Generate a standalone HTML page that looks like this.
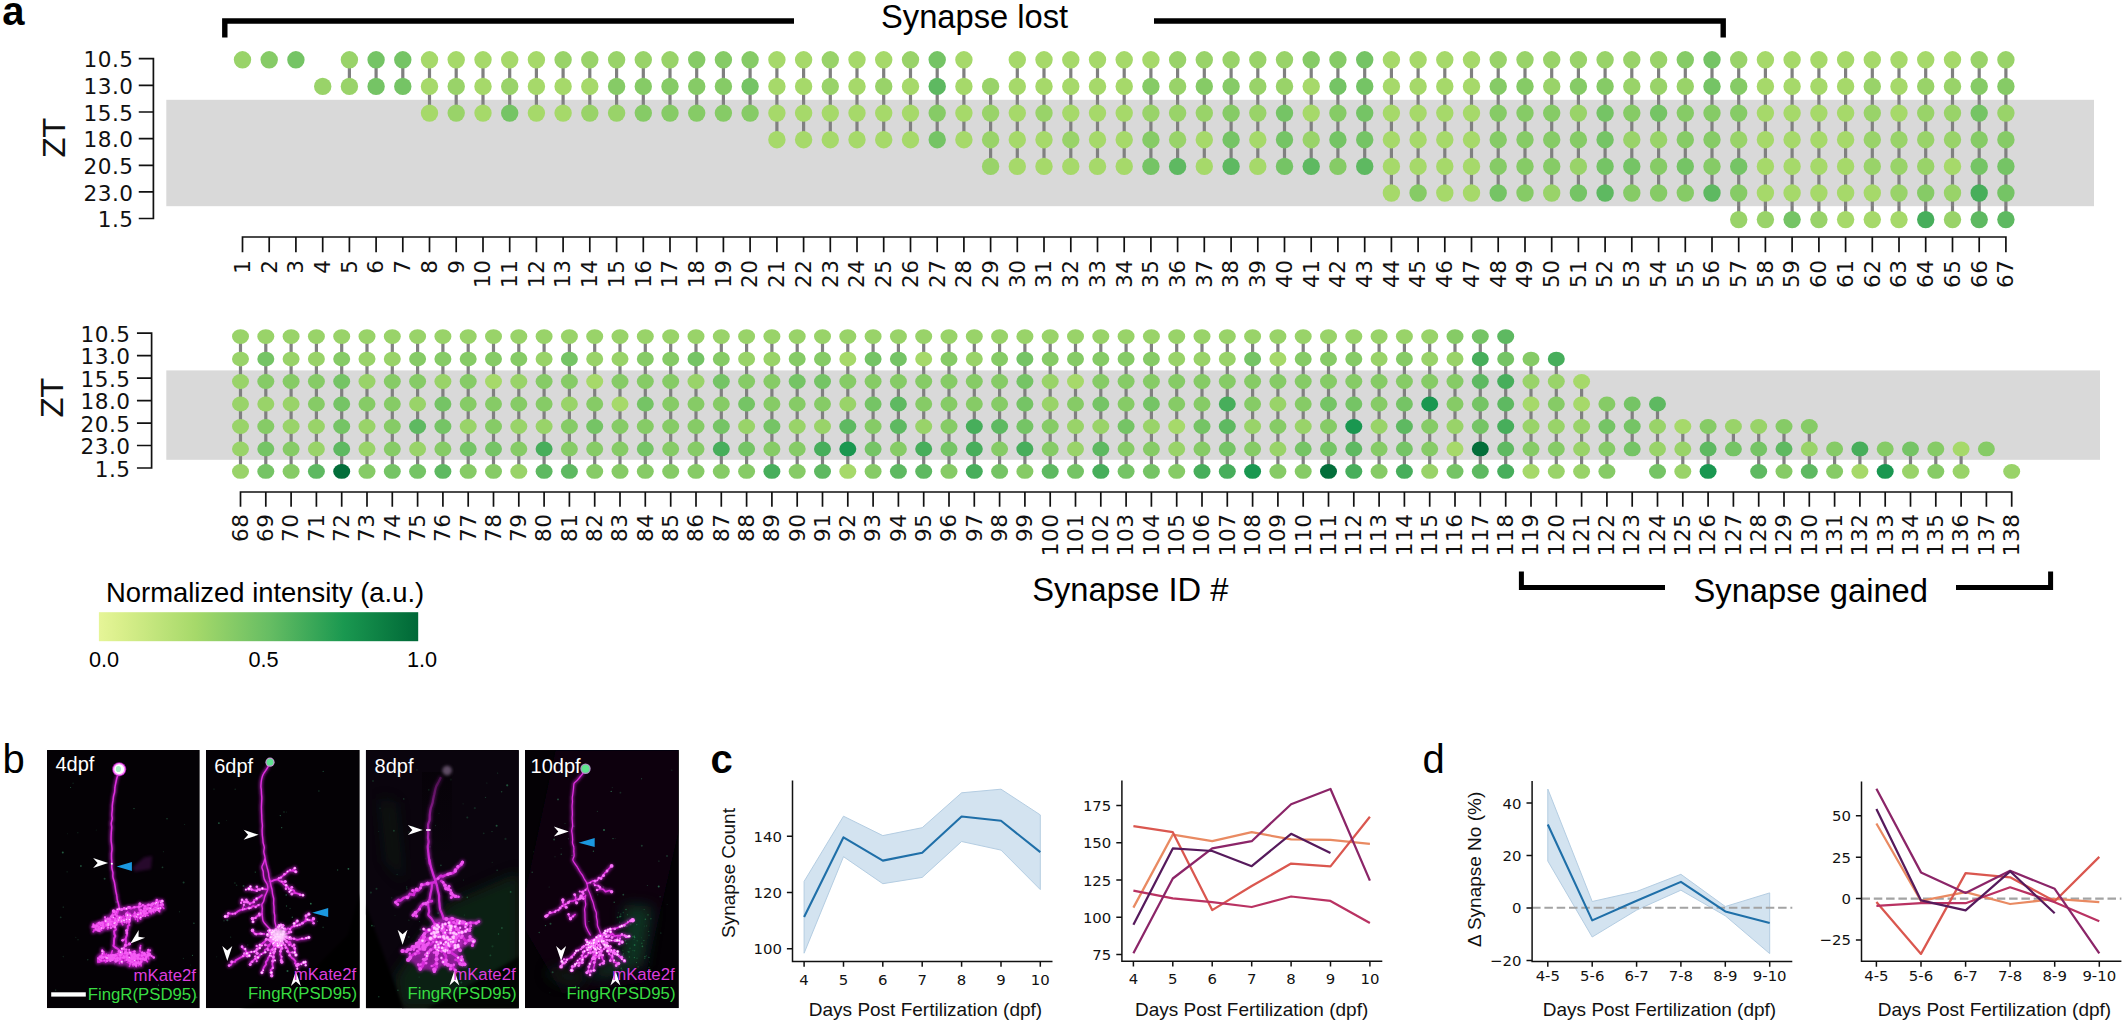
<!DOCTYPE html>
<html lang="en"><head><meta charset="utf-8"><title>Synapse dynamics figure</title>
<style>
html,body{margin:0;padding:0;background:#fff;}
body{width:2125px;height:1023px;overflow:hidden;font-family:"Liberation Sans",sans-serif;}
svg{display:block;}
text{white-space:pre;}
</style></head><body>
<svg width="2125" height="1023" viewBox="0 0 2125 1023">
<rect width="2125" height="1023" fill="#fff"/>
<rect x="166.3" y="99.8" width="1927.7" height="106.4" fill="#d9d9d9"/>
<path d="M349.4 59.8V86.4M376.1 59.8V86.4M402.8 59.8V86.4M429.5 59.8V113.1M456.2 59.8V113.1M483.0 59.8V113.1M509.7 59.8V113.1M536.4 59.8V113.1M563.1 59.8V113.1M589.8 59.8V113.1M616.6 59.8V113.1M643.3 59.8V113.1M670.0 59.8V113.1M696.7 59.8V113.1M723.4 59.8V113.1M750.1 59.8V113.1M776.9 59.8V139.7M803.6 59.8V139.7M830.3 59.8V139.7M857.0 59.8V139.7M883.7 59.8V139.7M910.5 59.8V139.7M937.2 59.8V139.7M963.9 59.8V139.7M990.6 86.4V166.4M1017.3 59.8V166.4M1044.0 59.8V166.4M1070.8 59.8V166.4M1097.5 59.8V166.4M1124.2 59.8V166.4M1150.9 59.8V166.4M1177.6 59.8V166.4M1204.3 59.8V166.4M1231.1 59.8V166.4M1257.8 59.8V166.4M1284.5 59.8V166.4M1311.2 59.8V166.4M1337.9 59.8V166.4M1364.7 59.8V166.4M1391.4 59.8V193.0M1418.1 59.8V193.0M1444.8 59.8V193.0M1471.5 59.8V193.0M1498.2 59.8V193.0M1525.0 59.8V193.0M1551.7 59.8V193.0M1578.4 59.8V193.0M1605.1 59.8V193.0M1631.8 59.8V193.0M1658.6 59.8V193.0M1685.3 59.8V193.0M1712.0 59.8V193.0M1738.7 59.8V219.6M1765.4 59.8V219.6M1792.1 59.8V219.6M1818.9 59.8V219.6M1845.6 59.8V219.6M1872.3 59.8V219.6M1899.0 59.8V219.6M1925.7 59.8V219.6M1952.5 59.8V219.6M1979.2 59.8V219.6M2005.9 59.8V219.6" stroke="#808080" stroke-width="3.2" fill="none"/>
<circle cx="242.5" cy="59.8" r="8.7" fill="#99d369"/>
<circle cx="269.2" cy="59.8" r="8.7" fill="#86cb66"/>
<circle cx="295.9" cy="59.8" r="8.7" fill="#75c465"/>
<circle cx="322.7" cy="86.4" r="8.7" fill="#99d369"/>
<circle cx="349.4" cy="59.8" r="8.7" fill="#99d369"/>
<circle cx="349.4" cy="86.4" r="8.7" fill="#99d369"/>
<circle cx="376.1" cy="59.8" r="8.7" fill="#75c465"/>
<circle cx="376.1" cy="86.4" r="8.7" fill="#75c465"/>
<circle cx="402.8" cy="59.8" r="8.7" fill="#75c465"/>
<circle cx="402.8" cy="86.4" r="8.7" fill="#75c465"/>
<circle cx="429.5" cy="59.8" r="8.7" fill="#a6d96a"/>
<circle cx="429.5" cy="86.4" r="8.7" fill="#a6d96a"/>
<circle cx="429.5" cy="113.1" r="8.7" fill="#a6d96a"/>
<circle cx="456.2" cy="59.8" r="8.7" fill="#a6d96a"/>
<circle cx="456.2" cy="86.4" r="8.7" fill="#99d369"/>
<circle cx="456.2" cy="113.1" r="8.7" fill="#99d369"/>
<circle cx="483.0" cy="59.8" r="8.7" fill="#a6d96a"/>
<circle cx="483.0" cy="86.4" r="8.7" fill="#a6d96a"/>
<circle cx="483.0" cy="113.1" r="8.7" fill="#a6d96a"/>
<circle cx="509.7" cy="59.8" r="8.7" fill="#a6d96a"/>
<circle cx="509.7" cy="86.4" r="8.7" fill="#99d369"/>
<circle cx="509.7" cy="113.1" r="8.7" fill="#75c465"/>
<circle cx="536.4" cy="59.8" r="8.7" fill="#a6d96a"/>
<circle cx="536.4" cy="86.4" r="8.7" fill="#a6d96a"/>
<circle cx="536.4" cy="113.1" r="8.7" fill="#a6d96a"/>
<circle cx="563.1" cy="59.8" r="8.7" fill="#99d369"/>
<circle cx="563.1" cy="86.4" r="8.7" fill="#a6d96a"/>
<circle cx="563.1" cy="113.1" r="8.7" fill="#a6d96a"/>
<circle cx="589.8" cy="59.8" r="8.7" fill="#99d369"/>
<circle cx="589.8" cy="86.4" r="8.7" fill="#a6d96a"/>
<circle cx="589.8" cy="113.1" r="8.7" fill="#99d369"/>
<circle cx="616.6" cy="59.8" r="8.7" fill="#99d369"/>
<circle cx="616.6" cy="86.4" r="8.7" fill="#86cb66"/>
<circle cx="616.6" cy="113.1" r="8.7" fill="#99d369"/>
<circle cx="643.3" cy="59.8" r="8.7" fill="#99d369"/>
<circle cx="643.3" cy="86.4" r="8.7" fill="#86cb66"/>
<circle cx="643.3" cy="113.1" r="8.7" fill="#86cb66"/>
<circle cx="670.0" cy="59.8" r="8.7" fill="#99d369"/>
<circle cx="670.0" cy="86.4" r="8.7" fill="#86cb66"/>
<circle cx="670.0" cy="113.1" r="8.7" fill="#86cb66"/>
<circle cx="696.7" cy="59.8" r="8.7" fill="#86cb66"/>
<circle cx="696.7" cy="86.4" r="8.7" fill="#86cb66"/>
<circle cx="696.7" cy="113.1" r="8.7" fill="#86cb66"/>
<circle cx="723.4" cy="59.8" r="8.7" fill="#86cb66"/>
<circle cx="723.4" cy="86.4" r="8.7" fill="#86cb66"/>
<circle cx="723.4" cy="113.1" r="8.7" fill="#86cb66"/>
<circle cx="750.1" cy="59.8" r="8.7" fill="#86cb66"/>
<circle cx="750.1" cy="86.4" r="8.7" fill="#75c465"/>
<circle cx="750.1" cy="113.1" r="8.7" fill="#86cb66"/>
<circle cx="776.9" cy="59.8" r="8.7" fill="#a6d96a"/>
<circle cx="776.9" cy="86.4" r="8.7" fill="#a6d96a"/>
<circle cx="776.9" cy="113.1" r="8.7" fill="#a6d96a"/>
<circle cx="776.9" cy="139.7" r="8.7" fill="#a6d96a"/>
<circle cx="803.6" cy="59.8" r="8.7" fill="#a6d96a"/>
<circle cx="803.6" cy="86.4" r="8.7" fill="#a6d96a"/>
<circle cx="803.6" cy="113.1" r="8.7" fill="#a6d96a"/>
<circle cx="803.6" cy="139.7" r="8.7" fill="#a6d96a"/>
<circle cx="830.3" cy="59.8" r="8.7" fill="#99d369"/>
<circle cx="830.3" cy="86.4" r="8.7" fill="#99d369"/>
<circle cx="830.3" cy="113.1" r="8.7" fill="#a6d96a"/>
<circle cx="830.3" cy="139.7" r="8.7" fill="#a6d96a"/>
<circle cx="857.0" cy="59.8" r="8.7" fill="#a6d96a"/>
<circle cx="857.0" cy="86.4" r="8.7" fill="#a6d96a"/>
<circle cx="857.0" cy="113.1" r="8.7" fill="#a6d96a"/>
<circle cx="857.0" cy="139.7" r="8.7" fill="#a6d96a"/>
<circle cx="883.7" cy="59.8" r="8.7" fill="#a6d96a"/>
<circle cx="883.7" cy="86.4" r="8.7" fill="#99d369"/>
<circle cx="883.7" cy="113.1" r="8.7" fill="#a6d96a"/>
<circle cx="883.7" cy="139.7" r="8.7" fill="#a6d96a"/>
<circle cx="910.5" cy="59.8" r="8.7" fill="#99d369"/>
<circle cx="910.5" cy="86.4" r="8.7" fill="#a6d96a"/>
<circle cx="910.5" cy="113.1" r="8.7" fill="#a6d96a"/>
<circle cx="910.5" cy="139.7" r="8.7" fill="#a6d96a"/>
<circle cx="937.2" cy="59.8" r="8.7" fill="#75c465"/>
<circle cx="937.2" cy="86.4" r="8.7" fill="#5eb961"/>
<circle cx="937.2" cy="113.1" r="8.7" fill="#86cb66"/>
<circle cx="937.2" cy="139.7" r="8.7" fill="#75c465"/>
<circle cx="963.9" cy="59.8" r="8.7" fill="#a6d96a"/>
<circle cx="963.9" cy="86.4" r="8.7" fill="#a6d96a"/>
<circle cx="963.9" cy="113.1" r="8.7" fill="#a6d96a"/>
<circle cx="963.9" cy="139.7" r="8.7" fill="#a6d96a"/>
<circle cx="990.6" cy="86.4" r="8.7" fill="#99d369"/>
<circle cx="990.6" cy="113.1" r="8.7" fill="#99d369"/>
<circle cx="990.6" cy="139.7" r="8.7" fill="#99d369"/>
<circle cx="990.6" cy="166.4" r="8.7" fill="#99d369"/>
<circle cx="1017.3" cy="59.8" r="8.7" fill="#a6d96a"/>
<circle cx="1017.3" cy="86.4" r="8.7" fill="#a6d96a"/>
<circle cx="1017.3" cy="113.1" r="8.7" fill="#a6d96a"/>
<circle cx="1017.3" cy="139.7" r="8.7" fill="#a6d96a"/>
<circle cx="1017.3" cy="166.4" r="8.7" fill="#a6d96a"/>
<circle cx="1044.0" cy="59.8" r="8.7" fill="#a6d96a"/>
<circle cx="1044.0" cy="86.4" r="8.7" fill="#a6d96a"/>
<circle cx="1044.0" cy="113.1" r="8.7" fill="#99d369"/>
<circle cx="1044.0" cy="139.7" r="8.7" fill="#a6d96a"/>
<circle cx="1044.0" cy="166.4" r="8.7" fill="#a6d96a"/>
<circle cx="1070.8" cy="59.8" r="8.7" fill="#a6d96a"/>
<circle cx="1070.8" cy="86.4" r="8.7" fill="#a6d96a"/>
<circle cx="1070.8" cy="113.1" r="8.7" fill="#a6d96a"/>
<circle cx="1070.8" cy="139.7" r="8.7" fill="#99d369"/>
<circle cx="1070.8" cy="166.4" r="8.7" fill="#a6d96a"/>
<circle cx="1097.5" cy="59.8" r="8.7" fill="#a6d96a"/>
<circle cx="1097.5" cy="86.4" r="8.7" fill="#a6d96a"/>
<circle cx="1097.5" cy="113.1" r="8.7" fill="#a6d96a"/>
<circle cx="1097.5" cy="139.7" r="8.7" fill="#a6d96a"/>
<circle cx="1097.5" cy="166.4" r="8.7" fill="#a6d96a"/>
<circle cx="1124.2" cy="59.8" r="8.7" fill="#a6d96a"/>
<circle cx="1124.2" cy="86.4" r="8.7" fill="#a6d96a"/>
<circle cx="1124.2" cy="113.1" r="8.7" fill="#a6d96a"/>
<circle cx="1124.2" cy="139.7" r="8.7" fill="#a6d96a"/>
<circle cx="1124.2" cy="166.4" r="8.7" fill="#a6d96a"/>
<circle cx="1150.9" cy="59.8" r="8.7" fill="#a6d96a"/>
<circle cx="1150.9" cy="86.4" r="8.7" fill="#86cb66"/>
<circle cx="1150.9" cy="113.1" r="8.7" fill="#99d369"/>
<circle cx="1150.9" cy="139.7" r="8.7" fill="#86cb66"/>
<circle cx="1150.9" cy="166.4" r="8.7" fill="#75c465"/>
<circle cx="1177.6" cy="59.8" r="8.7" fill="#99d369"/>
<circle cx="1177.6" cy="86.4" r="8.7" fill="#99d369"/>
<circle cx="1177.6" cy="113.1" r="8.7" fill="#99d369"/>
<circle cx="1177.6" cy="139.7" r="8.7" fill="#99d369"/>
<circle cx="1177.6" cy="166.4" r="8.7" fill="#5eb961"/>
<circle cx="1204.3" cy="59.8" r="8.7" fill="#99d369"/>
<circle cx="1204.3" cy="86.4" r="8.7" fill="#86cb66"/>
<circle cx="1204.3" cy="113.1" r="8.7" fill="#99d369"/>
<circle cx="1204.3" cy="139.7" r="8.7" fill="#a6d96a"/>
<circle cx="1204.3" cy="166.4" r="8.7" fill="#a6d96a"/>
<circle cx="1231.1" cy="59.8" r="8.7" fill="#99d369"/>
<circle cx="1231.1" cy="86.4" r="8.7" fill="#86cb66"/>
<circle cx="1231.1" cy="113.1" r="8.7" fill="#86cb66"/>
<circle cx="1231.1" cy="139.7" r="8.7" fill="#75c465"/>
<circle cx="1231.1" cy="166.4" r="8.7" fill="#5eb961"/>
<circle cx="1257.8" cy="59.8" r="8.7" fill="#99d369"/>
<circle cx="1257.8" cy="86.4" r="8.7" fill="#99d369"/>
<circle cx="1257.8" cy="113.1" r="8.7" fill="#99d369"/>
<circle cx="1257.8" cy="139.7" r="8.7" fill="#a6d96a"/>
<circle cx="1257.8" cy="166.4" r="8.7" fill="#a6d96a"/>
<circle cx="1284.5" cy="59.8" r="8.7" fill="#99d369"/>
<circle cx="1284.5" cy="86.4" r="8.7" fill="#99d369"/>
<circle cx="1284.5" cy="113.1" r="8.7" fill="#75c465"/>
<circle cx="1284.5" cy="139.7" r="8.7" fill="#75c465"/>
<circle cx="1284.5" cy="166.4" r="8.7" fill="#75c465"/>
<circle cx="1311.2" cy="59.8" r="8.7" fill="#86cb66"/>
<circle cx="1311.2" cy="86.4" r="8.7" fill="#a6d96a"/>
<circle cx="1311.2" cy="113.1" r="8.7" fill="#a6d96a"/>
<circle cx="1311.2" cy="139.7" r="8.7" fill="#99d369"/>
<circle cx="1311.2" cy="166.4" r="8.7" fill="#5eb961"/>
<circle cx="1337.9" cy="59.8" r="8.7" fill="#86cb66"/>
<circle cx="1337.9" cy="86.4" r="8.7" fill="#75c465"/>
<circle cx="1337.9" cy="113.1" r="8.7" fill="#86cb66"/>
<circle cx="1337.9" cy="139.7" r="8.7" fill="#75c465"/>
<circle cx="1337.9" cy="166.4" r="8.7" fill="#86cb66"/>
<circle cx="1364.7" cy="59.8" r="8.7" fill="#75c465"/>
<circle cx="1364.7" cy="86.4" r="8.7" fill="#75c465"/>
<circle cx="1364.7" cy="113.1" r="8.7" fill="#75c465"/>
<circle cx="1364.7" cy="139.7" r="8.7" fill="#75c465"/>
<circle cx="1364.7" cy="166.4" r="8.7" fill="#5eb961"/>
<circle cx="1391.4" cy="59.8" r="8.7" fill="#a6d96a"/>
<circle cx="1391.4" cy="86.4" r="8.7" fill="#a6d96a"/>
<circle cx="1391.4" cy="113.1" r="8.7" fill="#a6d96a"/>
<circle cx="1391.4" cy="139.7" r="8.7" fill="#a6d96a"/>
<circle cx="1391.4" cy="166.4" r="8.7" fill="#a6d96a"/>
<circle cx="1391.4" cy="193.0" r="8.7" fill="#a6d96a"/>
<circle cx="1418.1" cy="59.8" r="8.7" fill="#a6d96a"/>
<circle cx="1418.1" cy="86.4" r="8.7" fill="#a6d96a"/>
<circle cx="1418.1" cy="113.1" r="8.7" fill="#a6d96a"/>
<circle cx="1418.1" cy="139.7" r="8.7" fill="#a6d96a"/>
<circle cx="1418.1" cy="166.4" r="8.7" fill="#a6d96a"/>
<circle cx="1418.1" cy="193.0" r="8.7" fill="#86cb66"/>
<circle cx="1444.8" cy="59.8" r="8.7" fill="#a6d96a"/>
<circle cx="1444.8" cy="86.4" r="8.7" fill="#a6d96a"/>
<circle cx="1444.8" cy="113.1" r="8.7" fill="#a6d96a"/>
<circle cx="1444.8" cy="139.7" r="8.7" fill="#a6d96a"/>
<circle cx="1444.8" cy="166.4" r="8.7" fill="#a6d96a"/>
<circle cx="1444.8" cy="193.0" r="8.7" fill="#a6d96a"/>
<circle cx="1471.5" cy="59.8" r="8.7" fill="#a6d96a"/>
<circle cx="1471.5" cy="86.4" r="8.7" fill="#a6d96a"/>
<circle cx="1471.5" cy="113.1" r="8.7" fill="#a6d96a"/>
<circle cx="1471.5" cy="139.7" r="8.7" fill="#a6d96a"/>
<circle cx="1471.5" cy="166.4" r="8.7" fill="#a6d96a"/>
<circle cx="1471.5" cy="193.0" r="8.7" fill="#a6d96a"/>
<circle cx="1498.2" cy="59.8" r="8.7" fill="#99d369"/>
<circle cx="1498.2" cy="86.4" r="8.7" fill="#86cb66"/>
<circle cx="1498.2" cy="113.1" r="8.7" fill="#86cb66"/>
<circle cx="1498.2" cy="139.7" r="8.7" fill="#86cb66"/>
<circle cx="1498.2" cy="166.4" r="8.7" fill="#86cb66"/>
<circle cx="1498.2" cy="193.0" r="8.7" fill="#75c465"/>
<circle cx="1525.0" cy="59.8" r="8.7" fill="#99d369"/>
<circle cx="1525.0" cy="86.4" r="8.7" fill="#86cb66"/>
<circle cx="1525.0" cy="113.1" r="8.7" fill="#86cb66"/>
<circle cx="1525.0" cy="139.7" r="8.7" fill="#86cb66"/>
<circle cx="1525.0" cy="166.4" r="8.7" fill="#86cb66"/>
<circle cx="1525.0" cy="193.0" r="8.7" fill="#86cb66"/>
<circle cx="1551.7" cy="59.8" r="8.7" fill="#99d369"/>
<circle cx="1551.7" cy="86.4" r="8.7" fill="#99d369"/>
<circle cx="1551.7" cy="113.1" r="8.7" fill="#86cb66"/>
<circle cx="1551.7" cy="139.7" r="8.7" fill="#86cb66"/>
<circle cx="1551.7" cy="166.4" r="8.7" fill="#86cb66"/>
<circle cx="1551.7" cy="193.0" r="8.7" fill="#99d369"/>
<circle cx="1578.4" cy="59.8" r="8.7" fill="#99d369"/>
<circle cx="1578.4" cy="86.4" r="8.7" fill="#86cb66"/>
<circle cx="1578.4" cy="113.1" r="8.7" fill="#99d369"/>
<circle cx="1578.4" cy="139.7" r="8.7" fill="#86cb66"/>
<circle cx="1578.4" cy="166.4" r="8.7" fill="#99d369"/>
<circle cx="1578.4" cy="193.0" r="8.7" fill="#75c465"/>
<circle cx="1605.1" cy="59.8" r="8.7" fill="#99d369"/>
<circle cx="1605.1" cy="86.4" r="8.7" fill="#86cb66"/>
<circle cx="1605.1" cy="113.1" r="8.7" fill="#75c465"/>
<circle cx="1605.1" cy="139.7" r="8.7" fill="#75c465"/>
<circle cx="1605.1" cy="166.4" r="8.7" fill="#75c465"/>
<circle cx="1605.1" cy="193.0" r="8.7" fill="#5eb961"/>
<circle cx="1631.8" cy="59.8" r="8.7" fill="#99d369"/>
<circle cx="1631.8" cy="86.4" r="8.7" fill="#99d369"/>
<circle cx="1631.8" cy="113.1" r="8.7" fill="#86cb66"/>
<circle cx="1631.8" cy="139.7" r="8.7" fill="#99d369"/>
<circle cx="1631.8" cy="166.4" r="8.7" fill="#75c465"/>
<circle cx="1631.8" cy="193.0" r="8.7" fill="#86cb66"/>
<circle cx="1658.6" cy="59.8" r="8.7" fill="#99d369"/>
<circle cx="1658.6" cy="86.4" r="8.7" fill="#99d369"/>
<circle cx="1658.6" cy="113.1" r="8.7" fill="#75c465"/>
<circle cx="1658.6" cy="139.7" r="8.7" fill="#99d369"/>
<circle cx="1658.6" cy="166.4" r="8.7" fill="#86cb66"/>
<circle cx="1658.6" cy="193.0" r="8.7" fill="#86cb66"/>
<circle cx="1685.3" cy="59.8" r="8.7" fill="#86cb66"/>
<circle cx="1685.3" cy="86.4" r="8.7" fill="#99d369"/>
<circle cx="1685.3" cy="113.1" r="8.7" fill="#86cb66"/>
<circle cx="1685.3" cy="139.7" r="8.7" fill="#86cb66"/>
<circle cx="1685.3" cy="166.4" r="8.7" fill="#75c465"/>
<circle cx="1685.3" cy="193.0" r="8.7" fill="#86cb66"/>
<circle cx="1712.0" cy="59.8" r="8.7" fill="#75c465"/>
<circle cx="1712.0" cy="86.4" r="8.7" fill="#75c465"/>
<circle cx="1712.0" cy="113.1" r="8.7" fill="#86cb66"/>
<circle cx="1712.0" cy="139.7" r="8.7" fill="#86cb66"/>
<circle cx="1712.0" cy="166.4" r="8.7" fill="#86cb66"/>
<circle cx="1712.0" cy="193.0" r="8.7" fill="#5eb961"/>
<circle cx="1738.7" cy="59.8" r="8.7" fill="#99d369"/>
<circle cx="1738.7" cy="86.4" r="8.7" fill="#86cb66"/>
<circle cx="1738.7" cy="113.1" r="8.7" fill="#86cb66"/>
<circle cx="1738.7" cy="139.7" r="8.7" fill="#99d369"/>
<circle cx="1738.7" cy="166.4" r="8.7" fill="#75c465"/>
<circle cx="1738.7" cy="193.0" r="8.7" fill="#86cb66"/>
<circle cx="1738.7" cy="219.6" r="8.7" fill="#99d369"/>
<circle cx="1765.4" cy="59.8" r="8.7" fill="#a6d96a"/>
<circle cx="1765.4" cy="86.4" r="8.7" fill="#a6d96a"/>
<circle cx="1765.4" cy="113.1" r="8.7" fill="#a6d96a"/>
<circle cx="1765.4" cy="139.7" r="8.7" fill="#a6d96a"/>
<circle cx="1765.4" cy="166.4" r="8.7" fill="#a6d96a"/>
<circle cx="1765.4" cy="193.0" r="8.7" fill="#a6d96a"/>
<circle cx="1765.4" cy="219.6" r="8.7" fill="#99d369"/>
<circle cx="1792.1" cy="59.8" r="8.7" fill="#a6d96a"/>
<circle cx="1792.1" cy="86.4" r="8.7" fill="#a6d96a"/>
<circle cx="1792.1" cy="113.1" r="8.7" fill="#a6d96a"/>
<circle cx="1792.1" cy="139.7" r="8.7" fill="#a6d96a"/>
<circle cx="1792.1" cy="166.4" r="8.7" fill="#a6d96a"/>
<circle cx="1792.1" cy="193.0" r="8.7" fill="#a6d96a"/>
<circle cx="1792.1" cy="219.6" r="8.7" fill="#75c465"/>
<circle cx="1818.9" cy="59.8" r="8.7" fill="#a6d96a"/>
<circle cx="1818.9" cy="86.4" r="8.7" fill="#a6d96a"/>
<circle cx="1818.9" cy="113.1" r="8.7" fill="#a6d96a"/>
<circle cx="1818.9" cy="139.7" r="8.7" fill="#a6d96a"/>
<circle cx="1818.9" cy="166.4" r="8.7" fill="#a6d96a"/>
<circle cx="1818.9" cy="193.0" r="8.7" fill="#a6d96a"/>
<circle cx="1818.9" cy="219.6" r="8.7" fill="#99d369"/>
<circle cx="1845.6" cy="59.8" r="8.7" fill="#a6d96a"/>
<circle cx="1845.6" cy="86.4" r="8.7" fill="#a6d96a"/>
<circle cx="1845.6" cy="113.1" r="8.7" fill="#a6d96a"/>
<circle cx="1845.6" cy="139.7" r="8.7" fill="#a6d96a"/>
<circle cx="1845.6" cy="166.4" r="8.7" fill="#a6d96a"/>
<circle cx="1845.6" cy="193.0" r="8.7" fill="#a6d96a"/>
<circle cx="1845.6" cy="219.6" r="8.7" fill="#a6d96a"/>
<circle cx="1872.3" cy="59.8" r="8.7" fill="#a6d96a"/>
<circle cx="1872.3" cy="86.4" r="8.7" fill="#99d369"/>
<circle cx="1872.3" cy="113.1" r="8.7" fill="#99d369"/>
<circle cx="1872.3" cy="139.7" r="8.7" fill="#99d369"/>
<circle cx="1872.3" cy="166.4" r="8.7" fill="#99d369"/>
<circle cx="1872.3" cy="193.0" r="8.7" fill="#a6d96a"/>
<circle cx="1872.3" cy="219.6" r="8.7" fill="#a6d96a"/>
<circle cx="1899.0" cy="59.8" r="8.7" fill="#a6d96a"/>
<circle cx="1899.0" cy="86.4" r="8.7" fill="#a6d96a"/>
<circle cx="1899.0" cy="113.1" r="8.7" fill="#a6d96a"/>
<circle cx="1899.0" cy="139.7" r="8.7" fill="#99d369"/>
<circle cx="1899.0" cy="166.4" r="8.7" fill="#99d369"/>
<circle cx="1899.0" cy="193.0" r="8.7" fill="#99d369"/>
<circle cx="1899.0" cy="219.6" r="8.7" fill="#a6d96a"/>
<circle cx="1925.7" cy="59.8" r="8.7" fill="#a6d96a"/>
<circle cx="1925.7" cy="86.4" r="8.7" fill="#99d369"/>
<circle cx="1925.7" cy="113.1" r="8.7" fill="#99d369"/>
<circle cx="1925.7" cy="139.7" r="8.7" fill="#99d369"/>
<circle cx="1925.7" cy="166.4" r="8.7" fill="#99d369"/>
<circle cx="1925.7" cy="193.0" r="8.7" fill="#86cb66"/>
<circle cx="1925.7" cy="219.6" r="8.7" fill="#47ae5b"/>
<circle cx="1952.5" cy="59.8" r="8.7" fill="#a6d96a"/>
<circle cx="1952.5" cy="86.4" r="8.7" fill="#99d369"/>
<circle cx="1952.5" cy="113.1" r="8.7" fill="#99d369"/>
<circle cx="1952.5" cy="139.7" r="8.7" fill="#99d369"/>
<circle cx="1952.5" cy="166.4" r="8.7" fill="#a6d96a"/>
<circle cx="1952.5" cy="193.0" r="8.7" fill="#99d369"/>
<circle cx="1952.5" cy="219.6" r="8.7" fill="#99d369"/>
<circle cx="1979.2" cy="59.8" r="8.7" fill="#99d369"/>
<circle cx="1979.2" cy="86.4" r="8.7" fill="#86cb66"/>
<circle cx="1979.2" cy="113.1" r="8.7" fill="#75c465"/>
<circle cx="1979.2" cy="139.7" r="8.7" fill="#86cb66"/>
<circle cx="1979.2" cy="166.4" r="8.7" fill="#75c465"/>
<circle cx="1979.2" cy="193.0" r="8.7" fill="#47ae5b"/>
<circle cx="1979.2" cy="219.6" r="8.7" fill="#5eb961"/>
<circle cx="2005.9" cy="59.8" r="8.7" fill="#99d369"/>
<circle cx="2005.9" cy="86.4" r="8.7" fill="#86cb66"/>
<circle cx="2005.9" cy="113.1" r="8.7" fill="#99d369"/>
<circle cx="2005.9" cy="139.7" r="8.7" fill="#86cb66"/>
<circle cx="2005.9" cy="166.4" r="8.7" fill="#75c465"/>
<circle cx="2005.9" cy="193.0" r="8.7" fill="#75c465"/>
<circle cx="2005.9" cy="219.6" r="8.7" fill="#5eb961"/>
<path d="M153.4 58.7V218.5M139.6 58.7H153.4M139.6 85.3H153.4M139.6 112.0H153.4M139.6 138.6H153.4M139.6 165.3H153.4M139.6 191.9H153.4M139.6 218.5H153.4" stroke="#111" stroke-width="1.7" fill="none" stroke-linecap="square"/>
<text x="133.5" y="67.3" font-size="21.6" letter-spacing="0.5" text-anchor="end" font-family="DejaVu Sans, Liberation Sans, sans-serif" fill="#111">10.5</text>
<text x="133.5" y="93.9" font-size="21.6" letter-spacing="0.5" text-anchor="end" font-family="DejaVu Sans, Liberation Sans, sans-serif" fill="#111">13.0</text>
<text x="133.5" y="120.6" font-size="21.6" letter-spacing="0.5" text-anchor="end" font-family="DejaVu Sans, Liberation Sans, sans-serif" fill="#111">15.5</text>
<text x="133.5" y="147.2" font-size="21.6" letter-spacing="0.5" text-anchor="end" font-family="DejaVu Sans, Liberation Sans, sans-serif" fill="#111">18.0</text>
<text x="133.5" y="173.8" font-size="21.6" letter-spacing="0.5" text-anchor="end" font-family="DejaVu Sans, Liberation Sans, sans-serif" fill="#111">20.5</text>
<text x="133.5" y="200.5" font-size="21.6" letter-spacing="0.5" text-anchor="end" font-family="DejaVu Sans, Liberation Sans, sans-serif" fill="#111">23.0</text>
<text x="133.5" y="227.1" font-size="21.6" letter-spacing="0.5" text-anchor="end" font-family="DejaVu Sans, Liberation Sans, sans-serif" fill="#111">1.5</text>
<path d="M242.5 237.0H2005.9M242.5 237.0V251.3M269.2 237.0V251.3M295.9 237.0V251.3M322.7 237.0V251.3M349.4 237.0V251.3M376.1 237.0V251.3M402.8 237.0V251.3M429.5 237.0V251.3M456.2 237.0V251.3M483.0 237.0V251.3M509.7 237.0V251.3M536.4 237.0V251.3M563.1 237.0V251.3M589.8 237.0V251.3M616.6 237.0V251.3M643.3 237.0V251.3M670.0 237.0V251.3M696.7 237.0V251.3M723.4 237.0V251.3M750.1 237.0V251.3M776.9 237.0V251.3M803.6 237.0V251.3M830.3 237.0V251.3M857.0 237.0V251.3M883.7 237.0V251.3M910.5 237.0V251.3M937.2 237.0V251.3M963.9 237.0V251.3M990.6 237.0V251.3M1017.3 237.0V251.3M1044.0 237.0V251.3M1070.8 237.0V251.3M1097.5 237.0V251.3M1124.2 237.0V251.3M1150.9 237.0V251.3M1177.6 237.0V251.3M1204.3 237.0V251.3M1231.1 237.0V251.3M1257.8 237.0V251.3M1284.5 237.0V251.3M1311.2 237.0V251.3M1337.9 237.0V251.3M1364.7 237.0V251.3M1391.4 237.0V251.3M1418.1 237.0V251.3M1444.8 237.0V251.3M1471.5 237.0V251.3M1498.2 237.0V251.3M1525.0 237.0V251.3M1551.7 237.0V251.3M1578.4 237.0V251.3M1605.1 237.0V251.3M1631.8 237.0V251.3M1658.6 237.0V251.3M1685.3 237.0V251.3M1712.0 237.0V251.3M1738.7 237.0V251.3M1765.4 237.0V251.3M1792.1 237.0V251.3M1818.9 237.0V251.3M1845.6 237.0V251.3M1872.3 237.0V251.3M1899.0 237.0V251.3M1925.7 237.0V251.3M1952.5 237.0V251.3M1979.2 237.0V251.3M2005.9 237.0V251.3" stroke="#111" stroke-width="1.7" fill="none" stroke-linecap="square"/>
<text transform="translate(249.8 259.4) rotate(-90)" font-size="21.6" letter-spacing="0.5" text-anchor="end" font-family="DejaVu Sans, Liberation Sans, sans-serif" fill="#111">1</text>
<text transform="translate(276.5 259.4) rotate(-90)" font-size="21.6" letter-spacing="0.5" text-anchor="end" font-family="DejaVu Sans, Liberation Sans, sans-serif" fill="#111">2</text>
<text transform="translate(303.2 259.4) rotate(-90)" font-size="21.6" letter-spacing="0.5" text-anchor="end" font-family="DejaVu Sans, Liberation Sans, sans-serif" fill="#111">3</text>
<text transform="translate(329.9 259.4) rotate(-90)" font-size="21.6" letter-spacing="0.5" text-anchor="end" font-family="DejaVu Sans, Liberation Sans, sans-serif" fill="#111">4</text>
<text transform="translate(356.7 259.4) rotate(-90)" font-size="21.6" letter-spacing="0.5" text-anchor="end" font-family="DejaVu Sans, Liberation Sans, sans-serif" fill="#111">5</text>
<text transform="translate(383.4 259.4) rotate(-90)" font-size="21.6" letter-spacing="0.5" text-anchor="end" font-family="DejaVu Sans, Liberation Sans, sans-serif" fill="#111">6</text>
<text transform="translate(410.1 259.4) rotate(-90)" font-size="21.6" letter-spacing="0.5" text-anchor="end" font-family="DejaVu Sans, Liberation Sans, sans-serif" fill="#111">7</text>
<text transform="translate(436.8 259.4) rotate(-90)" font-size="21.6" letter-spacing="0.5" text-anchor="end" font-family="DejaVu Sans, Liberation Sans, sans-serif" fill="#111">8</text>
<text transform="translate(463.5 259.4) rotate(-90)" font-size="21.6" letter-spacing="0.5" text-anchor="end" font-family="DejaVu Sans, Liberation Sans, sans-serif" fill="#111">9</text>
<text transform="translate(490.2 259.4) rotate(-90)" font-size="21.6" letter-spacing="0.5" text-anchor="end" font-family="DejaVu Sans, Liberation Sans, sans-serif" fill="#111">10</text>
<text transform="translate(517.0 259.4) rotate(-90)" font-size="21.6" letter-spacing="0.5" text-anchor="end" font-family="DejaVu Sans, Liberation Sans, sans-serif" fill="#111">11</text>
<text transform="translate(543.7 259.4) rotate(-90)" font-size="21.6" letter-spacing="0.5" text-anchor="end" font-family="DejaVu Sans, Liberation Sans, sans-serif" fill="#111">12</text>
<text transform="translate(570.4 259.4) rotate(-90)" font-size="21.6" letter-spacing="0.5" text-anchor="end" font-family="DejaVu Sans, Liberation Sans, sans-serif" fill="#111">13</text>
<text transform="translate(597.1 259.4) rotate(-90)" font-size="21.6" letter-spacing="0.5" text-anchor="end" font-family="DejaVu Sans, Liberation Sans, sans-serif" fill="#111">14</text>
<text transform="translate(623.8 259.4) rotate(-90)" font-size="21.6" letter-spacing="0.5" text-anchor="end" font-family="DejaVu Sans, Liberation Sans, sans-serif" fill="#111">15</text>
<text transform="translate(650.6 259.4) rotate(-90)" font-size="21.6" letter-spacing="0.5" text-anchor="end" font-family="DejaVu Sans, Liberation Sans, sans-serif" fill="#111">16</text>
<text transform="translate(677.3 259.4) rotate(-90)" font-size="21.6" letter-spacing="0.5" text-anchor="end" font-family="DejaVu Sans, Liberation Sans, sans-serif" fill="#111">17</text>
<text transform="translate(704.0 259.4) rotate(-90)" font-size="21.6" letter-spacing="0.5" text-anchor="end" font-family="DejaVu Sans, Liberation Sans, sans-serif" fill="#111">18</text>
<text transform="translate(730.7 259.4) rotate(-90)" font-size="21.6" letter-spacing="0.5" text-anchor="end" font-family="DejaVu Sans, Liberation Sans, sans-serif" fill="#111">19</text>
<text transform="translate(757.4 259.4) rotate(-90)" font-size="21.6" letter-spacing="0.5" text-anchor="end" font-family="DejaVu Sans, Liberation Sans, sans-serif" fill="#111">20</text>
<text transform="translate(784.1 259.4) rotate(-90)" font-size="21.6" letter-spacing="0.5" text-anchor="end" font-family="DejaVu Sans, Liberation Sans, sans-serif" fill="#111">21</text>
<text transform="translate(810.9 259.4) rotate(-90)" font-size="21.6" letter-spacing="0.5" text-anchor="end" font-family="DejaVu Sans, Liberation Sans, sans-serif" fill="#111">22</text>
<text transform="translate(837.6 259.4) rotate(-90)" font-size="21.6" letter-spacing="0.5" text-anchor="end" font-family="DejaVu Sans, Liberation Sans, sans-serif" fill="#111">23</text>
<text transform="translate(864.3 259.4) rotate(-90)" font-size="21.6" letter-spacing="0.5" text-anchor="end" font-family="DejaVu Sans, Liberation Sans, sans-serif" fill="#111">24</text>
<text transform="translate(891.0 259.4) rotate(-90)" font-size="21.6" letter-spacing="0.5" text-anchor="end" font-family="DejaVu Sans, Liberation Sans, sans-serif" fill="#111">25</text>
<text transform="translate(917.7 259.4) rotate(-90)" font-size="21.6" letter-spacing="0.5" text-anchor="end" font-family="DejaVu Sans, Liberation Sans, sans-serif" fill="#111">26</text>
<text transform="translate(944.5 259.4) rotate(-90)" font-size="21.6" letter-spacing="0.5" text-anchor="end" font-family="DejaVu Sans, Liberation Sans, sans-serif" fill="#111">27</text>
<text transform="translate(971.2 259.4) rotate(-90)" font-size="21.6" letter-spacing="0.5" text-anchor="end" font-family="DejaVu Sans, Liberation Sans, sans-serif" fill="#111">28</text>
<text transform="translate(997.9 259.4) rotate(-90)" font-size="21.6" letter-spacing="0.5" text-anchor="end" font-family="DejaVu Sans, Liberation Sans, sans-serif" fill="#111">29</text>
<text transform="translate(1024.6 259.4) rotate(-90)" font-size="21.6" letter-spacing="0.5" text-anchor="end" font-family="DejaVu Sans, Liberation Sans, sans-serif" fill="#111">30</text>
<text transform="translate(1051.3 259.4) rotate(-90)" font-size="21.6" letter-spacing="0.5" text-anchor="end" font-family="DejaVu Sans, Liberation Sans, sans-serif" fill="#111">31</text>
<text transform="translate(1078.0 259.4) rotate(-90)" font-size="21.6" letter-spacing="0.5" text-anchor="end" font-family="DejaVu Sans, Liberation Sans, sans-serif" fill="#111">32</text>
<text transform="translate(1104.8 259.4) rotate(-90)" font-size="21.6" letter-spacing="0.5" text-anchor="end" font-family="DejaVu Sans, Liberation Sans, sans-serif" fill="#111">33</text>
<text transform="translate(1131.5 259.4) rotate(-90)" font-size="21.6" letter-spacing="0.5" text-anchor="end" font-family="DejaVu Sans, Liberation Sans, sans-serif" fill="#111">34</text>
<text transform="translate(1158.2 259.4) rotate(-90)" font-size="21.6" letter-spacing="0.5" text-anchor="end" font-family="DejaVu Sans, Liberation Sans, sans-serif" fill="#111">35</text>
<text transform="translate(1184.9 259.4) rotate(-90)" font-size="21.6" letter-spacing="0.5" text-anchor="end" font-family="DejaVu Sans, Liberation Sans, sans-serif" fill="#111">36</text>
<text transform="translate(1211.6 259.4) rotate(-90)" font-size="21.6" letter-spacing="0.5" text-anchor="end" font-family="DejaVu Sans, Liberation Sans, sans-serif" fill="#111">37</text>
<text transform="translate(1238.4 259.4) rotate(-90)" font-size="21.6" letter-spacing="0.5" text-anchor="end" font-family="DejaVu Sans, Liberation Sans, sans-serif" fill="#111">38</text>
<text transform="translate(1265.1 259.4) rotate(-90)" font-size="21.6" letter-spacing="0.5" text-anchor="end" font-family="DejaVu Sans, Liberation Sans, sans-serif" fill="#111">39</text>
<text transform="translate(1291.8 259.4) rotate(-90)" font-size="21.6" letter-spacing="0.5" text-anchor="end" font-family="DejaVu Sans, Liberation Sans, sans-serif" fill="#111">40</text>
<text transform="translate(1318.5 259.4) rotate(-90)" font-size="21.6" letter-spacing="0.5" text-anchor="end" font-family="DejaVu Sans, Liberation Sans, sans-serif" fill="#111">41</text>
<text transform="translate(1345.2 259.4) rotate(-90)" font-size="21.6" letter-spacing="0.5" text-anchor="end" font-family="DejaVu Sans, Liberation Sans, sans-serif" fill="#111">42</text>
<text transform="translate(1371.9 259.4) rotate(-90)" font-size="21.6" letter-spacing="0.5" text-anchor="end" font-family="DejaVu Sans, Liberation Sans, sans-serif" fill="#111">43</text>
<text transform="translate(1398.7 259.4) rotate(-90)" font-size="21.6" letter-spacing="0.5" text-anchor="end" font-family="DejaVu Sans, Liberation Sans, sans-serif" fill="#111">44</text>
<text transform="translate(1425.4 259.4) rotate(-90)" font-size="21.6" letter-spacing="0.5" text-anchor="end" font-family="DejaVu Sans, Liberation Sans, sans-serif" fill="#111">45</text>
<text transform="translate(1452.1 259.4) rotate(-90)" font-size="21.6" letter-spacing="0.5" text-anchor="end" font-family="DejaVu Sans, Liberation Sans, sans-serif" fill="#111">46</text>
<text transform="translate(1478.8 259.4) rotate(-90)" font-size="21.6" letter-spacing="0.5" text-anchor="end" font-family="DejaVu Sans, Liberation Sans, sans-serif" fill="#111">47</text>
<text transform="translate(1505.5 259.4) rotate(-90)" font-size="21.6" letter-spacing="0.5" text-anchor="end" font-family="DejaVu Sans, Liberation Sans, sans-serif" fill="#111">48</text>
<text transform="translate(1532.2 259.4) rotate(-90)" font-size="21.6" letter-spacing="0.5" text-anchor="end" font-family="DejaVu Sans, Liberation Sans, sans-serif" fill="#111">49</text>
<text transform="translate(1559.0 259.4) rotate(-90)" font-size="21.6" letter-spacing="0.5" text-anchor="end" font-family="DejaVu Sans, Liberation Sans, sans-serif" fill="#111">50</text>
<text transform="translate(1585.7 259.4) rotate(-90)" font-size="21.6" letter-spacing="0.5" text-anchor="end" font-family="DejaVu Sans, Liberation Sans, sans-serif" fill="#111">51</text>
<text transform="translate(1612.4 259.4) rotate(-90)" font-size="21.6" letter-spacing="0.5" text-anchor="end" font-family="DejaVu Sans, Liberation Sans, sans-serif" fill="#111">52</text>
<text transform="translate(1639.1 259.4) rotate(-90)" font-size="21.6" letter-spacing="0.5" text-anchor="end" font-family="DejaVu Sans, Liberation Sans, sans-serif" fill="#111">53</text>
<text transform="translate(1665.8 259.4) rotate(-90)" font-size="21.6" letter-spacing="0.5" text-anchor="end" font-family="DejaVu Sans, Liberation Sans, sans-serif" fill="#111">54</text>
<text transform="translate(1692.6 259.4) rotate(-90)" font-size="21.6" letter-spacing="0.5" text-anchor="end" font-family="DejaVu Sans, Liberation Sans, sans-serif" fill="#111">55</text>
<text transform="translate(1719.3 259.4) rotate(-90)" font-size="21.6" letter-spacing="0.5" text-anchor="end" font-family="DejaVu Sans, Liberation Sans, sans-serif" fill="#111">56</text>
<text transform="translate(1746.0 259.4) rotate(-90)" font-size="21.6" letter-spacing="0.5" text-anchor="end" font-family="DejaVu Sans, Liberation Sans, sans-serif" fill="#111">57</text>
<text transform="translate(1772.7 259.4) rotate(-90)" font-size="21.6" letter-spacing="0.5" text-anchor="end" font-family="DejaVu Sans, Liberation Sans, sans-serif" fill="#111">58</text>
<text transform="translate(1799.4 259.4) rotate(-90)" font-size="21.6" letter-spacing="0.5" text-anchor="end" font-family="DejaVu Sans, Liberation Sans, sans-serif" fill="#111">59</text>
<text transform="translate(1826.1 259.4) rotate(-90)" font-size="21.6" letter-spacing="0.5" text-anchor="end" font-family="DejaVu Sans, Liberation Sans, sans-serif" fill="#111">60</text>
<text transform="translate(1852.9 259.4) rotate(-90)" font-size="21.6" letter-spacing="0.5" text-anchor="end" font-family="DejaVu Sans, Liberation Sans, sans-serif" fill="#111">61</text>
<text transform="translate(1879.6 259.4) rotate(-90)" font-size="21.6" letter-spacing="0.5" text-anchor="end" font-family="DejaVu Sans, Liberation Sans, sans-serif" fill="#111">62</text>
<text transform="translate(1906.3 259.4) rotate(-90)" font-size="21.6" letter-spacing="0.5" text-anchor="end" font-family="DejaVu Sans, Liberation Sans, sans-serif" fill="#111">63</text>
<text transform="translate(1933.0 259.4) rotate(-90)" font-size="21.6" letter-spacing="0.5" text-anchor="end" font-family="DejaVu Sans, Liberation Sans, sans-serif" fill="#111">64</text>
<text transform="translate(1959.7 259.4) rotate(-90)" font-size="21.6" letter-spacing="0.5" text-anchor="end" font-family="DejaVu Sans, Liberation Sans, sans-serif" fill="#111">65</text>
<text transform="translate(1986.5 259.4) rotate(-90)" font-size="21.6" letter-spacing="0.5" text-anchor="end" font-family="DejaVu Sans, Liberation Sans, sans-serif" fill="#111">66</text>
<text transform="translate(2013.2 259.4) rotate(-90)" font-size="21.6" letter-spacing="0.5" text-anchor="end" font-family="DejaVu Sans, Liberation Sans, sans-serif" fill="#111">67</text>
<rect x="166.3" y="370.4" width="1933.7" height="89.4" fill="#d9d9d9"/>
<path d="M240.5 336.6V471.4M265.8 336.6V471.4M291.1 336.6V471.4M316.4 336.6V471.4M341.7 336.6V471.4M367.0 336.6V471.4M392.3 336.6V471.4M417.6 336.6V471.4M442.9 336.6V471.4M468.2 336.6V471.4M493.5 336.6V471.4M518.8 336.6V471.4M544.1 336.6V471.4M569.4 336.6V471.4M594.7 336.6V471.4M620.0 336.6V471.4M645.3 336.6V471.4M670.7 336.6V471.4M696.0 336.6V471.4M721.3 336.6V471.4M746.6 336.6V471.4M771.9 336.6V471.4M797.2 336.6V471.4M822.5 336.6V471.4M847.8 336.6V471.4M873.1 336.6V471.4M898.4 336.6V471.4M923.7 336.6V471.4M949.0 336.6V471.4M974.3 336.6V471.4M999.6 336.6V471.4M1024.9 336.6V471.4M1050.2 336.6V471.4M1075.5 336.6V471.4M1100.8 336.6V471.4M1126.1 336.6V471.4M1151.4 336.6V471.4M1176.7 336.6V471.4M1202.0 336.6V471.4M1227.3 336.6V471.4M1252.6 336.6V471.4M1277.9 336.6V471.4M1303.2 336.6V471.4M1328.5 336.6V471.4M1353.8 336.6V471.4M1379.1 336.6V471.4M1404.4 336.6V471.4M1429.7 336.6V471.4M1455.0 336.6V471.4M1480.3 336.6V471.4M1505.7 336.6V471.4M1531.0 359.1V471.4M1556.3 359.1V471.4M1581.6 381.5V471.4M1606.9 404.0V471.4M1632.2 404.0V448.9M1657.5 404.0V471.4M1682.8 426.5V471.4M1708.1 426.5V471.4M1733.4 426.5V448.9M1758.7 426.5V471.4M1784.0 426.5V471.4M1809.3 426.5V471.4M1834.6 448.9V471.4M1859.9 448.9V471.4M1885.2 448.9V471.4M1910.5 448.9V471.4M1935.8 448.9V471.4M1961.1 448.9V471.4" stroke="#808080" stroke-width="3.2" fill="none"/>
<ellipse cx="240.5" cy="336.6" rx="8.5" ry="7.4" fill="#99d369"/>
<ellipse cx="240.5" cy="359.1" rx="8.5" ry="7.4" fill="#99d369"/>
<ellipse cx="240.5" cy="381.5" rx="8.5" ry="7.4" fill="#99d369"/>
<ellipse cx="240.5" cy="404.0" rx="8.5" ry="7.4" fill="#99d369"/>
<ellipse cx="240.5" cy="426.5" rx="8.5" ry="7.4" fill="#99d369"/>
<ellipse cx="240.5" cy="448.9" rx="8.5" ry="7.4" fill="#99d369"/>
<ellipse cx="240.5" cy="471.4" rx="8.5" ry="7.4" fill="#99d369"/>
<ellipse cx="265.8" cy="336.6" rx="8.5" ry="7.4" fill="#99d369"/>
<ellipse cx="265.8" cy="359.1" rx="8.5" ry="7.4" fill="#75c465"/>
<ellipse cx="265.8" cy="381.5" rx="8.5" ry="7.4" fill="#86cb66"/>
<ellipse cx="265.8" cy="404.0" rx="8.5" ry="7.4" fill="#99d369"/>
<ellipse cx="265.8" cy="426.5" rx="8.5" ry="7.4" fill="#86cb66"/>
<ellipse cx="265.8" cy="448.9" rx="8.5" ry="7.4" fill="#75c465"/>
<ellipse cx="265.8" cy="471.4" rx="8.5" ry="7.4" fill="#75c465"/>
<ellipse cx="291.1" cy="336.6" rx="8.5" ry="7.4" fill="#99d369"/>
<ellipse cx="291.1" cy="359.1" rx="8.5" ry="7.4" fill="#99d369"/>
<ellipse cx="291.1" cy="381.5" rx="8.5" ry="7.4" fill="#86cb66"/>
<ellipse cx="291.1" cy="404.0" rx="8.5" ry="7.4" fill="#99d369"/>
<ellipse cx="291.1" cy="426.5" rx="8.5" ry="7.4" fill="#99d369"/>
<ellipse cx="291.1" cy="448.9" rx="8.5" ry="7.4" fill="#86cb66"/>
<ellipse cx="291.1" cy="471.4" rx="8.5" ry="7.4" fill="#86cb66"/>
<ellipse cx="316.4" cy="336.6" rx="8.5" ry="7.4" fill="#99d369"/>
<ellipse cx="316.4" cy="359.1" rx="8.5" ry="7.4" fill="#99d369"/>
<ellipse cx="316.4" cy="381.5" rx="8.5" ry="7.4" fill="#86cb66"/>
<ellipse cx="316.4" cy="404.0" rx="8.5" ry="7.4" fill="#86cb66"/>
<ellipse cx="316.4" cy="426.5" rx="8.5" ry="7.4" fill="#99d369"/>
<ellipse cx="316.4" cy="448.9" rx="8.5" ry="7.4" fill="#99d369"/>
<ellipse cx="316.4" cy="471.4" rx="8.5" ry="7.4" fill="#5eb961"/>
<ellipse cx="341.7" cy="336.6" rx="8.5" ry="7.4" fill="#99d369"/>
<ellipse cx="341.7" cy="359.1" rx="8.5" ry="7.4" fill="#86cb66"/>
<ellipse cx="341.7" cy="381.5" rx="8.5" ry="7.4" fill="#75c465"/>
<ellipse cx="341.7" cy="404.0" rx="8.5" ry="7.4" fill="#75c465"/>
<ellipse cx="341.7" cy="426.5" rx="8.5" ry="7.4" fill="#75c465"/>
<ellipse cx="341.7" cy="448.9" rx="8.5" ry="7.4" fill="#5eb961"/>
<ellipse cx="341.7" cy="471.4" rx="8.5" ry="7.4" fill="#036e3a"/>
<ellipse cx="367.0" cy="336.6" rx="8.5" ry="7.4" fill="#99d369"/>
<ellipse cx="367.0" cy="359.1" rx="8.5" ry="7.4" fill="#99d369"/>
<ellipse cx="367.0" cy="381.5" rx="8.5" ry="7.4" fill="#99d369"/>
<ellipse cx="367.0" cy="404.0" rx="8.5" ry="7.4" fill="#86cb66"/>
<ellipse cx="367.0" cy="426.5" rx="8.5" ry="7.4" fill="#99d369"/>
<ellipse cx="367.0" cy="448.9" rx="8.5" ry="7.4" fill="#99d369"/>
<ellipse cx="367.0" cy="471.4" rx="8.5" ry="7.4" fill="#86cb66"/>
<ellipse cx="392.3" cy="336.6" rx="8.5" ry="7.4" fill="#99d369"/>
<ellipse cx="392.3" cy="359.1" rx="8.5" ry="7.4" fill="#99d369"/>
<ellipse cx="392.3" cy="381.5" rx="8.5" ry="7.4" fill="#86cb66"/>
<ellipse cx="392.3" cy="404.0" rx="8.5" ry="7.4" fill="#86cb66"/>
<ellipse cx="392.3" cy="426.5" rx="8.5" ry="7.4" fill="#86cb66"/>
<ellipse cx="392.3" cy="448.9" rx="8.5" ry="7.4" fill="#86cb66"/>
<ellipse cx="392.3" cy="471.4" rx="8.5" ry="7.4" fill="#75c465"/>
<ellipse cx="417.6" cy="336.6" rx="8.5" ry="7.4" fill="#99d369"/>
<ellipse cx="417.6" cy="359.1" rx="8.5" ry="7.4" fill="#86cb66"/>
<ellipse cx="417.6" cy="381.5" rx="8.5" ry="7.4" fill="#86cb66"/>
<ellipse cx="417.6" cy="404.0" rx="8.5" ry="7.4" fill="#99d369"/>
<ellipse cx="417.6" cy="426.5" rx="8.5" ry="7.4" fill="#5eb961"/>
<ellipse cx="417.6" cy="448.9" rx="8.5" ry="7.4" fill="#99d369"/>
<ellipse cx="417.6" cy="471.4" rx="8.5" ry="7.4" fill="#75c465"/>
<ellipse cx="442.9" cy="336.6" rx="8.5" ry="7.4" fill="#99d369"/>
<ellipse cx="442.9" cy="359.1" rx="8.5" ry="7.4" fill="#86cb66"/>
<ellipse cx="442.9" cy="381.5" rx="8.5" ry="7.4" fill="#99d369"/>
<ellipse cx="442.9" cy="404.0" rx="8.5" ry="7.4" fill="#75c465"/>
<ellipse cx="442.9" cy="426.5" rx="8.5" ry="7.4" fill="#75c465"/>
<ellipse cx="442.9" cy="448.9" rx="8.5" ry="7.4" fill="#86cb66"/>
<ellipse cx="442.9" cy="471.4" rx="8.5" ry="7.4" fill="#5eb961"/>
<ellipse cx="468.2" cy="336.6" rx="8.5" ry="7.4" fill="#99d369"/>
<ellipse cx="468.2" cy="359.1" rx="8.5" ry="7.4" fill="#86cb66"/>
<ellipse cx="468.2" cy="381.5" rx="8.5" ry="7.4" fill="#86cb66"/>
<ellipse cx="468.2" cy="404.0" rx="8.5" ry="7.4" fill="#86cb66"/>
<ellipse cx="468.2" cy="426.5" rx="8.5" ry="7.4" fill="#99d369"/>
<ellipse cx="468.2" cy="448.9" rx="8.5" ry="7.4" fill="#75c465"/>
<ellipse cx="468.2" cy="471.4" rx="8.5" ry="7.4" fill="#86cb66"/>
<ellipse cx="493.5" cy="336.6" rx="8.5" ry="7.4" fill="#99d369"/>
<ellipse cx="493.5" cy="359.1" rx="8.5" ry="7.4" fill="#86cb66"/>
<ellipse cx="493.5" cy="381.5" rx="8.5" ry="7.4" fill="#a6d96a"/>
<ellipse cx="493.5" cy="404.0" rx="8.5" ry="7.4" fill="#86cb66"/>
<ellipse cx="493.5" cy="426.5" rx="8.5" ry="7.4" fill="#86cb66"/>
<ellipse cx="493.5" cy="448.9" rx="8.5" ry="7.4" fill="#75c465"/>
<ellipse cx="493.5" cy="471.4" rx="8.5" ry="7.4" fill="#86cb66"/>
<ellipse cx="518.8" cy="336.6" rx="8.5" ry="7.4" fill="#99d369"/>
<ellipse cx="518.8" cy="359.1" rx="8.5" ry="7.4" fill="#86cb66"/>
<ellipse cx="518.8" cy="381.5" rx="8.5" ry="7.4" fill="#99d369"/>
<ellipse cx="518.8" cy="404.0" rx="8.5" ry="7.4" fill="#86cb66"/>
<ellipse cx="518.8" cy="426.5" rx="8.5" ry="7.4" fill="#99d369"/>
<ellipse cx="518.8" cy="448.9" rx="8.5" ry="7.4" fill="#86cb66"/>
<ellipse cx="518.8" cy="471.4" rx="8.5" ry="7.4" fill="#99d369"/>
<ellipse cx="544.1" cy="336.6" rx="8.5" ry="7.4" fill="#99d369"/>
<ellipse cx="544.1" cy="359.1" rx="8.5" ry="7.4" fill="#99d369"/>
<ellipse cx="544.1" cy="381.5" rx="8.5" ry="7.4" fill="#86cb66"/>
<ellipse cx="544.1" cy="404.0" rx="8.5" ry="7.4" fill="#86cb66"/>
<ellipse cx="544.1" cy="426.5" rx="8.5" ry="7.4" fill="#99d369"/>
<ellipse cx="544.1" cy="448.9" rx="8.5" ry="7.4" fill="#47ae5b"/>
<ellipse cx="544.1" cy="471.4" rx="8.5" ry="7.4" fill="#5eb961"/>
<ellipse cx="569.4" cy="336.6" rx="8.5" ry="7.4" fill="#99d369"/>
<ellipse cx="569.4" cy="359.1" rx="8.5" ry="7.4" fill="#75c465"/>
<ellipse cx="569.4" cy="381.5" rx="8.5" ry="7.4" fill="#86cb66"/>
<ellipse cx="569.4" cy="404.0" rx="8.5" ry="7.4" fill="#99d369"/>
<ellipse cx="569.4" cy="426.5" rx="8.5" ry="7.4" fill="#86cb66"/>
<ellipse cx="569.4" cy="448.9" rx="8.5" ry="7.4" fill="#86cb66"/>
<ellipse cx="569.4" cy="471.4" rx="8.5" ry="7.4" fill="#5eb961"/>
<ellipse cx="594.7" cy="336.6" rx="8.5" ry="7.4" fill="#99d369"/>
<ellipse cx="594.7" cy="359.1" rx="8.5" ry="7.4" fill="#99d369"/>
<ellipse cx="594.7" cy="381.5" rx="8.5" ry="7.4" fill="#a6d96a"/>
<ellipse cx="594.7" cy="404.0" rx="8.5" ry="7.4" fill="#86cb66"/>
<ellipse cx="594.7" cy="426.5" rx="8.5" ry="7.4" fill="#75c465"/>
<ellipse cx="594.7" cy="448.9" rx="8.5" ry="7.4" fill="#86cb66"/>
<ellipse cx="594.7" cy="471.4" rx="8.5" ry="7.4" fill="#86cb66"/>
<ellipse cx="620.0" cy="336.6" rx="8.5" ry="7.4" fill="#99d369"/>
<ellipse cx="620.0" cy="359.1" rx="8.5" ry="7.4" fill="#99d369"/>
<ellipse cx="620.0" cy="381.5" rx="8.5" ry="7.4" fill="#86cb66"/>
<ellipse cx="620.0" cy="404.0" rx="8.5" ry="7.4" fill="#a6d96a"/>
<ellipse cx="620.0" cy="426.5" rx="8.5" ry="7.4" fill="#86cb66"/>
<ellipse cx="620.0" cy="448.9" rx="8.5" ry="7.4" fill="#86cb66"/>
<ellipse cx="620.0" cy="471.4" rx="8.5" ry="7.4" fill="#86cb66"/>
<ellipse cx="645.3" cy="336.6" rx="8.5" ry="7.4" fill="#99d369"/>
<ellipse cx="645.3" cy="359.1" rx="8.5" ry="7.4" fill="#86cb66"/>
<ellipse cx="645.3" cy="381.5" rx="8.5" ry="7.4" fill="#86cb66"/>
<ellipse cx="645.3" cy="404.0" rx="8.5" ry="7.4" fill="#75c465"/>
<ellipse cx="645.3" cy="426.5" rx="8.5" ry="7.4" fill="#86cb66"/>
<ellipse cx="645.3" cy="448.9" rx="8.5" ry="7.4" fill="#75c465"/>
<ellipse cx="645.3" cy="471.4" rx="8.5" ry="7.4" fill="#86cb66"/>
<ellipse cx="670.7" cy="336.6" rx="8.5" ry="7.4" fill="#99d369"/>
<ellipse cx="670.7" cy="359.1" rx="8.5" ry="7.4" fill="#86cb66"/>
<ellipse cx="670.7" cy="381.5" rx="8.5" ry="7.4" fill="#86cb66"/>
<ellipse cx="670.7" cy="404.0" rx="8.5" ry="7.4" fill="#86cb66"/>
<ellipse cx="670.7" cy="426.5" rx="8.5" ry="7.4" fill="#86cb66"/>
<ellipse cx="670.7" cy="448.9" rx="8.5" ry="7.4" fill="#86cb66"/>
<ellipse cx="670.7" cy="471.4" rx="8.5" ry="7.4" fill="#86cb66"/>
<ellipse cx="696.0" cy="336.6" rx="8.5" ry="7.4" fill="#99d369"/>
<ellipse cx="696.0" cy="359.1" rx="8.5" ry="7.4" fill="#75c465"/>
<ellipse cx="696.0" cy="381.5" rx="8.5" ry="7.4" fill="#99d369"/>
<ellipse cx="696.0" cy="404.0" rx="8.5" ry="7.4" fill="#86cb66"/>
<ellipse cx="696.0" cy="426.5" rx="8.5" ry="7.4" fill="#86cb66"/>
<ellipse cx="696.0" cy="448.9" rx="8.5" ry="7.4" fill="#86cb66"/>
<ellipse cx="696.0" cy="471.4" rx="8.5" ry="7.4" fill="#86cb66"/>
<ellipse cx="721.3" cy="336.6" rx="8.5" ry="7.4" fill="#99d369"/>
<ellipse cx="721.3" cy="359.1" rx="8.5" ry="7.4" fill="#86cb66"/>
<ellipse cx="721.3" cy="381.5" rx="8.5" ry="7.4" fill="#75c465"/>
<ellipse cx="721.3" cy="404.0" rx="8.5" ry="7.4" fill="#86cb66"/>
<ellipse cx="721.3" cy="426.5" rx="8.5" ry="7.4" fill="#75c465"/>
<ellipse cx="721.3" cy="448.9" rx="8.5" ry="7.4" fill="#47ae5b"/>
<ellipse cx="721.3" cy="471.4" rx="8.5" ry="7.4" fill="#86cb66"/>
<ellipse cx="746.6" cy="336.6" rx="8.5" ry="7.4" fill="#99d369"/>
<ellipse cx="746.6" cy="359.1" rx="8.5" ry="7.4" fill="#99d369"/>
<ellipse cx="746.6" cy="381.5" rx="8.5" ry="7.4" fill="#86cb66"/>
<ellipse cx="746.6" cy="404.0" rx="8.5" ry="7.4" fill="#75c465"/>
<ellipse cx="746.6" cy="426.5" rx="8.5" ry="7.4" fill="#99d369"/>
<ellipse cx="746.6" cy="448.9" rx="8.5" ry="7.4" fill="#75c465"/>
<ellipse cx="746.6" cy="471.4" rx="8.5" ry="7.4" fill="#86cb66"/>
<ellipse cx="771.9" cy="336.6" rx="8.5" ry="7.4" fill="#99d369"/>
<ellipse cx="771.9" cy="359.1" rx="8.5" ry="7.4" fill="#99d369"/>
<ellipse cx="771.9" cy="381.5" rx="8.5" ry="7.4" fill="#86cb66"/>
<ellipse cx="771.9" cy="404.0" rx="8.5" ry="7.4" fill="#86cb66"/>
<ellipse cx="771.9" cy="426.5" rx="8.5" ry="7.4" fill="#75c465"/>
<ellipse cx="771.9" cy="448.9" rx="8.5" ry="7.4" fill="#86cb66"/>
<ellipse cx="771.9" cy="471.4" rx="8.5" ry="7.4" fill="#47ae5b"/>
<ellipse cx="797.2" cy="336.6" rx="8.5" ry="7.4" fill="#99d369"/>
<ellipse cx="797.2" cy="359.1" rx="8.5" ry="7.4" fill="#86cb66"/>
<ellipse cx="797.2" cy="381.5" rx="8.5" ry="7.4" fill="#75c465"/>
<ellipse cx="797.2" cy="404.0" rx="8.5" ry="7.4" fill="#86cb66"/>
<ellipse cx="797.2" cy="426.5" rx="8.5" ry="7.4" fill="#99d369"/>
<ellipse cx="797.2" cy="448.9" rx="8.5" ry="7.4" fill="#86cb66"/>
<ellipse cx="797.2" cy="471.4" rx="8.5" ry="7.4" fill="#86cb66"/>
<ellipse cx="822.5" cy="336.6" rx="8.5" ry="7.4" fill="#99d369"/>
<ellipse cx="822.5" cy="359.1" rx="8.5" ry="7.4" fill="#86cb66"/>
<ellipse cx="822.5" cy="381.5" rx="8.5" ry="7.4" fill="#75c465"/>
<ellipse cx="822.5" cy="404.0" rx="8.5" ry="7.4" fill="#86cb66"/>
<ellipse cx="822.5" cy="426.5" rx="8.5" ry="7.4" fill="#99d369"/>
<ellipse cx="822.5" cy="448.9" rx="8.5" ry="7.4" fill="#47ae5b"/>
<ellipse cx="822.5" cy="471.4" rx="8.5" ry="7.4" fill="#5eb961"/>
<ellipse cx="847.8" cy="336.6" rx="8.5" ry="7.4" fill="#99d369"/>
<ellipse cx="847.8" cy="359.1" rx="8.5" ry="7.4" fill="#a6d96a"/>
<ellipse cx="847.8" cy="381.5" rx="8.5" ry="7.4" fill="#86cb66"/>
<ellipse cx="847.8" cy="404.0" rx="8.5" ry="7.4" fill="#99d369"/>
<ellipse cx="847.8" cy="426.5" rx="8.5" ry="7.4" fill="#5eb961"/>
<ellipse cx="847.8" cy="448.9" rx="8.5" ry="7.4" fill="#1a9750"/>
<ellipse cx="847.8" cy="471.4" rx="8.5" ry="7.4" fill="#a6d96a"/>
<ellipse cx="873.1" cy="336.6" rx="8.5" ry="7.4" fill="#99d369"/>
<ellipse cx="873.1" cy="359.1" rx="8.5" ry="7.4" fill="#75c465"/>
<ellipse cx="873.1" cy="381.5" rx="8.5" ry="7.4" fill="#86cb66"/>
<ellipse cx="873.1" cy="404.0" rx="8.5" ry="7.4" fill="#75c465"/>
<ellipse cx="873.1" cy="426.5" rx="8.5" ry="7.4" fill="#86cb66"/>
<ellipse cx="873.1" cy="448.9" rx="8.5" ry="7.4" fill="#75c465"/>
<ellipse cx="873.1" cy="471.4" rx="8.5" ry="7.4" fill="#86cb66"/>
<ellipse cx="898.4" cy="336.6" rx="8.5" ry="7.4" fill="#99d369"/>
<ellipse cx="898.4" cy="359.1" rx="8.5" ry="7.4" fill="#75c465"/>
<ellipse cx="898.4" cy="381.5" rx="8.5" ry="7.4" fill="#86cb66"/>
<ellipse cx="898.4" cy="404.0" rx="8.5" ry="7.4" fill="#5eb961"/>
<ellipse cx="898.4" cy="426.5" rx="8.5" ry="7.4" fill="#5eb961"/>
<ellipse cx="898.4" cy="448.9" rx="8.5" ry="7.4" fill="#86cb66"/>
<ellipse cx="898.4" cy="471.4" rx="8.5" ry="7.4" fill="#5eb961"/>
<ellipse cx="923.7" cy="336.6" rx="8.5" ry="7.4" fill="#99d369"/>
<ellipse cx="923.7" cy="359.1" rx="8.5" ry="7.4" fill="#a6d96a"/>
<ellipse cx="923.7" cy="381.5" rx="8.5" ry="7.4" fill="#86cb66"/>
<ellipse cx="923.7" cy="404.0" rx="8.5" ry="7.4" fill="#86cb66"/>
<ellipse cx="923.7" cy="426.5" rx="8.5" ry="7.4" fill="#99d369"/>
<ellipse cx="923.7" cy="448.9" rx="8.5" ry="7.4" fill="#47ae5b"/>
<ellipse cx="923.7" cy="471.4" rx="8.5" ry="7.4" fill="#5eb961"/>
<ellipse cx="949.0" cy="336.6" rx="8.5" ry="7.4" fill="#99d369"/>
<ellipse cx="949.0" cy="359.1" rx="8.5" ry="7.4" fill="#86cb66"/>
<ellipse cx="949.0" cy="381.5" rx="8.5" ry="7.4" fill="#86cb66"/>
<ellipse cx="949.0" cy="404.0" rx="8.5" ry="7.4" fill="#86cb66"/>
<ellipse cx="949.0" cy="426.5" rx="8.5" ry="7.4" fill="#86cb66"/>
<ellipse cx="949.0" cy="448.9" rx="8.5" ry="7.4" fill="#75c465"/>
<ellipse cx="949.0" cy="471.4" rx="8.5" ry="7.4" fill="#86cb66"/>
<ellipse cx="974.3" cy="336.6" rx="8.5" ry="7.4" fill="#99d369"/>
<ellipse cx="974.3" cy="359.1" rx="8.5" ry="7.4" fill="#99d369"/>
<ellipse cx="974.3" cy="381.5" rx="8.5" ry="7.4" fill="#86cb66"/>
<ellipse cx="974.3" cy="404.0" rx="8.5" ry="7.4" fill="#86cb66"/>
<ellipse cx="974.3" cy="426.5" rx="8.5" ry="7.4" fill="#47ae5b"/>
<ellipse cx="974.3" cy="448.9" rx="8.5" ry="7.4" fill="#47ae5b"/>
<ellipse cx="974.3" cy="471.4" rx="8.5" ry="7.4" fill="#47ae5b"/>
<ellipse cx="999.6" cy="336.6" rx="8.5" ry="7.4" fill="#99d369"/>
<ellipse cx="999.6" cy="359.1" rx="8.5" ry="7.4" fill="#86cb66"/>
<ellipse cx="999.6" cy="381.5" rx="8.5" ry="7.4" fill="#86cb66"/>
<ellipse cx="999.6" cy="404.0" rx="8.5" ry="7.4" fill="#86cb66"/>
<ellipse cx="999.6" cy="426.5" rx="8.5" ry="7.4" fill="#5eb961"/>
<ellipse cx="999.6" cy="448.9" rx="8.5" ry="7.4" fill="#86cb66"/>
<ellipse cx="999.6" cy="471.4" rx="8.5" ry="7.4" fill="#75c465"/>
<ellipse cx="1024.9" cy="336.6" rx="8.5" ry="7.4" fill="#99d369"/>
<ellipse cx="1024.9" cy="359.1" rx="8.5" ry="7.4" fill="#75c465"/>
<ellipse cx="1024.9" cy="381.5" rx="8.5" ry="7.4" fill="#75c465"/>
<ellipse cx="1024.9" cy="404.0" rx="8.5" ry="7.4" fill="#75c465"/>
<ellipse cx="1024.9" cy="426.5" rx="8.5" ry="7.4" fill="#75c465"/>
<ellipse cx="1024.9" cy="448.9" rx="8.5" ry="7.4" fill="#47ae5b"/>
<ellipse cx="1024.9" cy="471.4" rx="8.5" ry="7.4" fill="#86cb66"/>
<ellipse cx="1050.2" cy="336.6" rx="8.5" ry="7.4" fill="#99d369"/>
<ellipse cx="1050.2" cy="359.1" rx="8.5" ry="7.4" fill="#86cb66"/>
<ellipse cx="1050.2" cy="381.5" rx="8.5" ry="7.4" fill="#99d369"/>
<ellipse cx="1050.2" cy="404.0" rx="8.5" ry="7.4" fill="#99d369"/>
<ellipse cx="1050.2" cy="426.5" rx="8.5" ry="7.4" fill="#86cb66"/>
<ellipse cx="1050.2" cy="448.9" rx="8.5" ry="7.4" fill="#86cb66"/>
<ellipse cx="1050.2" cy="471.4" rx="8.5" ry="7.4" fill="#5eb961"/>
<ellipse cx="1075.5" cy="336.6" rx="8.5" ry="7.4" fill="#99d369"/>
<ellipse cx="1075.5" cy="359.1" rx="8.5" ry="7.4" fill="#86cb66"/>
<ellipse cx="1075.5" cy="381.5" rx="8.5" ry="7.4" fill="#a6d96a"/>
<ellipse cx="1075.5" cy="404.0" rx="8.5" ry="7.4" fill="#86cb66"/>
<ellipse cx="1075.5" cy="426.5" rx="8.5" ry="7.4" fill="#99d369"/>
<ellipse cx="1075.5" cy="448.9" rx="8.5" ry="7.4" fill="#99d369"/>
<ellipse cx="1075.5" cy="471.4" rx="8.5" ry="7.4" fill="#75c465"/>
<ellipse cx="1100.8" cy="336.6" rx="8.5" ry="7.4" fill="#99d369"/>
<ellipse cx="1100.8" cy="359.1" rx="8.5" ry="7.4" fill="#86cb66"/>
<ellipse cx="1100.8" cy="381.5" rx="8.5" ry="7.4" fill="#86cb66"/>
<ellipse cx="1100.8" cy="404.0" rx="8.5" ry="7.4" fill="#75c465"/>
<ellipse cx="1100.8" cy="426.5" rx="8.5" ry="7.4" fill="#99d369"/>
<ellipse cx="1100.8" cy="448.9" rx="8.5" ry="7.4" fill="#5eb961"/>
<ellipse cx="1100.8" cy="471.4" rx="8.5" ry="7.4" fill="#47ae5b"/>
<ellipse cx="1126.1" cy="336.6" rx="8.5" ry="7.4" fill="#99d369"/>
<ellipse cx="1126.1" cy="359.1" rx="8.5" ry="7.4" fill="#86cb66"/>
<ellipse cx="1126.1" cy="381.5" rx="8.5" ry="7.4" fill="#86cb66"/>
<ellipse cx="1126.1" cy="404.0" rx="8.5" ry="7.4" fill="#86cb66"/>
<ellipse cx="1126.1" cy="426.5" rx="8.5" ry="7.4" fill="#75c465"/>
<ellipse cx="1126.1" cy="448.9" rx="8.5" ry="7.4" fill="#86cb66"/>
<ellipse cx="1126.1" cy="471.4" rx="8.5" ry="7.4" fill="#75c465"/>
<ellipse cx="1151.4" cy="336.6" rx="8.5" ry="7.4" fill="#99d369"/>
<ellipse cx="1151.4" cy="359.1" rx="8.5" ry="7.4" fill="#86cb66"/>
<ellipse cx="1151.4" cy="381.5" rx="8.5" ry="7.4" fill="#86cb66"/>
<ellipse cx="1151.4" cy="404.0" rx="8.5" ry="7.4" fill="#75c465"/>
<ellipse cx="1151.4" cy="426.5" rx="8.5" ry="7.4" fill="#99d369"/>
<ellipse cx="1151.4" cy="448.9" rx="8.5" ry="7.4" fill="#86cb66"/>
<ellipse cx="1151.4" cy="471.4" rx="8.5" ry="7.4" fill="#75c465"/>
<ellipse cx="1176.7" cy="336.6" rx="8.5" ry="7.4" fill="#99d369"/>
<ellipse cx="1176.7" cy="359.1" rx="8.5" ry="7.4" fill="#99d369"/>
<ellipse cx="1176.7" cy="381.5" rx="8.5" ry="7.4" fill="#86cb66"/>
<ellipse cx="1176.7" cy="404.0" rx="8.5" ry="7.4" fill="#86cb66"/>
<ellipse cx="1176.7" cy="426.5" rx="8.5" ry="7.4" fill="#a6d96a"/>
<ellipse cx="1176.7" cy="448.9" rx="8.5" ry="7.4" fill="#99d369"/>
<ellipse cx="1176.7" cy="471.4" rx="8.5" ry="7.4" fill="#86cb66"/>
<ellipse cx="1202.0" cy="336.6" rx="8.5" ry="7.4" fill="#99d369"/>
<ellipse cx="1202.0" cy="359.1" rx="8.5" ry="7.4" fill="#99d369"/>
<ellipse cx="1202.0" cy="381.5" rx="8.5" ry="7.4" fill="#86cb66"/>
<ellipse cx="1202.0" cy="404.0" rx="8.5" ry="7.4" fill="#86cb66"/>
<ellipse cx="1202.0" cy="426.5" rx="8.5" ry="7.4" fill="#75c465"/>
<ellipse cx="1202.0" cy="448.9" rx="8.5" ry="7.4" fill="#86cb66"/>
<ellipse cx="1202.0" cy="471.4" rx="8.5" ry="7.4" fill="#47ae5b"/>
<ellipse cx="1227.3" cy="336.6" rx="8.5" ry="7.4" fill="#99d369"/>
<ellipse cx="1227.3" cy="359.1" rx="8.5" ry="7.4" fill="#99d369"/>
<ellipse cx="1227.3" cy="381.5" rx="8.5" ry="7.4" fill="#86cb66"/>
<ellipse cx="1227.3" cy="404.0" rx="8.5" ry="7.4" fill="#47ae5b"/>
<ellipse cx="1227.3" cy="426.5" rx="8.5" ry="7.4" fill="#5eb961"/>
<ellipse cx="1227.3" cy="448.9" rx="8.5" ry="7.4" fill="#75c465"/>
<ellipse cx="1227.3" cy="471.4" rx="8.5" ry="7.4" fill="#47ae5b"/>
<ellipse cx="1252.6" cy="336.6" rx="8.5" ry="7.4" fill="#99d369"/>
<ellipse cx="1252.6" cy="359.1" rx="8.5" ry="7.4" fill="#75c465"/>
<ellipse cx="1252.6" cy="381.5" rx="8.5" ry="7.4" fill="#86cb66"/>
<ellipse cx="1252.6" cy="404.0" rx="8.5" ry="7.4" fill="#86cb66"/>
<ellipse cx="1252.6" cy="426.5" rx="8.5" ry="7.4" fill="#99d369"/>
<ellipse cx="1252.6" cy="448.9" rx="8.5" ry="7.4" fill="#86cb66"/>
<ellipse cx="1252.6" cy="471.4" rx="8.5" ry="7.4" fill="#1a9750"/>
<ellipse cx="1277.9" cy="336.6" rx="8.5" ry="7.4" fill="#99d369"/>
<ellipse cx="1277.9" cy="359.1" rx="8.5" ry="7.4" fill="#a6d96a"/>
<ellipse cx="1277.9" cy="381.5" rx="8.5" ry="7.4" fill="#86cb66"/>
<ellipse cx="1277.9" cy="404.0" rx="8.5" ry="7.4" fill="#99d369"/>
<ellipse cx="1277.9" cy="426.5" rx="8.5" ry="7.4" fill="#86cb66"/>
<ellipse cx="1277.9" cy="448.9" rx="8.5" ry="7.4" fill="#99d369"/>
<ellipse cx="1277.9" cy="471.4" rx="8.5" ry="7.4" fill="#86cb66"/>
<ellipse cx="1303.2" cy="336.6" rx="8.5" ry="7.4" fill="#99d369"/>
<ellipse cx="1303.2" cy="359.1" rx="8.5" ry="7.4" fill="#86cb66"/>
<ellipse cx="1303.2" cy="381.5" rx="8.5" ry="7.4" fill="#86cb66"/>
<ellipse cx="1303.2" cy="404.0" rx="8.5" ry="7.4" fill="#86cb66"/>
<ellipse cx="1303.2" cy="426.5" rx="8.5" ry="7.4" fill="#99d369"/>
<ellipse cx="1303.2" cy="448.9" rx="8.5" ry="7.4" fill="#75c465"/>
<ellipse cx="1303.2" cy="471.4" rx="8.5" ry="7.4" fill="#86cb66"/>
<ellipse cx="1328.5" cy="336.6" rx="8.5" ry="7.4" fill="#99d369"/>
<ellipse cx="1328.5" cy="359.1" rx="8.5" ry="7.4" fill="#86cb66"/>
<ellipse cx="1328.5" cy="381.5" rx="8.5" ry="7.4" fill="#86cb66"/>
<ellipse cx="1328.5" cy="404.0" rx="8.5" ry="7.4" fill="#75c465"/>
<ellipse cx="1328.5" cy="426.5" rx="8.5" ry="7.4" fill="#86cb66"/>
<ellipse cx="1328.5" cy="448.9" rx="8.5" ry="7.4" fill="#75c465"/>
<ellipse cx="1328.5" cy="471.4" rx="8.5" ry="7.4" fill="#036e3a"/>
<ellipse cx="1353.8" cy="336.6" rx="8.5" ry="7.4" fill="#99d369"/>
<ellipse cx="1353.8" cy="359.1" rx="8.5" ry="7.4" fill="#86cb66"/>
<ellipse cx="1353.8" cy="381.5" rx="8.5" ry="7.4" fill="#86cb66"/>
<ellipse cx="1353.8" cy="404.0" rx="8.5" ry="7.4" fill="#75c465"/>
<ellipse cx="1353.8" cy="426.5" rx="8.5" ry="7.4" fill="#1a9750"/>
<ellipse cx="1353.8" cy="448.9" rx="8.5" ry="7.4" fill="#5eb961"/>
<ellipse cx="1353.8" cy="471.4" rx="8.5" ry="7.4" fill="#47ae5b"/>
<ellipse cx="1379.1" cy="336.6" rx="8.5" ry="7.4" fill="#99d369"/>
<ellipse cx="1379.1" cy="359.1" rx="8.5" ry="7.4" fill="#99d369"/>
<ellipse cx="1379.1" cy="381.5" rx="8.5" ry="7.4" fill="#86cb66"/>
<ellipse cx="1379.1" cy="404.0" rx="8.5" ry="7.4" fill="#86cb66"/>
<ellipse cx="1379.1" cy="426.5" rx="8.5" ry="7.4" fill="#99d369"/>
<ellipse cx="1379.1" cy="448.9" rx="8.5" ry="7.4" fill="#86cb66"/>
<ellipse cx="1379.1" cy="471.4" rx="8.5" ry="7.4" fill="#86cb66"/>
<ellipse cx="1404.4" cy="336.6" rx="8.5" ry="7.4" fill="#99d369"/>
<ellipse cx="1404.4" cy="359.1" rx="8.5" ry="7.4" fill="#86cb66"/>
<ellipse cx="1404.4" cy="381.5" rx="8.5" ry="7.4" fill="#86cb66"/>
<ellipse cx="1404.4" cy="404.0" rx="8.5" ry="7.4" fill="#75c465"/>
<ellipse cx="1404.4" cy="426.5" rx="8.5" ry="7.4" fill="#5eb961"/>
<ellipse cx="1404.4" cy="448.9" rx="8.5" ry="7.4" fill="#75c465"/>
<ellipse cx="1404.4" cy="471.4" rx="8.5" ry="7.4" fill="#47ae5b"/>
<ellipse cx="1429.7" cy="336.6" rx="8.5" ry="7.4" fill="#99d369"/>
<ellipse cx="1429.7" cy="359.1" rx="8.5" ry="7.4" fill="#99d369"/>
<ellipse cx="1429.7" cy="381.5" rx="8.5" ry="7.4" fill="#86cb66"/>
<ellipse cx="1429.7" cy="404.0" rx="8.5" ry="7.4" fill="#1a9750"/>
<ellipse cx="1429.7" cy="426.5" rx="8.5" ry="7.4" fill="#86cb66"/>
<ellipse cx="1429.7" cy="448.9" rx="8.5" ry="7.4" fill="#86cb66"/>
<ellipse cx="1429.7" cy="471.4" rx="8.5" ry="7.4" fill="#99d369"/>
<ellipse cx="1455.0" cy="336.6" rx="8.5" ry="7.4" fill="#86cb66"/>
<ellipse cx="1455.0" cy="359.1" rx="8.5" ry="7.4" fill="#99d369"/>
<ellipse cx="1455.0" cy="381.5" rx="8.5" ry="7.4" fill="#86cb66"/>
<ellipse cx="1455.0" cy="404.0" rx="8.5" ry="7.4" fill="#86cb66"/>
<ellipse cx="1455.0" cy="426.5" rx="8.5" ry="7.4" fill="#99d369"/>
<ellipse cx="1455.0" cy="448.9" rx="8.5" ry="7.4" fill="#a6d96a"/>
<ellipse cx="1455.0" cy="471.4" rx="8.5" ry="7.4" fill="#75c465"/>
<ellipse cx="1480.3" cy="336.6" rx="8.5" ry="7.4" fill="#75c465"/>
<ellipse cx="1480.3" cy="359.1" rx="8.5" ry="7.4" fill="#47ae5b"/>
<ellipse cx="1480.3" cy="381.5" rx="8.5" ry="7.4" fill="#5eb961"/>
<ellipse cx="1480.3" cy="404.0" rx="8.5" ry="7.4" fill="#75c465"/>
<ellipse cx="1480.3" cy="426.5" rx="8.5" ry="7.4" fill="#75c465"/>
<ellipse cx="1480.3" cy="448.9" rx="8.5" ry="7.4" fill="#036e3a"/>
<ellipse cx="1480.3" cy="471.4" rx="8.5" ry="7.4" fill="#5eb961"/>
<ellipse cx="1505.7" cy="336.6" rx="8.5" ry="7.4" fill="#5eb961"/>
<ellipse cx="1505.7" cy="359.1" rx="8.5" ry="7.4" fill="#75c465"/>
<ellipse cx="1505.7" cy="381.5" rx="8.5" ry="7.4" fill="#47ae5b"/>
<ellipse cx="1505.7" cy="404.0" rx="8.5" ry="7.4" fill="#5eb961"/>
<ellipse cx="1505.7" cy="426.5" rx="8.5" ry="7.4" fill="#47ae5b"/>
<ellipse cx="1505.7" cy="448.9" rx="8.5" ry="7.4" fill="#5eb961"/>
<ellipse cx="1505.7" cy="471.4" rx="8.5" ry="7.4" fill="#47ae5b"/>
<ellipse cx="1531.0" cy="359.1" rx="8.5" ry="7.4" fill="#86cb66"/>
<ellipse cx="1531.0" cy="381.5" rx="8.5" ry="7.4" fill="#99d369"/>
<ellipse cx="1531.0" cy="404.0" rx="8.5" ry="7.4" fill="#a6d96a"/>
<ellipse cx="1531.0" cy="426.5" rx="8.5" ry="7.4" fill="#99d369"/>
<ellipse cx="1531.0" cy="448.9" rx="8.5" ry="7.4" fill="#86cb66"/>
<ellipse cx="1531.0" cy="471.4" rx="8.5" ry="7.4" fill="#a6d96a"/>
<ellipse cx="1556.3" cy="359.1" rx="8.5" ry="7.4" fill="#47ae5b"/>
<ellipse cx="1556.3" cy="381.5" rx="8.5" ry="7.4" fill="#99d369"/>
<ellipse cx="1556.3" cy="404.0" rx="8.5" ry="7.4" fill="#86cb66"/>
<ellipse cx="1556.3" cy="426.5" rx="8.5" ry="7.4" fill="#99d369"/>
<ellipse cx="1556.3" cy="448.9" rx="8.5" ry="7.4" fill="#86cb66"/>
<ellipse cx="1556.3" cy="471.4" rx="8.5" ry="7.4" fill="#99d369"/>
<ellipse cx="1581.6" cy="381.5" rx="8.5" ry="7.4" fill="#a6d96a"/>
<ellipse cx="1581.6" cy="404.0" rx="8.5" ry="7.4" fill="#a6d96a"/>
<ellipse cx="1581.6" cy="426.5" rx="8.5" ry="7.4" fill="#99d369"/>
<ellipse cx="1581.6" cy="448.9" rx="8.5" ry="7.4" fill="#99d369"/>
<ellipse cx="1581.6" cy="471.4" rx="8.5" ry="7.4" fill="#99d369"/>
<ellipse cx="1606.9" cy="404.0" rx="8.5" ry="7.4" fill="#86cb66"/>
<ellipse cx="1606.9" cy="426.5" rx="8.5" ry="7.4" fill="#75c465"/>
<ellipse cx="1606.9" cy="448.9" rx="8.5" ry="7.4" fill="#86cb66"/>
<ellipse cx="1606.9" cy="471.4" rx="8.5" ry="7.4" fill="#86cb66"/>
<ellipse cx="1632.2" cy="404.0" rx="8.5" ry="7.4" fill="#75c465"/>
<ellipse cx="1632.2" cy="426.5" rx="8.5" ry="7.4" fill="#75c465"/>
<ellipse cx="1632.2" cy="448.9" rx="8.5" ry="7.4" fill="#75c465"/>
<ellipse cx="1657.5" cy="404.0" rx="8.5" ry="7.4" fill="#5eb961"/>
<ellipse cx="1657.5" cy="426.5" rx="8.5" ry="7.4" fill="#99d369"/>
<ellipse cx="1657.5" cy="448.9" rx="8.5" ry="7.4" fill="#99d369"/>
<ellipse cx="1657.5" cy="471.4" rx="8.5" ry="7.4" fill="#75c465"/>
<ellipse cx="1682.8" cy="426.5" rx="8.5" ry="7.4" fill="#a6d96a"/>
<ellipse cx="1682.8" cy="448.9" rx="8.5" ry="7.4" fill="#99d369"/>
<ellipse cx="1682.8" cy="471.4" rx="8.5" ry="7.4" fill="#99d369"/>
<ellipse cx="1708.1" cy="426.5" rx="8.5" ry="7.4" fill="#86cb66"/>
<ellipse cx="1708.1" cy="448.9" rx="8.5" ry="7.4" fill="#5eb961"/>
<ellipse cx="1708.1" cy="471.4" rx="8.5" ry="7.4" fill="#1a9750"/>
<ellipse cx="1733.4" cy="426.5" rx="8.5" ry="7.4" fill="#99d369"/>
<ellipse cx="1733.4" cy="448.9" rx="8.5" ry="7.4" fill="#75c465"/>
<ellipse cx="1758.7" cy="426.5" rx="8.5" ry="7.4" fill="#99d369"/>
<ellipse cx="1758.7" cy="448.9" rx="8.5" ry="7.4" fill="#75c465"/>
<ellipse cx="1758.7" cy="471.4" rx="8.5" ry="7.4" fill="#5eb961"/>
<ellipse cx="1784.0" cy="426.5" rx="8.5" ry="7.4" fill="#86cb66"/>
<ellipse cx="1784.0" cy="448.9" rx="8.5" ry="7.4" fill="#5eb961"/>
<ellipse cx="1784.0" cy="471.4" rx="8.5" ry="7.4" fill="#86cb66"/>
<ellipse cx="1809.3" cy="426.5" rx="8.5" ry="7.4" fill="#86cb66"/>
<ellipse cx="1809.3" cy="448.9" rx="8.5" ry="7.4" fill="#99d369"/>
<ellipse cx="1809.3" cy="471.4" rx="8.5" ry="7.4" fill="#5eb961"/>
<ellipse cx="1834.6" cy="448.9" rx="8.5" ry="7.4" fill="#86cb66"/>
<ellipse cx="1834.6" cy="471.4" rx="8.5" ry="7.4" fill="#86cb66"/>
<ellipse cx="1859.9" cy="448.9" rx="8.5" ry="7.4" fill="#47ae5b"/>
<ellipse cx="1859.9" cy="471.4" rx="8.5" ry="7.4" fill="#a6d96a"/>
<ellipse cx="1885.2" cy="448.9" rx="8.5" ry="7.4" fill="#86cb66"/>
<ellipse cx="1885.2" cy="471.4" rx="8.5" ry="7.4" fill="#1a9750"/>
<ellipse cx="1910.5" cy="448.9" rx="8.5" ry="7.4" fill="#75c465"/>
<ellipse cx="1910.5" cy="471.4" rx="8.5" ry="7.4" fill="#99d369"/>
<ellipse cx="1935.8" cy="448.9" rx="8.5" ry="7.4" fill="#86cb66"/>
<ellipse cx="1935.8" cy="471.4" rx="8.5" ry="7.4" fill="#86cb66"/>
<ellipse cx="1961.1" cy="448.9" rx="8.5" ry="7.4" fill="#a6d96a"/>
<ellipse cx="1961.1" cy="471.4" rx="8.5" ry="7.4" fill="#99d369"/>
<ellipse cx="1986.4" cy="448.9" rx="8.5" ry="7.4" fill="#86cb66"/>
<ellipse cx="2011.7" cy="471.4" rx="8.5" ry="7.4" fill="#99d369"/>
<path d="M151.6 333.2V468.0M137.8 333.2H151.6M137.8 355.7H151.6M137.8 378.1H151.6M137.8 400.6H151.6M137.8 423.1H151.6M137.8 445.5H151.6M137.8 468.0H151.6" stroke="#111" stroke-width="1.7" fill="none" stroke-linecap="square"/>
<text x="130.5" y="341.9" font-size="21.6" letter-spacing="0.5" text-anchor="end" font-family="DejaVu Sans, Liberation Sans, sans-serif" fill="#111">10.5</text>
<text x="130.5" y="364.4" font-size="21.6" letter-spacing="0.5" text-anchor="end" font-family="DejaVu Sans, Liberation Sans, sans-serif" fill="#111">13.0</text>
<text x="130.5" y="386.8" font-size="21.6" letter-spacing="0.5" text-anchor="end" font-family="DejaVu Sans, Liberation Sans, sans-serif" fill="#111">15.5</text>
<text x="130.5" y="409.3" font-size="21.6" letter-spacing="0.5" text-anchor="end" font-family="DejaVu Sans, Liberation Sans, sans-serif" fill="#111">18.0</text>
<text x="130.5" y="431.8" font-size="21.6" letter-spacing="0.5" text-anchor="end" font-family="DejaVu Sans, Liberation Sans, sans-serif" fill="#111">20.5</text>
<text x="130.5" y="454.2" font-size="21.6" letter-spacing="0.5" text-anchor="end" font-family="DejaVu Sans, Liberation Sans, sans-serif" fill="#111">23.0</text>
<text x="130.5" y="476.7" font-size="21.6" letter-spacing="0.5" text-anchor="end" font-family="DejaVu Sans, Liberation Sans, sans-serif" fill="#111">1.5</text>
<path d="M240.5 492.0H2011.7M240.5 492.0V505.8M265.8 492.0V505.8M291.1 492.0V505.8M316.4 492.0V505.8M341.7 492.0V505.8M367.0 492.0V505.8M392.3 492.0V505.8M417.6 492.0V505.8M442.9 492.0V505.8M468.2 492.0V505.8M493.5 492.0V505.8M518.8 492.0V505.8M544.1 492.0V505.8M569.4 492.0V505.8M594.7 492.0V505.8M620.0 492.0V505.8M645.3 492.0V505.8M670.7 492.0V505.8M696.0 492.0V505.8M721.3 492.0V505.8M746.6 492.0V505.8M771.9 492.0V505.8M797.2 492.0V505.8M822.5 492.0V505.8M847.8 492.0V505.8M873.1 492.0V505.8M898.4 492.0V505.8M923.7 492.0V505.8M949.0 492.0V505.8M974.3 492.0V505.8M999.6 492.0V505.8M1024.9 492.0V505.8M1050.2 492.0V505.8M1075.5 492.0V505.8M1100.8 492.0V505.8M1126.1 492.0V505.8M1151.4 492.0V505.8M1176.7 492.0V505.8M1202.0 492.0V505.8M1227.3 492.0V505.8M1252.6 492.0V505.8M1277.9 492.0V505.8M1303.2 492.0V505.8M1328.5 492.0V505.8M1353.8 492.0V505.8M1379.1 492.0V505.8M1404.4 492.0V505.8M1429.7 492.0V505.8M1455.0 492.0V505.8M1480.3 492.0V505.8M1505.7 492.0V505.8M1531.0 492.0V505.8M1556.3 492.0V505.8M1581.6 492.0V505.8M1606.9 492.0V505.8M1632.2 492.0V505.8M1657.5 492.0V505.8M1682.8 492.0V505.8M1708.1 492.0V505.8M1733.4 492.0V505.8M1758.7 492.0V505.8M1784.0 492.0V505.8M1809.3 492.0V505.8M1834.6 492.0V505.8M1859.9 492.0V505.8M1885.2 492.0V505.8M1910.5 492.0V505.8M1935.8 492.0V505.8M1961.1 492.0V505.8M1986.4 492.0V505.8M2011.7 492.0V505.8" stroke="#111" stroke-width="1.7" fill="none" stroke-linecap="square"/>
<text transform="translate(247.8 513.6) rotate(-90)" font-size="21.6" letter-spacing="0.5" text-anchor="end" font-family="DejaVu Sans, Liberation Sans, sans-serif" fill="#111">68</text>
<text transform="translate(273.1 513.6) rotate(-90)" font-size="21.6" letter-spacing="0.5" text-anchor="end" font-family="DejaVu Sans, Liberation Sans, sans-serif" fill="#111">69</text>
<text transform="translate(298.4 513.6) rotate(-90)" font-size="21.6" letter-spacing="0.5" text-anchor="end" font-family="DejaVu Sans, Liberation Sans, sans-serif" fill="#111">70</text>
<text transform="translate(323.7 513.6) rotate(-90)" font-size="21.6" letter-spacing="0.5" text-anchor="end" font-family="DejaVu Sans, Liberation Sans, sans-serif" fill="#111">71</text>
<text transform="translate(349.0 513.6) rotate(-90)" font-size="21.6" letter-spacing="0.5" text-anchor="end" font-family="DejaVu Sans, Liberation Sans, sans-serif" fill="#111">72</text>
<text transform="translate(374.3 513.6) rotate(-90)" font-size="21.6" letter-spacing="0.5" text-anchor="end" font-family="DejaVu Sans, Liberation Sans, sans-serif" fill="#111">73</text>
<text transform="translate(399.6 513.6) rotate(-90)" font-size="21.6" letter-spacing="0.5" text-anchor="end" font-family="DejaVu Sans, Liberation Sans, sans-serif" fill="#111">74</text>
<text transform="translate(424.9 513.6) rotate(-90)" font-size="21.6" letter-spacing="0.5" text-anchor="end" font-family="DejaVu Sans, Liberation Sans, sans-serif" fill="#111">75</text>
<text transform="translate(450.2 513.6) rotate(-90)" font-size="21.6" letter-spacing="0.5" text-anchor="end" font-family="DejaVu Sans, Liberation Sans, sans-serif" fill="#111">76</text>
<text transform="translate(475.5 513.6) rotate(-90)" font-size="21.6" letter-spacing="0.5" text-anchor="end" font-family="DejaVu Sans, Liberation Sans, sans-serif" fill="#111">77</text>
<text transform="translate(500.8 513.6) rotate(-90)" font-size="21.6" letter-spacing="0.5" text-anchor="end" font-family="DejaVu Sans, Liberation Sans, sans-serif" fill="#111">78</text>
<text transform="translate(526.1 513.6) rotate(-90)" font-size="21.6" letter-spacing="0.5" text-anchor="end" font-family="DejaVu Sans, Liberation Sans, sans-serif" fill="#111">79</text>
<text transform="translate(551.4 513.6) rotate(-90)" font-size="21.6" letter-spacing="0.5" text-anchor="end" font-family="DejaVu Sans, Liberation Sans, sans-serif" fill="#111">80</text>
<text transform="translate(576.7 513.6) rotate(-90)" font-size="21.6" letter-spacing="0.5" text-anchor="end" font-family="DejaVu Sans, Liberation Sans, sans-serif" fill="#111">81</text>
<text transform="translate(602.0 513.6) rotate(-90)" font-size="21.6" letter-spacing="0.5" text-anchor="end" font-family="DejaVu Sans, Liberation Sans, sans-serif" fill="#111">82</text>
<text transform="translate(627.3 513.6) rotate(-90)" font-size="21.6" letter-spacing="0.5" text-anchor="end" font-family="DejaVu Sans, Liberation Sans, sans-serif" fill="#111">83</text>
<text transform="translate(652.6 513.6) rotate(-90)" font-size="21.6" letter-spacing="0.5" text-anchor="end" font-family="DejaVu Sans, Liberation Sans, sans-serif" fill="#111">84</text>
<text transform="translate(677.9 513.6) rotate(-90)" font-size="21.6" letter-spacing="0.5" text-anchor="end" font-family="DejaVu Sans, Liberation Sans, sans-serif" fill="#111">85</text>
<text transform="translate(703.2 513.6) rotate(-90)" font-size="21.6" letter-spacing="0.5" text-anchor="end" font-family="DejaVu Sans, Liberation Sans, sans-serif" fill="#111">86</text>
<text transform="translate(728.5 513.6) rotate(-90)" font-size="21.6" letter-spacing="0.5" text-anchor="end" font-family="DejaVu Sans, Liberation Sans, sans-serif" fill="#111">87</text>
<text transform="translate(753.8 513.6) rotate(-90)" font-size="21.6" letter-spacing="0.5" text-anchor="end" font-family="DejaVu Sans, Liberation Sans, sans-serif" fill="#111">88</text>
<text transform="translate(779.1 513.6) rotate(-90)" font-size="21.6" letter-spacing="0.5" text-anchor="end" font-family="DejaVu Sans, Liberation Sans, sans-serif" fill="#111">89</text>
<text transform="translate(804.5 513.6) rotate(-90)" font-size="21.6" letter-spacing="0.5" text-anchor="end" font-family="DejaVu Sans, Liberation Sans, sans-serif" fill="#111">90</text>
<text transform="translate(829.8 513.6) rotate(-90)" font-size="21.6" letter-spacing="0.5" text-anchor="end" font-family="DejaVu Sans, Liberation Sans, sans-serif" fill="#111">91</text>
<text transform="translate(855.1 513.6) rotate(-90)" font-size="21.6" letter-spacing="0.5" text-anchor="end" font-family="DejaVu Sans, Liberation Sans, sans-serif" fill="#111">92</text>
<text transform="translate(880.4 513.6) rotate(-90)" font-size="21.6" letter-spacing="0.5" text-anchor="end" font-family="DejaVu Sans, Liberation Sans, sans-serif" fill="#111">93</text>
<text transform="translate(905.7 513.6) rotate(-90)" font-size="21.6" letter-spacing="0.5" text-anchor="end" font-family="DejaVu Sans, Liberation Sans, sans-serif" fill="#111">94</text>
<text transform="translate(931.0 513.6) rotate(-90)" font-size="21.6" letter-spacing="0.5" text-anchor="end" font-family="DejaVu Sans, Liberation Sans, sans-serif" fill="#111">95</text>
<text transform="translate(956.3 513.6) rotate(-90)" font-size="21.6" letter-spacing="0.5" text-anchor="end" font-family="DejaVu Sans, Liberation Sans, sans-serif" fill="#111">96</text>
<text transform="translate(981.6 513.6) rotate(-90)" font-size="21.6" letter-spacing="0.5" text-anchor="end" font-family="DejaVu Sans, Liberation Sans, sans-serif" fill="#111">97</text>
<text transform="translate(1006.9 513.6) rotate(-90)" font-size="21.6" letter-spacing="0.5" text-anchor="end" font-family="DejaVu Sans, Liberation Sans, sans-serif" fill="#111">98</text>
<text transform="translate(1032.2 513.6) rotate(-90)" font-size="21.6" letter-spacing="0.5" text-anchor="end" font-family="DejaVu Sans, Liberation Sans, sans-serif" fill="#111">99</text>
<text transform="translate(1057.5 513.6) rotate(-90)" font-size="21.6" letter-spacing="0.5" text-anchor="end" font-family="DejaVu Sans, Liberation Sans, sans-serif" fill="#111">100</text>
<text transform="translate(1082.8 513.6) rotate(-90)" font-size="21.6" letter-spacing="0.5" text-anchor="end" font-family="DejaVu Sans, Liberation Sans, sans-serif" fill="#111">101</text>
<text transform="translate(1108.1 513.6) rotate(-90)" font-size="21.6" letter-spacing="0.5" text-anchor="end" font-family="DejaVu Sans, Liberation Sans, sans-serif" fill="#111">102</text>
<text transform="translate(1133.4 513.6) rotate(-90)" font-size="21.6" letter-spacing="0.5" text-anchor="end" font-family="DejaVu Sans, Liberation Sans, sans-serif" fill="#111">103</text>
<text transform="translate(1158.7 513.6) rotate(-90)" font-size="21.6" letter-spacing="0.5" text-anchor="end" font-family="DejaVu Sans, Liberation Sans, sans-serif" fill="#111">104</text>
<text transform="translate(1184.0 513.6) rotate(-90)" font-size="21.6" letter-spacing="0.5" text-anchor="end" font-family="DejaVu Sans, Liberation Sans, sans-serif" fill="#111">105</text>
<text transform="translate(1209.3 513.6) rotate(-90)" font-size="21.6" letter-spacing="0.5" text-anchor="end" font-family="DejaVu Sans, Liberation Sans, sans-serif" fill="#111">106</text>
<text transform="translate(1234.6 513.6) rotate(-90)" font-size="21.6" letter-spacing="0.5" text-anchor="end" font-family="DejaVu Sans, Liberation Sans, sans-serif" fill="#111">107</text>
<text transform="translate(1259.9 513.6) rotate(-90)" font-size="21.6" letter-spacing="0.5" text-anchor="end" font-family="DejaVu Sans, Liberation Sans, sans-serif" fill="#111">108</text>
<text transform="translate(1285.2 513.6) rotate(-90)" font-size="21.6" letter-spacing="0.5" text-anchor="end" font-family="DejaVu Sans, Liberation Sans, sans-serif" fill="#111">109</text>
<text transform="translate(1310.5 513.6) rotate(-90)" font-size="21.6" letter-spacing="0.5" text-anchor="end" font-family="DejaVu Sans, Liberation Sans, sans-serif" fill="#111">110</text>
<text transform="translate(1335.8 513.6) rotate(-90)" font-size="21.6" letter-spacing="0.5" text-anchor="end" font-family="DejaVu Sans, Liberation Sans, sans-serif" fill="#111">111</text>
<text transform="translate(1361.1 513.6) rotate(-90)" font-size="21.6" letter-spacing="0.5" text-anchor="end" font-family="DejaVu Sans, Liberation Sans, sans-serif" fill="#111">112</text>
<text transform="translate(1386.4 513.6) rotate(-90)" font-size="21.6" letter-spacing="0.5" text-anchor="end" font-family="DejaVu Sans, Liberation Sans, sans-serif" fill="#111">113</text>
<text transform="translate(1411.7 513.6) rotate(-90)" font-size="21.6" letter-spacing="0.5" text-anchor="end" font-family="DejaVu Sans, Liberation Sans, sans-serif" fill="#111">114</text>
<text transform="translate(1437.0 513.6) rotate(-90)" font-size="21.6" letter-spacing="0.5" text-anchor="end" font-family="DejaVu Sans, Liberation Sans, sans-serif" fill="#111">115</text>
<text transform="translate(1462.3 513.6) rotate(-90)" font-size="21.6" letter-spacing="0.5" text-anchor="end" font-family="DejaVu Sans, Liberation Sans, sans-serif" fill="#111">116</text>
<text transform="translate(1487.6 513.6) rotate(-90)" font-size="21.6" letter-spacing="0.5" text-anchor="end" font-family="DejaVu Sans, Liberation Sans, sans-serif" fill="#111">117</text>
<text transform="translate(1512.9 513.6) rotate(-90)" font-size="21.6" letter-spacing="0.5" text-anchor="end" font-family="DejaVu Sans, Liberation Sans, sans-serif" fill="#111">118</text>
<text transform="translate(1538.2 513.6) rotate(-90)" font-size="21.6" letter-spacing="0.5" text-anchor="end" font-family="DejaVu Sans, Liberation Sans, sans-serif" fill="#111">119</text>
<text transform="translate(1563.5 513.6) rotate(-90)" font-size="21.6" letter-spacing="0.5" text-anchor="end" font-family="DejaVu Sans, Liberation Sans, sans-serif" fill="#111">120</text>
<text transform="translate(1588.8 513.6) rotate(-90)" font-size="21.6" letter-spacing="0.5" text-anchor="end" font-family="DejaVu Sans, Liberation Sans, sans-serif" fill="#111">121</text>
<text transform="translate(1614.1 513.6) rotate(-90)" font-size="21.6" letter-spacing="0.5" text-anchor="end" font-family="DejaVu Sans, Liberation Sans, sans-serif" fill="#111">122</text>
<text transform="translate(1639.4 513.6) rotate(-90)" font-size="21.6" letter-spacing="0.5" text-anchor="end" font-family="DejaVu Sans, Liberation Sans, sans-serif" fill="#111">123</text>
<text transform="translate(1664.8 513.6) rotate(-90)" font-size="21.6" letter-spacing="0.5" text-anchor="end" font-family="DejaVu Sans, Liberation Sans, sans-serif" fill="#111">124</text>
<text transform="translate(1690.1 513.6) rotate(-90)" font-size="21.6" letter-spacing="0.5" text-anchor="end" font-family="DejaVu Sans, Liberation Sans, sans-serif" fill="#111">125</text>
<text transform="translate(1715.4 513.6) rotate(-90)" font-size="21.6" letter-spacing="0.5" text-anchor="end" font-family="DejaVu Sans, Liberation Sans, sans-serif" fill="#111">126</text>
<text transform="translate(1740.7 513.6) rotate(-90)" font-size="21.6" letter-spacing="0.5" text-anchor="end" font-family="DejaVu Sans, Liberation Sans, sans-serif" fill="#111">127</text>
<text transform="translate(1766.0 513.6) rotate(-90)" font-size="21.6" letter-spacing="0.5" text-anchor="end" font-family="DejaVu Sans, Liberation Sans, sans-serif" fill="#111">128</text>
<text transform="translate(1791.3 513.6) rotate(-90)" font-size="21.6" letter-spacing="0.5" text-anchor="end" font-family="DejaVu Sans, Liberation Sans, sans-serif" fill="#111">129</text>
<text transform="translate(1816.6 513.6) rotate(-90)" font-size="21.6" letter-spacing="0.5" text-anchor="end" font-family="DejaVu Sans, Liberation Sans, sans-serif" fill="#111">130</text>
<text transform="translate(1841.9 513.6) rotate(-90)" font-size="21.6" letter-spacing="0.5" text-anchor="end" font-family="DejaVu Sans, Liberation Sans, sans-serif" fill="#111">131</text>
<text transform="translate(1867.2 513.6) rotate(-90)" font-size="21.6" letter-spacing="0.5" text-anchor="end" font-family="DejaVu Sans, Liberation Sans, sans-serif" fill="#111">132</text>
<text transform="translate(1892.5 513.6) rotate(-90)" font-size="21.6" letter-spacing="0.5" text-anchor="end" font-family="DejaVu Sans, Liberation Sans, sans-serif" fill="#111">133</text>
<text transform="translate(1917.8 513.6) rotate(-90)" font-size="21.6" letter-spacing="0.5" text-anchor="end" font-family="DejaVu Sans, Liberation Sans, sans-serif" fill="#111">134</text>
<text transform="translate(1943.1 513.6) rotate(-90)" font-size="21.6" letter-spacing="0.5" text-anchor="end" font-family="DejaVu Sans, Liberation Sans, sans-serif" fill="#111">135</text>
<text transform="translate(1968.4 513.6) rotate(-90)" font-size="21.6" letter-spacing="0.5" text-anchor="end" font-family="DejaVu Sans, Liberation Sans, sans-serif" fill="#111">136</text>
<text transform="translate(1993.7 513.6) rotate(-90)" font-size="21.6" letter-spacing="0.5" text-anchor="end" font-family="DejaVu Sans, Liberation Sans, sans-serif" fill="#111">137</text>
<text transform="translate(2019.0 513.6) rotate(-90)" font-size="21.6" letter-spacing="0.5" text-anchor="end" font-family="DejaVu Sans, Liberation Sans, sans-serif" fill="#111">138</text>
<text transform="translate(64.8 138.2) rotate(-90)" font-size="30" text-anchor="middle" font-family="DejaVu Sans, Liberation Sans, sans-serif" fill="#111">ZT</text>
<text transform="translate(62.8 398.2) rotate(-90)" font-size="30" text-anchor="middle" font-family="DejaVu Sans, Liberation Sans, sans-serif" fill="#111">ZT</text>
<path d="M224.8 37.5V21H794M1154 21H1723.2V37.5" stroke="#000" stroke-width="5.4" fill="none"/>
<path d="M1521.4 571.5V587.4H1665M1956 587.4H2050.6V571.5" stroke="#000" stroke-width="5" fill="none"/>
<text x="881" y="27.6" font-size="32.7" font-family="Liberation Sans, sans-serif" fill="#000">Synapse lost</text>
<text x="1693.5" y="601.5" font-size="32.7" font-family="Liberation Sans, sans-serif" fill="#000">Synapse gained</text>
<text x="1032.2" y="601.4" font-size="32.7" font-family="Liberation Sans, sans-serif" fill="#000">Synapse ID #</text>
<defs><linearGradient id="cb" x1="0" x2="1" y1="0" y2="0"><stop offset="0.0" stop-color="#e6f598"/><stop offset="0.07" stop-color="#d9ef8b"/><stop offset="0.302" stop-color="#a6d96a"/><stop offset="0.535" stop-color="#66bd63"/><stop offset="0.767" stop-color="#1a9850"/><stop offset="1.0" stop-color="#006837"/></linearGradient></defs>
<rect x="98.9" y="612.2" width="319.3" height="29" fill="url(#cb)"/>
<text x="106" y="602.4" font-size="27.4" font-family="Liberation Sans, sans-serif" fill="#000">Normalized intensity (a.u.)</text>
<text x="104" y="667" font-size="21.7" text-anchor="middle" font-family="Liberation Sans, sans-serif" fill="#000">0.0</text>
<text x="263.5" y="667" font-size="21.7" text-anchor="middle" font-family="Liberation Sans, sans-serif" fill="#000">0.5</text>
<text x="422" y="667" font-size="21.7" text-anchor="middle" font-family="Liberation Sans, sans-serif" fill="#000">1.0</text>
<text x="2.2" y="24.7" font-size="40" font-weight="bold" font-family="Liberation Sans, sans-serif" fill="#000">a</text>
<defs><filter id="blur1" x="-50%" y="-50%" width="200%" height="200%"><feGaussianBlur stdDeviation="0.7"/></filter><filter id="blur2" x="-20%" y="-20%" width="140%" height="140%"><feGaussianBlur stdDeviation="1.5"/></filter><filter id="blur6" x="-30%" y="-30%" width="160%" height="160%"><feGaussianBlur stdDeviation="7"/></filter></defs>
<clipPath id="clip0"><rect x="47.0" y="749.9" width="152.8" height="258.3"/></clipPath>
<g clip-path="url(#clip0)">
<rect x="47.0" y="749.9" width="152.8" height="258.3" fill="#040105"/>
<circle cx="116.4" cy="902.1" r="1.0" fill="#3a9a6a" opacity="0.43"/><circle cx="124.6" cy="908.1" r="0.6" fill="#3a9a6a" opacity="0.46"/><circle cx="142.5" cy="953" r="0.5" fill="#3a9a6a" opacity="0.35"/><circle cx="63.3" cy="956.6" r="0.8" fill="#3a9a6a" opacity="0.22"/><circle cx="194.2" cy="990.5" r="0.8" fill="#3a9a6a" opacity="0.51"/><circle cx="73.1" cy="783.2" r="0.7" fill="#3a9a6a" opacity="0.23"/><circle cx="77.9" cy="832.7" r="0.5" fill="#3a9a6a" opacity="0.43"/><circle cx="114.7" cy="963.8" r="0.7" fill="#3a9a6a" opacity="0.52"/><circle cx="123.4" cy="924.5" r="0.7" fill="#3a9a6a" opacity="0.34"/><circle cx="196.5" cy="997.3" r="0.9" fill="#3a9a6a" opacity="0.55"/><circle cx="96.3" cy="830" r="0.6" fill="#3a9a6a" opacity="0.24"/><circle cx="162.5" cy="867.3" r="0.9" fill="#3a9a6a" opacity="0.39"/><circle cx="190.6" cy="964.9" r="0.5" fill="#3a9a6a" opacity="0.30"/><circle cx="183.6" cy="882.5" r="1.0" fill="#3a9a6a" opacity="0.40"/><circle cx="60.7" cy="917.3" r="0.9" fill="#3a9a6a" opacity="0.33"/><circle cx="62.8" cy="852.5" r="1.0" fill="#3a9a6a" opacity="0.58"/><circle cx="67.3" cy="833.7" r="0.5" fill="#3a9a6a" opacity="0.23"/><circle cx="167" cy="818.7" r="0.8" fill="#3a9a6a" opacity="0.42"/><circle cx="78" cy="939.7" r="0.5" fill="#3a9a6a" opacity="0.52"/><circle cx="67.1" cy="871.8" r="0.6" fill="#3a9a6a" opacity="0.33"/><circle cx="192.5" cy="955.3" r="0.6" fill="#3a9a6a" opacity="0.64"/><circle cx="80.9" cy="866" r="0.9" fill="#3a9a6a" opacity="0.52"/><circle cx="64.7" cy="995.9" r="0.6" fill="#3a9a6a" opacity="0.33"/><circle cx="163.4" cy="851.7" r="0.6" fill="#3a9a6a" opacity="0.24"/><circle cx="63.2" cy="907.1" r="0.6" fill="#3a9a6a" opacity="0.50"/><circle cx="104.6" cy="878.8" r="1.0" fill="#3a9a6a" opacity="0.44"/><circle cx="134.3" cy="969.1" r="0.6" fill="#3a9a6a" opacity="0.28"/><circle cx="183.4" cy="958.4" r="0.6" fill="#3a9a6a" opacity="0.29"/><circle cx="158.5" cy="985.2" r="0.6" fill="#3a9a6a" opacity="0.68"/><circle cx="179.5" cy="911.7" r="0.7" fill="#3a9a6a" opacity="0.25"/><circle cx="55.7" cy="990.1" r="0.6" fill="#3a9a6a" opacity="0.55"/><circle cx="87.7" cy="959.7" r="0.8" fill="#3a9a6a" opacity="0.35"/><circle cx="75.8" cy="937.2" r="0.5" fill="#3a9a6a" opacity="0.31"/><circle cx="132.1" cy="966" r="0.8" fill="#3a9a6a" opacity="0.34"/><circle cx="184.7" cy="824.4" r="0.5" fill="#3a9a6a" opacity="0.33"/><circle cx="115.4" cy="793.1" r="0.5" fill="#3a9a6a" opacity="0.38"/><circle cx="134" cy="808.6" r="0.6" fill="#3a9a6a" opacity="0.65"/><circle cx="193.9" cy="923.3" r="0.8" fill="#3a9a6a" opacity="0.49"/><circle cx="70.6" cy="787.6" r="0.5" fill="#3a9a6a" opacity="0.66"/><circle cx="152.9" cy="990.1" r="0.5" fill="#3a9a6a" opacity="0.52"/>
<polygon points="144.3,857.2 152.2,855.9 150.9,869.1 135,871.7 132.4,867.8" fill="#7a1a88" opacity="0.3" filter="url(#blur2)"/>
<polygon points="91.1,926.3 118.7,908.2 162.1,899.9 160.9,905.2 150.4,914 130.4,920.5 103.5,931.6 92.9,930.4" fill="#9a18a4" opacity="0.6" filter="url(#blur2)"/>
<polygon points="97.6,955.1 126.9,950.4 149.8,952.1 149.2,959.8 141,964.5 129.3,966.8 99.9,962.1" fill="#9a18a4" opacity="0.7" filter="url(#blur2)"/>
<g filter="url(#blur2)" opacity="0.8" fill="none" stroke="#a81cb0" stroke-linecap="round" stroke-linejoin="round"><path d="M118.1 774.6C117.9 775.3 117.1 777.3 116.7 778.8C116.3 780.4 115.9 782.5 115.6 783.9C115.3 785.3 115.1 785.9 115 787.2C114.8 788.6 114.8 790.6 114.6 792C114.4 793.5 113.9 794.5 113.6 795.9C113.3 797.4 113.2 799.1 113 800.7C112.7 802.3 112.4 804.2 112.3 805.7C112.2 807.2 112.4 808.1 112.3 809.6C112.2 811.1 111.8 813.3 111.8 814.8C111.7 816.3 112.3 817.2 112.2 818.6C112.1 820.1 111.3 822.1 111.2 823.5C111.2 825 111.7 826 111.7 827.5C111.7 828.9 111.4 830.6 111.3 832.1C111.2 833.6 111.2 834.9 111.1 836.3C111.1 837.8 111 839.2 111.1 840.7C111.2 842.3 111.6 844 111.7 845.5C111.9 847 112 848.3 112 849.7C111.9 851.1 111.5 852.4 111.5 853.9C111.4 855.3 111.5 857 111.5 858.5C111.6 860 111.8 861.2 111.8 862.8C111.9 864.4 111.6 866.3 111.8 867.9C111.9 869.6 112.7 871.1 112.9 872.6C113.1 874.1 112.6 875.4 112.9 877C113.1 878.6 114 880.4 114.4 882.1C114.7 883.8 114.9 885.5 115.2 887C115.4 888.6 115.6 889.9 115.8 891.3C116.1 892.6 116.5 893.9 116.7 895.2C117 896.5 116.9 897.9 117.2 899.3C117.5 900.8 118.1 902.5 118.5 904C118.8 905.4 119.2 907.5 119.3 908.2" stroke-width="3.5"/><path d="M92.3 926.9L94.2 926.8L96.7 925.2L99.4 923.3L99.6 923.3L102.5 922.6L105.3 921.4L107.7 918.5L109.3 918.7L111.4 916.7L112.2 915.3L114.8 914.5L116.6 911.5L117.3 909.5L119.3 909.3L121.7 909.4L123.7 908.8L126.7 908.9L128.5 907.5L131 908.7L134.5 907.2L136.3 907L138.8 906.7L141.1 906.1L143.1 905.1L145.3 906.4L148.4 905.1L150.4 904.6L152.6 904L155.3 902.8L157.5 902.7L159.3 901.3L162.1 901.1M94.1 929.9L96.4 929.5L98.6 929.5L101.8 927.7L102.7 927.2L105.3 926.1L106.8 925.1L108.1 925.1L110.2 924.6L114 923.6L115.2 922.8L117.6 921.6L118.6 921.3L121.4 920.3L124.3 919.7L127.3 918.3L128.6 916.4L130.4 916.4L133.2 915.3L134.1 916L135.3 915.1L139.3 914.3L142.2 913.7L143.7 912.8L145.7 913.4L147 913.3L151.1 911.2L152.8 910L154.3 910.7L157.4 909.3M118.7 909.3L117.6 912.2L117.1 914.1L115.9 915.3L117.5 917.8L116.1 920.4L116.1 922.2L115.2 925.8L115.2 926.9L115.9 929.5L114.1 931.3L114.4 934.3L115.3 936L114.2 938.4L114 940.6L113.9 944L113.4 945.7L115.3 947.5L117.8 948.8L119.9 951.6M129.3 917.5L128.4 919.5L128.8 923.4L129.4 925L127.8 926.1L127.8 928.3L127 930.5L126.9 932.8L127 934.9L126.2 937L125.6 939.1L126 941.6L125.7 943.6L125.1 945L124 948L124.6 950.3L125.7 952.7M98.2 958L100.2 957.2L103.2 957.4L105.2 957L108.3 955.3L110.5 955.7L113.1 955.2L115.2 955.1L117.2 954.3L119.8 954.6L122 954.1L125.1 953.2L126.9 953.3L130.1 953.2L130.7 953.8L133.9 954.4L135.9 954.8L138.7 955.1L141.9 955.5L143.9 954L147.6 955.2L149.2 954.5M101.1 960.9L103.8 960.4L106.4 961.1L108.7 959.9L111.6 959.5L112.4 959.6L115.2 958.6L117.1 957.8L120.2 959.1L122 957.8L124.6 958.6L126.3 957.9L129.3 958L131.9 958.3L135.1 958.7L134.7 959L138.2 958.6L140.1 958.8L142.3 959L145.7 958.6" stroke-width="4.4"/><path d="M96.7 925.2L95.1 925.3L93.5 925.1M116.6 911.5L115.1 910.9L113.5 911M126.7 908.9L128 908L129.6 907.5M138.8 906.7L139.2 905.1L139.9 903.7M145.3 906.4L146.1 907.8L147.2 908.9M155.3 902.8L156.1 901.5L156.8 900M159.3 901.3L157.8 902L156.4 902.6M105.3 926.1L104.1 925.1L103.2 923.7M114 923.6L112.7 922.7L111.6 921.5M117.6 921.6L117.2 923.1L116.3 924.4M128.6 916.4L127.5 915.2L126.5 914M130.4 916.4L129.1 915.5L127.5 915.1M147 913.3L146 914.6L145.2 916M157.4 909.3L158.8 908.6L160.4 908.1M114.3 917.9L114.7 919.2L115.1 920.4L115.7 921.5L116.2 922.7L116.5 924M133.7 913.9L134.4 915L135.5 915.7L136.4 916.7M118.3 917.8L118 919L117.5 920.2L117.3 921.5L116.9 922.8M129.8 915.4L129.8 916.7L129.7 918L129.6 919.2L129.7 920.5L129.3 921.8L128.7 923M137.9 912.6L138.8 913.5L139.4 914.7L140.1 915.8M142.4 910.7L143.3 911.6L143.9 912.8L144.8 913.7L145.8 914.5L147 915L148.2 915.5M118.4 917.4L118.1 918.7L117.7 919.9L117.1 921.1L116.3 922.1L115.4 923.1L114.7 924.2M106.6 923.3L107.2 924.5L107.5 925.7L107.5 927M126.3 918L126.6 919.3L126.8 920.6L126.9 921.8L126.6 923.1M160.5 900.9L160.9 902.2L161.6 903.2L162.4 904.3L163.3 905.2M127.7 911.9L128.1 913.1L128.4 914.3M98.6 922.7L97.8 923.7L97.1 924.8L96.3 925.8L95.6 926.9M100.4 924L100.9 925.2L101.4 926.4L101.8 927.6M118.2 917.2L119.3 918L120.1 919L121 920L121.8 920.9L122.8 921.8M107.6 920.7L108.2 921.8L108.9 922.9L109.8 923.9L110.5 925M117.4 917.2L117 916L116.4 914.8L115.5 913.9L114.9 912.8L114.1 911.7M122.7 916.5L123.1 917.8L123.2 919.1L123.1 920.4L123 921.6M146.9 905.2L147.1 906.5L147.5 907.7M150.2 907.8L150.8 909L151.1 910.2L151.1 911.5L150.8 912.8M150.9 908.6L150.9 909.9L151 911.2L151.4 912.5L151.5 913.8M103 924L102.8 925.3L103.1 926.6L103.2 927.9M109.6 918.4L110 919.6L110.4 920.9M157.2 904.5L157.6 905.8L157.9 907L158.2 908.3L158.7 909.5L159.1 910.8L159.7 911.9M97.1 927.1L97.8 928.2L98.4 929.4L99 930.5L100 931.4M151 905.9L152.1 906.6L153.4 906.8L154.6 907.2L155.9 907.6M143.6 907.6L144.1 908.8L144.3 910.1M97.3 923.4L97.4 924.7L97 925.9M151.7 903.9L151.4 905.2L151.2 906.5L150.9 907.8L150.8 909.1M114.2 921.1L114.4 922.4L114.6 923.6L114.8 924.9L114.8 926.2L114.9 927.5M115.1 917.6L115.3 918.9L114.9 920.1L115 921.4M98.2 925L98 926.3L97.9 927.6M107.8 919.6L107.6 920.8L107.7 922.1L108.1 923.4M115 919.2L115.2 920.5L115.5 921.7M96.7 924L97 925.3L97.2 926.5L97.2 927.8L97.4 929.1L97.6 930.4M143.7 909.6L143.3 910.9L143.2 912.2L143.5 913.5M138.8 908.8L139.1 910.1L139.7 911.2L140.3 912.3M109.6 921.1L109.9 922.4L110.6 923.5L111.5 924.4L112.4 925.4L113.2 926.4M99.6 924.4L99.9 925.6L100 926.9L100 928.2M134.7 911.8L134.8 913.1L134.8 914.4L134.9 915.7L135.2 916.9L135.4 918.2L135.5 919.5M105.4 920.1L105.2 921.4L104.8 922.7L104.5 923.9L104 925.1L103.4 926.3L102.8 927.4M109.6 920.7L110.5 921.5L111.2 922.7L111.9 923.7M97.5 927.2L98.6 927.9L99.6 928.7L100.7 929.4L101.8 930.1M107.4 920.9L107.3 922.2L107.7 923.5L108 924.7L108.1 926L107.8 927.3L107.3 928.5M156.3 903.6L155.4 904.6L154.7 905.7L154.4 907L153.9 908.2L153.4 909.4M129.7 913.3L129.6 914.6L129.6 915.9M142.3 910.4L141.9 911.6L141.1 912.6L140.5 913.7M117.7 916.4L117.5 917.7L117.9 918.9L118.5 920L118.7 921.3M140.2 909.3L140.6 910.5L140.8 911.8L140.9 913.1L141.1 914.4M105.9 920.6L106.2 921.8L106.2 923.1L106.3 924.4L106.7 925.7M119.2 916.2L120 917.3L120.7 918.4L121.4 919.5M139.4 911.7L139.3 913L139.1 914.3L139.2 915.6L139.6 916.9L140.1 918.1L140.8 919.2M96.9 925.1L96.6 926.4L96.1 927.6L95.7 928.8L94.8 929.8L94 930.8L93.2 931.8M130.5 914.3L130.3 915.5L130.3 916.8L130 918.1L129.7 919.4L129.8 920.7L129.5 921.9M144.3 907.3L144.7 908.6L145.1 909.8L145.5 911.1M146.2 909.3L146.4 910.6L146.3 911.9M120.4 917.5L120.6 918.8L120.6 920.1L120.9 921.4L121.6 922.5L122.1 923.7L122.8 924.8M108.9 921.3L108.7 922.6L108.3 923.8L108.2 925.1L107.9 926.4L108.1 927.7L107.9 929M113.1 916.2L113.3 917.5L113.7 918.7L113.9 920L113.9 921.3M144.6 909.7L144.8 911L144.8 912.3L144.3 913.6L143.6 914.6L142.8 915.7L141.8 916.5M112.7 920.1L112.5 918.8L112.4 917.5L112.3 916.2L112.4 914.9L112.7 913.6L113.2 912.4M120.8 918.4L120.3 919.6L120 920.9L119.4 922M105.9 921L105.8 919.8L105.4 918.5L105 917.3M148.7 907.2L149.5 908.2L150.7 908.7L151.7 909.6L152.3 910.7L153.2 911.6L154 912.7M118.4 916.2L119 917.4L119.7 918.5L120.3 919.6L121 920.7L121.5 921.9L121.8 923.2M124.1 916.5L124.1 917.8L124.1 919.1L124 920.4L124 921.7M123.5 915.8L123.9 917L124.1 918.3L124.4 919.6L124.6 920.8L124.6 922.1M107.5 921.9L108.2 923L108.8 924.2M121.6 916.6L121.2 917.8L120.8 919L120.6 920.3L120.4 921.6M161 903.5L160.8 904.7L160.2 905.9M137.8 913.3L137.9 914.6L137.7 915.9L137.6 917.2L137.6 918.5L137.6 919.8L137.8 921.1M98 924.2L97.7 925.5L98 926.8L98.3 928L98.7 929.2L99.2 930.5M150.6 906.6L150.7 907.9L150.7 909.2M153.2 906.4L153.8 907.5L154.2 908.8M112.1 918L111.6 919.1L110.6 920M119.1 919.4L118.2 920.2L117.1 920.9L115.8 921.3M128.9 915.8L129.4 917L129.3 918.3L129.4 919.6L128.9 920.8M120.2 916.2L119.8 917.5L119.3 918.7L118.8 919.9L118.5 921.1M110.2 921.2L110.3 922.5L110.5 923.8L110.5 925.1L110.6 926.4L110.9 927.7M158.6 904.8L158.8 906L158.7 907.3L159.2 908.6L160 909.6M121.1 917.1L121.2 918.4L121.3 919.7L121.6 921L121.7 922.3M99.7 925.3L99.2 926.5L99 927.8L98.9 929.1M157.5 903.7L157.4 905L157 906.2L156.7 907.5L156.2 908.7M128.3 914.3L128.6 915.6L129.2 916.8L129.8 917.9L130.3 919.1M129.3 914.8L129 916.1L128.6 917.3L128.2 918.5L128.1 919.8M96.4 927.9L95.4 927L94.5 926.1L93.7 925L93.3 923.8M154.8 906.3L155.3 907.5L155.4 908.8L155.5 910.1L155.4 911.4M125.6 914.4L126.3 915.4L126.9 916.6L127.4 917.8M127.6 916.8L127.1 918L126.9 919.3L126.8 920.6M126.6 912.8L126.4 914.1L126.7 915.3L126.7 916.6L126.9 917.9L127 919.2M115.8 920.8L116.1 922.1L116.7 923.2M136.6 913.7L136.7 915L137 916.3M160.6 904.3L161.3 905.4L162.1 906.4L162.9 907.4L163.8 908.4M139.9 908.9L140.7 910L141.6 910.9L142.5 911.8L143.1 912.9L144.1 913.7L145.2 914.5M140.2 911L140.7 912.2L141 913.4L141 914.7L141 916L140.7 917.3M150.4 907.1L150.2 908.4L150.1 909.7L149.5 910.9M125.6 939.1L124 939.5L122.6 940.3M125.1 945L126.6 945.1L128.2 944.8L129.5 943.8M125.7 952.7L126.3 951.2L126.3 949.6M119.8 954.6L120.2 956.2L120.3 957.8M125.1 953.2L124.6 954.7L123.6 956M130.1 953.2L131.4 952.2L132.9 951.8L134.5 951.6M130.7 953.8L132.2 954.1L133.8 954M133.9 954.4L134.1 956L134 957.6M138.7 955.1L140.2 954.6L141.7 954L142.2 952.5M141.9 955.5L143.3 954.7L144.9 954.4M120.2 959.1L121.1 960.4L121.8 961.8M122 957.8L121 956.5L120.3 955.1M124.6 958.6L126.1 958L127.7 958.1M129.3 958L127.9 957.1L126.6 956.3M135.1 958.7L133.5 958.9L131.9 959M138.2 958.6L138 957L138.1 955.4M102.5 955.8L102.8 954.5L103 953.2L102.8 951.9M101.6 954.7L101.6 956L101.5 957.3M147.3 953.7L147.4 952.4L147.7 951.2L148.4 950.1M112 954.6L112.1 955.9L112.4 957.1L112.9 958.3M142.6 955.5L141.9 956.6L141.2 957.8L140.7 959L140.3 960.2M119.3 955.8L119.7 957L119.9 958.3L119.8 959.6L119.6 960.9L119.5 962.2L119.5 963.5M108.9 955.9L108.9 957.2L109.1 958.5L109.7 959.7L110.3 960.8M147.8 954.1L147.2 955.3L146.4 956.3L145.9 957.5L145.3 958.7L144.7 959.8M120.7 955.6L120.8 956.9L121.1 958.2L121.7 959.3L122 960.6L122.1 961.9L122.1 963.2M117.9 956L117.4 957.2L117.1 958.5M112.5 954.5L112.3 955.8L111.8 957.1L111.4 958.3L111 959.5L110.4 960.7M108.7 955L109.2 956.2L110.1 957.2L111 958.1L111.8 959.2M115.4 956.7L115 957.9L114.7 959.2L114.5 960.4M109.9 956.7L110.6 955.6L111.1 954.4L111.5 953.2L111.9 951.9L112.3 950.7M102 956.8L101.7 958L101.5 959.3L101 960.5L100.6 961.7M112.7 956.4L112.5 957.7L112.5 959M143.5 953.8L144 955L144.7 956.1L145.5 957.2M143.8 953.7L143 954.7L142 955.6L140.8 956M133.6 953.7L134.6 954.5L135.5 955.5L136.5 956.3L137.4 957.2L137.8 958.5M102.7 955L102.4 953.7L102.4 952.4L102.3 951.1L102.2 949.8M132 954.9L131.5 956.2L131.1 957.4L130.6 958.6L129.9 959.6M116.3 954.1L116.7 955.3L117.1 956.6L117.6 957.8L117.6 959.1L117.5 960.4M114.9 955.7L115.6 956.8L116.4 957.8M111.3 955.6L111.6 956.8L111.5 958.1L111.3 959.4M133.9 955.9L134.1 957.2L134.3 958.4L134.7 959.7L135.1 960.9L135.6 962.1M144.9 954.4L144.4 955.6L143.7 956.7L143.1 957.9L142.6 959.1M122.8 955.2L122.5 953.9L122.2 952.7L122.1 951.4L122 950.1L121.9 948.8M129.3 953.6L129.4 952.3L129.3 951L129.2 949.7M126.8 954.8L126.2 955.9L125.1 956.7L124 957.4M104.7 956.2L104 955.1L103.1 954.1L102.6 952.9M145.6 955.7L145.8 957L145.7 958.3L145.8 959.6L146.4 960.7L147.4 961.6M140.2 951.9L140 950.7L140 949.4L140.2 948.1L140.3 946.8L140.7 945.6M148.5 955.1L147.8 956.1L147 957.2L146.3 958.3L145.5 959.3M130.9 954.8L130.3 956L130.1 957.2L130.1 958.5L130 959.8L130.1 961.1M147.8 953.2L148.6 952.1L149.6 951.3L150.3 950.3M100.2 955.6L100.1 956.9L99.8 958.2L99.7 959.5L99.5 960.8L99.4 962.1M140.5 954.7L140.6 955.9L140.9 957.2L140.9 958.5L141.1 959.8L141.2 961.1M122.7 955.1L121.9 956.1L120.9 957M148.9 953.3L149.6 954.3L150.6 955.2L151.6 956.1L152.7 956.8L153.8 957.5M106.7 956.7L107 958L107.1 959.3L107.3 960.6M106.4 954L106.7 955.3L106.4 956.5L106 957.7L105.6 959M131.9 954.3L132 955.6L132.2 956.9M109.1 956.8L108.7 958.1L107.9 959.1L107.3 960.2L106.5 961.2L105.6 962.2M110.8 954.5L111.3 955.7L111.9 956.9L112.8 957.8M139.6 953.9L139.7 955.2L139.5 956.5L139 957.7L138.8 959M142.5 955.2L142.8 956.5L142.9 957.8L143.1 959.1M133.3 955.4L133.3 956.7L133 958L132.6 959.2M143.5 955.3L143.5 956.6L143.3 957.9L143 959.2L142.5 960.4L142.2 961.6M115.4 954.3L115 955.5L114.4 956.7L114.1 958L113.9 959.3M118 955.1L118.8 954.1L119.7 953.1L120.7 952.3L121.6 951.3M147.2 954L147.7 955.2L147.9 956.5L148.4 957.7L148.7 958.9M127.8 952.6L127.6 953.9L127.6 955.2L127.3 956.5L127.3 957.8L127.2 959.1M98.6 957.3L98.2 958.6L97.9 959.8L97.8 961.1L98 962.4M104.1 956.4L103.4 957.5L102.8 958.6M140.8 955L140.9 956.3L140.9 957.6M145 953.4L145.1 954.7L145.6 955.9L146.3 957L146.9 958.1M134.3 954.2L133.8 955.4L133.1 956.5M141.3 954.4L141.7 955.7L142.2 956.8M105.1 955.3L104.5 954.1L103.8 953L103.5 951.8M115.6 954.9L115.8 956.2L115.8 957.5L115.9 958.8L115.8 960.1L115.7 961.4M133.5 957L133.6 958.3L134.3 959.4L134.7 960.6M135.4 953.6L134.9 954.8L134.6 956L134.3 957.3M117.8 954.9L117.9 953.6L118.4 952.5L119 951.3L119.5 950.1M127.3 955.1L127 956.4L127.2 957.7L127.4 959L128 960.1L128.9 961.1M101.6 956.4L102.4 957.4L103.2 958.5M128.9 959L129.7 960.1L130.3 961.2L130.9 962.4L131.5 963.5L132.6 964.3M138.5 961.7L137.9 962.8L136.9 963.7M129.8 959.4L130.4 960.6L130.8 961.8L130.6 963.1M129.6 959.4L128.9 960.5L128.1 961.5L127.3 962.5M127.5 958.8L126.7 959.8L125.6 960.4L124.3 960.7M133.9 960.3L133 961.2L131.8 961.6L130.5 962L129.2 962.2M140.6 960.9L140.8 962.1L141 963.4L141.2 964.7L141.1 966M133.6 959.8L133.8 961.1L133.7 962.4L133.7 963.7L134.2 964.9M134.7 960.6L134.5 961.8L134.5 963.1L135 964.3M135.4 959.9L135.4 961.2L135.7 962.5M134.3 961.3L135.1 962.3L135.8 963.3L136.9 964.1M137.7 960.3L138.4 961.4L139.2 962.4L139.7 963.6L140.4 964.7M132.3 960.9L132.3 962.2L132.6 963.4L132.7 964.7L133.2 965.9M132.6 960L132.9 961.3L133.3 962.5L133.8 963.7M137.2 960.1L136.6 958.9L135.6 958M138.3 962L138.6 963.2L138.9 964.5L138.6 965.7M130.7 960L130.7 961.3L130.2 962.5L130.1 963.8L130 965.1L129.5 966.3M128.6 958.3L128.6 959.6L128.9 960.9L129.2 962.1L129.1 963.4M136.6 961.7L136.3 963L136.1 964.2L136.1 965.5L136.2 966.8M132.1 959.9L132.8 961L133.4 962.1" stroke-width="4.0"/></g>
<g fill="none" stroke="#e030e0" opacity="1.0" stroke-linecap="round" stroke-linejoin="round"><path d="M118.1 774.6C117.9 775.3 117.1 777.3 116.7 778.8C116.3 780.4 115.9 782.5 115.6 783.9C115.3 785.3 115.1 785.9 115 787.2C114.8 788.6 114.8 790.6 114.6 792C114.4 793.5 113.9 794.5 113.6 795.9C113.3 797.4 113.2 799.1 113 800.7C112.7 802.3 112.4 804.2 112.3 805.7C112.2 807.2 112.4 808.1 112.3 809.6C112.2 811.1 111.8 813.3 111.8 814.8C111.7 816.3 112.3 817.2 112.2 818.6C112.1 820.1 111.3 822.1 111.2 823.5C111.2 825 111.7 826 111.7 827.5C111.7 828.9 111.4 830.6 111.3 832.1C111.2 833.6 111.2 834.9 111.1 836.3C111.1 837.8 111 839.2 111.1 840.7C111.2 842.3 111.6 844 111.7 845.5C111.9 847 112 848.3 112 849.7C111.9 851.1 111.5 852.4 111.5 853.9C111.4 855.3 111.5 857 111.5 858.5C111.6 860 111.8 861.2 111.8 862.8C111.9 864.4 111.6 866.3 111.8 867.9C111.9 869.6 112.7 871.1 112.9 872.6C113.1 874.1 112.6 875.4 112.9 877C113.1 878.6 114 880.4 114.4 882.1C114.7 883.8 114.9 885.5 115.2 887C115.4 888.6 115.6 889.9 115.8 891.3C116.1 892.6 116.5 893.9 116.7 895.2C117 896.5 116.9 897.9 117.2 899.3C117.5 900.8 118.1 902.5 118.5 904C118.8 905.4 119.2 907.5 119.3 908.2" stroke-width="1.5"/><path d="M92.3 926.9L94.2 926.8L96.7 925.2L99.4 923.3L99.6 923.3L102.5 922.6L105.3 921.4L107.7 918.5L109.3 918.7L111.4 916.7L112.2 915.3L114.8 914.5L116.6 911.5L117.3 909.5L119.3 909.3L121.7 909.4L123.7 908.8L126.7 908.9L128.5 907.5L131 908.7L134.5 907.2L136.3 907L138.8 906.7L141.1 906.1L143.1 905.1L145.3 906.4L148.4 905.1L150.4 904.6L152.6 904L155.3 902.8L157.5 902.7L159.3 901.3L162.1 901.1M94.1 929.9L96.4 929.5L98.6 929.5L101.8 927.7L102.7 927.2L105.3 926.1L106.8 925.1L108.1 925.1L110.2 924.6L114 923.6L115.2 922.8L117.6 921.6L118.6 921.3L121.4 920.3L124.3 919.7L127.3 918.3L128.6 916.4L130.4 916.4L133.2 915.3L134.1 916L135.3 915.1L139.3 914.3L142.2 913.7L143.7 912.8L145.7 913.4L147 913.3L151.1 911.2L152.8 910L154.3 910.7L157.4 909.3M118.7 909.3L117.6 912.2L117.1 914.1L115.9 915.3L117.5 917.8L116.1 920.4L116.1 922.2L115.2 925.8L115.2 926.9L115.9 929.5L114.1 931.3L114.4 934.3L115.3 936L114.2 938.4L114 940.6L113.9 944L113.4 945.7L115.3 947.5L117.8 948.8L119.9 951.6M129.3 917.5L128.4 919.5L128.8 923.4L129.4 925L127.8 926.1L127.8 928.3L127 930.5L126.9 932.8L127 934.9L126.2 937L125.6 939.1L126 941.6L125.7 943.6L125.1 945L124 948L124.6 950.3L125.7 952.7M98.2 958L100.2 957.2L103.2 957.4L105.2 957L108.3 955.3L110.5 955.7L113.1 955.2L115.2 955.1L117.2 954.3L119.8 954.6L122 954.1L125.1 953.2L126.9 953.3L130.1 953.2L130.7 953.8L133.9 954.4L135.9 954.8L138.7 955.1L141.9 955.5L143.9 954L147.6 955.2L149.2 954.5M101.1 960.9L103.8 960.4L106.4 961.1L108.7 959.9L111.6 959.5L112.4 959.6L115.2 958.6L117.1 957.8L120.2 959.1L122 957.8L124.6 958.6L126.3 957.9L129.3 958L131.9 958.3L135.1 958.7L134.7 959L138.2 958.6L140.1 958.8L142.3 959L145.7 958.6" stroke-width="2.0"/><path d="M96.7 925.2L95.1 925.3L93.5 925.1M116.6 911.5L115.1 910.9L113.5 911M126.7 908.9L128 908L129.6 907.5M138.8 906.7L139.2 905.1L139.9 903.7M145.3 906.4L146.1 907.8L147.2 908.9M155.3 902.8L156.1 901.5L156.8 900M159.3 901.3L157.8 902L156.4 902.6M105.3 926.1L104.1 925.1L103.2 923.7M114 923.6L112.7 922.7L111.6 921.5M117.6 921.6L117.2 923.1L116.3 924.4M128.6 916.4L127.5 915.2L126.5 914M130.4 916.4L129.1 915.5L127.5 915.1M147 913.3L146 914.6L145.2 916M157.4 909.3L158.8 908.6L160.4 908.1M114.3 917.9L114.7 919.2L115.1 920.4L115.7 921.5L116.2 922.7L116.5 924M133.7 913.9L134.4 915L135.5 915.7L136.4 916.7M118.3 917.8L118 919L117.5 920.2L117.3 921.5L116.9 922.8M129.8 915.4L129.8 916.7L129.7 918L129.6 919.2L129.7 920.5L129.3 921.8L128.7 923M137.9 912.6L138.8 913.5L139.4 914.7L140.1 915.8M142.4 910.7L143.3 911.6L143.9 912.8L144.8 913.7L145.8 914.5L147 915L148.2 915.5M118.4 917.4L118.1 918.7L117.7 919.9L117.1 921.1L116.3 922.1L115.4 923.1L114.7 924.2M106.6 923.3L107.2 924.5L107.5 925.7L107.5 927M126.3 918L126.6 919.3L126.8 920.6L126.9 921.8L126.6 923.1M160.5 900.9L160.9 902.2L161.6 903.2L162.4 904.3L163.3 905.2M127.7 911.9L128.1 913.1L128.4 914.3M98.6 922.7L97.8 923.7L97.1 924.8L96.3 925.8L95.6 926.9M100.4 924L100.9 925.2L101.4 926.4L101.8 927.6M118.2 917.2L119.3 918L120.1 919L121 920L121.8 920.9L122.8 921.8M107.6 920.7L108.2 921.8L108.9 922.9L109.8 923.9L110.5 925M117.4 917.2L117 916L116.4 914.8L115.5 913.9L114.9 912.8L114.1 911.7M122.7 916.5L123.1 917.8L123.2 919.1L123.1 920.4L123 921.6M146.9 905.2L147.1 906.5L147.5 907.7M150.2 907.8L150.8 909L151.1 910.2L151.1 911.5L150.8 912.8M150.9 908.6L150.9 909.9L151 911.2L151.4 912.5L151.5 913.8M103 924L102.8 925.3L103.1 926.6L103.2 927.9M109.6 918.4L110 919.6L110.4 920.9M157.2 904.5L157.6 905.8L157.9 907L158.2 908.3L158.7 909.5L159.1 910.8L159.7 911.9M97.1 927.1L97.8 928.2L98.4 929.4L99 930.5L100 931.4M151 905.9L152.1 906.6L153.4 906.8L154.6 907.2L155.9 907.6M143.6 907.6L144.1 908.8L144.3 910.1M97.3 923.4L97.4 924.7L97 925.9M151.7 903.9L151.4 905.2L151.2 906.5L150.9 907.8L150.8 909.1M114.2 921.1L114.4 922.4L114.6 923.6L114.8 924.9L114.8 926.2L114.9 927.5M115.1 917.6L115.3 918.9L114.9 920.1L115 921.4M98.2 925L98 926.3L97.9 927.6M107.8 919.6L107.6 920.8L107.7 922.1L108.1 923.4M115 919.2L115.2 920.5L115.5 921.7M96.7 924L97 925.3L97.2 926.5L97.2 927.8L97.4 929.1L97.6 930.4M143.7 909.6L143.3 910.9L143.2 912.2L143.5 913.5M138.8 908.8L139.1 910.1L139.7 911.2L140.3 912.3M109.6 921.1L109.9 922.4L110.6 923.5L111.5 924.4L112.4 925.4L113.2 926.4M99.6 924.4L99.9 925.6L100 926.9L100 928.2M134.7 911.8L134.8 913.1L134.8 914.4L134.9 915.7L135.2 916.9L135.4 918.2L135.5 919.5M105.4 920.1L105.2 921.4L104.8 922.7L104.5 923.9L104 925.1L103.4 926.3L102.8 927.4M109.6 920.7L110.5 921.5L111.2 922.7L111.9 923.7M97.5 927.2L98.6 927.9L99.6 928.7L100.7 929.4L101.8 930.1M107.4 920.9L107.3 922.2L107.7 923.5L108 924.7L108.1 926L107.8 927.3L107.3 928.5M156.3 903.6L155.4 904.6L154.7 905.7L154.4 907L153.9 908.2L153.4 909.4M129.7 913.3L129.6 914.6L129.6 915.9M142.3 910.4L141.9 911.6L141.1 912.6L140.5 913.7M117.7 916.4L117.5 917.7L117.9 918.9L118.5 920L118.7 921.3M140.2 909.3L140.6 910.5L140.8 911.8L140.9 913.1L141.1 914.4M105.9 920.6L106.2 921.8L106.2 923.1L106.3 924.4L106.7 925.7M119.2 916.2L120 917.3L120.7 918.4L121.4 919.5M139.4 911.7L139.3 913L139.1 914.3L139.2 915.6L139.6 916.9L140.1 918.1L140.8 919.2M96.9 925.1L96.6 926.4L96.1 927.6L95.7 928.8L94.8 929.8L94 930.8L93.2 931.8M130.5 914.3L130.3 915.5L130.3 916.8L130 918.1L129.7 919.4L129.8 920.7L129.5 921.9M144.3 907.3L144.7 908.6L145.1 909.8L145.5 911.1M146.2 909.3L146.4 910.6L146.3 911.9M120.4 917.5L120.6 918.8L120.6 920.1L120.9 921.4L121.6 922.5L122.1 923.7L122.8 924.8M108.9 921.3L108.7 922.6L108.3 923.8L108.2 925.1L107.9 926.4L108.1 927.7L107.9 929M113.1 916.2L113.3 917.5L113.7 918.7L113.9 920L113.9 921.3M144.6 909.7L144.8 911L144.8 912.3L144.3 913.6L143.6 914.6L142.8 915.7L141.8 916.5M112.7 920.1L112.5 918.8L112.4 917.5L112.3 916.2L112.4 914.9L112.7 913.6L113.2 912.4M120.8 918.4L120.3 919.6L120 920.9L119.4 922M105.9 921L105.8 919.8L105.4 918.5L105 917.3M148.7 907.2L149.5 908.2L150.7 908.7L151.7 909.6L152.3 910.7L153.2 911.6L154 912.7M118.4 916.2L119 917.4L119.7 918.5L120.3 919.6L121 920.7L121.5 921.9L121.8 923.2M124.1 916.5L124.1 917.8L124.1 919.1L124 920.4L124 921.7M123.5 915.8L123.9 917L124.1 918.3L124.4 919.6L124.6 920.8L124.6 922.1M107.5 921.9L108.2 923L108.8 924.2M121.6 916.6L121.2 917.8L120.8 919L120.6 920.3L120.4 921.6M161 903.5L160.8 904.7L160.2 905.9M137.8 913.3L137.9 914.6L137.7 915.9L137.6 917.2L137.6 918.5L137.6 919.8L137.8 921.1M98 924.2L97.7 925.5L98 926.8L98.3 928L98.7 929.2L99.2 930.5M150.6 906.6L150.7 907.9L150.7 909.2M153.2 906.4L153.8 907.5L154.2 908.8M112.1 918L111.6 919.1L110.6 920M119.1 919.4L118.2 920.2L117.1 920.9L115.8 921.3M128.9 915.8L129.4 917L129.3 918.3L129.4 919.6L128.9 920.8M120.2 916.2L119.8 917.5L119.3 918.7L118.8 919.9L118.5 921.1M110.2 921.2L110.3 922.5L110.5 923.8L110.5 925.1L110.6 926.4L110.9 927.7M158.6 904.8L158.8 906L158.7 907.3L159.2 908.6L160 909.6M121.1 917.1L121.2 918.4L121.3 919.7L121.6 921L121.7 922.3M99.7 925.3L99.2 926.5L99 927.8L98.9 929.1M157.5 903.7L157.4 905L157 906.2L156.7 907.5L156.2 908.7M128.3 914.3L128.6 915.6L129.2 916.8L129.8 917.9L130.3 919.1M129.3 914.8L129 916.1L128.6 917.3L128.2 918.5L128.1 919.8M96.4 927.9L95.4 927L94.5 926.1L93.7 925L93.3 923.8M154.8 906.3L155.3 907.5L155.4 908.8L155.5 910.1L155.4 911.4M125.6 914.4L126.3 915.4L126.9 916.6L127.4 917.8M127.6 916.8L127.1 918L126.9 919.3L126.8 920.6M126.6 912.8L126.4 914.1L126.7 915.3L126.7 916.6L126.9 917.9L127 919.2M115.8 920.8L116.1 922.1L116.7 923.2M136.6 913.7L136.7 915L137 916.3M160.6 904.3L161.3 905.4L162.1 906.4L162.9 907.4L163.8 908.4M139.9 908.9L140.7 910L141.6 910.9L142.5 911.8L143.1 912.9L144.1 913.7L145.2 914.5M140.2 911L140.7 912.2L141 913.4L141 914.7L141 916L140.7 917.3M150.4 907.1L150.2 908.4L150.1 909.7L149.5 910.9M125.6 939.1L124 939.5L122.6 940.3M125.1 945L126.6 945.1L128.2 944.8L129.5 943.8M125.7 952.7L126.3 951.2L126.3 949.6M119.8 954.6L120.2 956.2L120.3 957.8M125.1 953.2L124.6 954.7L123.6 956M130.1 953.2L131.4 952.2L132.9 951.8L134.5 951.6M130.7 953.8L132.2 954.1L133.8 954M133.9 954.4L134.1 956L134 957.6M138.7 955.1L140.2 954.6L141.7 954L142.2 952.5M141.9 955.5L143.3 954.7L144.9 954.4M120.2 959.1L121.1 960.4L121.8 961.8M122 957.8L121 956.5L120.3 955.1M124.6 958.6L126.1 958L127.7 958.1M129.3 958L127.9 957.1L126.6 956.3M135.1 958.7L133.5 958.9L131.9 959M138.2 958.6L138 957L138.1 955.4M102.5 955.8L102.8 954.5L103 953.2L102.8 951.9M101.6 954.7L101.6 956L101.5 957.3M147.3 953.7L147.4 952.4L147.7 951.2L148.4 950.1M112 954.6L112.1 955.9L112.4 957.1L112.9 958.3M142.6 955.5L141.9 956.6L141.2 957.8L140.7 959L140.3 960.2M119.3 955.8L119.7 957L119.9 958.3L119.8 959.6L119.6 960.9L119.5 962.2L119.5 963.5M108.9 955.9L108.9 957.2L109.1 958.5L109.7 959.7L110.3 960.8M147.8 954.1L147.2 955.3L146.4 956.3L145.9 957.5L145.3 958.7L144.7 959.8M120.7 955.6L120.8 956.9L121.1 958.2L121.7 959.3L122 960.6L122.1 961.9L122.1 963.2M117.9 956L117.4 957.2L117.1 958.5M112.5 954.5L112.3 955.8L111.8 957.1L111.4 958.3L111 959.5L110.4 960.7M108.7 955L109.2 956.2L110.1 957.2L111 958.1L111.8 959.2M115.4 956.7L115 957.9L114.7 959.2L114.5 960.4M109.9 956.7L110.6 955.6L111.1 954.4L111.5 953.2L111.9 951.9L112.3 950.7M102 956.8L101.7 958L101.5 959.3L101 960.5L100.6 961.7M112.7 956.4L112.5 957.7L112.5 959M143.5 953.8L144 955L144.7 956.1L145.5 957.2M143.8 953.7L143 954.7L142 955.6L140.8 956M133.6 953.7L134.6 954.5L135.5 955.5L136.5 956.3L137.4 957.2L137.8 958.5M102.7 955L102.4 953.7L102.4 952.4L102.3 951.1L102.2 949.8M132 954.9L131.5 956.2L131.1 957.4L130.6 958.6L129.9 959.6M116.3 954.1L116.7 955.3L117.1 956.6L117.6 957.8L117.6 959.1L117.5 960.4M114.9 955.7L115.6 956.8L116.4 957.8M111.3 955.6L111.6 956.8L111.5 958.1L111.3 959.4M133.9 955.9L134.1 957.2L134.3 958.4L134.7 959.7L135.1 960.9L135.6 962.1M144.9 954.4L144.4 955.6L143.7 956.7L143.1 957.9L142.6 959.1M122.8 955.2L122.5 953.9L122.2 952.7L122.1 951.4L122 950.1L121.9 948.8M129.3 953.6L129.4 952.3L129.3 951L129.2 949.7M126.8 954.8L126.2 955.9L125.1 956.7L124 957.4M104.7 956.2L104 955.1L103.1 954.1L102.6 952.9M145.6 955.7L145.8 957L145.7 958.3L145.8 959.6L146.4 960.7L147.4 961.6M140.2 951.9L140 950.7L140 949.4L140.2 948.1L140.3 946.8L140.7 945.6M148.5 955.1L147.8 956.1L147 957.2L146.3 958.3L145.5 959.3M130.9 954.8L130.3 956L130.1 957.2L130.1 958.5L130 959.8L130.1 961.1M147.8 953.2L148.6 952.1L149.6 951.3L150.3 950.3M100.2 955.6L100.1 956.9L99.8 958.2L99.7 959.5L99.5 960.8L99.4 962.1M140.5 954.7L140.6 955.9L140.9 957.2L140.9 958.5L141.1 959.8L141.2 961.1M122.7 955.1L121.9 956.1L120.9 957M148.9 953.3L149.6 954.3L150.6 955.2L151.6 956.1L152.7 956.8L153.8 957.5M106.7 956.7L107 958L107.1 959.3L107.3 960.6M106.4 954L106.7 955.3L106.4 956.5L106 957.7L105.6 959M131.9 954.3L132 955.6L132.2 956.9M109.1 956.8L108.7 958.1L107.9 959.1L107.3 960.2L106.5 961.2L105.6 962.2M110.8 954.5L111.3 955.7L111.9 956.9L112.8 957.8M139.6 953.9L139.7 955.2L139.5 956.5L139 957.7L138.8 959M142.5 955.2L142.8 956.5L142.9 957.8L143.1 959.1M133.3 955.4L133.3 956.7L133 958L132.6 959.2M143.5 955.3L143.5 956.6L143.3 957.9L143 959.2L142.5 960.4L142.2 961.6M115.4 954.3L115 955.5L114.4 956.7L114.1 958L113.9 959.3M118 955.1L118.8 954.1L119.7 953.1L120.7 952.3L121.6 951.3M147.2 954L147.7 955.2L147.9 956.5L148.4 957.7L148.7 958.9M127.8 952.6L127.6 953.9L127.6 955.2L127.3 956.5L127.3 957.8L127.2 959.1M98.6 957.3L98.2 958.6L97.9 959.8L97.8 961.1L98 962.4M104.1 956.4L103.4 957.5L102.8 958.6M140.8 955L140.9 956.3L140.9 957.6M145 953.4L145.1 954.7L145.6 955.9L146.3 957L146.9 958.1M134.3 954.2L133.8 955.4L133.1 956.5M141.3 954.4L141.7 955.7L142.2 956.8M105.1 955.3L104.5 954.1L103.8 953L103.5 951.8M115.6 954.9L115.8 956.2L115.8 957.5L115.9 958.8L115.8 960.1L115.7 961.4M133.5 957L133.6 958.3L134.3 959.4L134.7 960.6M135.4 953.6L134.9 954.8L134.6 956L134.3 957.3M117.8 954.9L117.9 953.6L118.4 952.5L119 951.3L119.5 950.1M127.3 955.1L127 956.4L127.2 957.7L127.4 959L128 960.1L128.9 961.1M101.6 956.4L102.4 957.4L103.2 958.5M128.9 959L129.7 960.1L130.3 961.2L130.9 962.4L131.5 963.5L132.6 964.3M138.5 961.7L137.9 962.8L136.9 963.7M129.8 959.4L130.4 960.6L130.8 961.8L130.6 963.1M129.6 959.4L128.9 960.5L128.1 961.5L127.3 962.5M127.5 958.8L126.7 959.8L125.6 960.4L124.3 960.7M133.9 960.3L133 961.2L131.8 961.6L130.5 962L129.2 962.2M140.6 960.9L140.8 962.1L141 963.4L141.2 964.7L141.1 966M133.6 959.8L133.8 961.1L133.7 962.4L133.7 963.7L134.2 964.9M134.7 960.6L134.5 961.8L134.5 963.1L135 964.3M135.4 959.9L135.4 961.2L135.7 962.5M134.3 961.3L135.1 962.3L135.8 963.3L136.9 964.1M137.7 960.3L138.4 961.4L139.2 962.4L139.7 963.6L140.4 964.7M132.3 960.9L132.3 962.2L132.6 963.4L132.7 964.7L133.2 965.9M132.6 960L132.9 961.3L133.3 962.5L133.8 963.7M137.2 960.1L136.6 958.9L135.6 958M138.3 962L138.6 963.2L138.9 964.5L138.6 965.7M130.7 960L130.7 961.3L130.2 962.5L130.1 963.8L130 965.1L129.5 966.3M128.6 958.3L128.6 959.6L128.9 960.9L129.2 962.1L129.1 963.4M136.6 961.7L136.3 963L136.1 964.2L136.1 965.5L136.2 966.8M132.1 959.9L132.8 961L133.4 962.1" stroke-width="1.6"/></g>
<g fill="#f45cf4" opacity="1.0"><circle cx="93.9" cy="926.3" r="1.6"/><circle cx="96.8" cy="925.5" r="1"/><circle cx="93.5" cy="925.1" r="1.2"/><circle cx="99" cy="923.3" r="1.4"/><circle cx="99.7" cy="923.2" r="1.6"/><circle cx="102.1" cy="922.7" r="1.5"/><circle cx="105.7" cy="921" r="1.6"/><circle cx="107.8" cy="918.9" r="1.5"/><circle cx="109.5" cy="919.3" r="1.6"/><circle cx="111.5" cy="916.5" r="1.5"/><circle cx="112.5" cy="915.5" r="1.3"/><circle cx="115.3" cy="914.6" r="0.9"/><circle cx="116.3" cy="911.9" r="1"/><circle cx="113.5" cy="911" r="1.7"/><circle cx="117.4" cy="909.4" r="1.1"/><circle cx="119.2" cy="908.9" r="1.3"/><circle cx="121.6" cy="909.6" r="1.5"/><circle cx="124.2" cy="908.2" r="1.3"/><circle cx="126.4" cy="908.8" r="1.3"/><circle cx="129.6" cy="907.5" r="1.4"/><circle cx="128.5" cy="907.4" r="1.3"/><circle cx="134.4" cy="907.3" r="1.2"/><circle cx="138.9" cy="907" r="1.5"/><circle cx="139.9" cy="903.7" r="1.5"/><circle cx="140.9" cy="906.4" r="1"/><circle cx="142.9" cy="905" r="1"/><circle cx="145.1" cy="906.6" r="1.3"/><circle cx="147.2" cy="908.9" r="1.6"/><circle cx="148.5" cy="904.9" r="1.4"/><circle cx="152.8" cy="903.9" r="1.6"/><circle cx="155.3" cy="903.3" r="1.1"/><circle cx="156.8" cy="900" r="1.3"/><circle cx="157.7" cy="902.7" r="1.4"/><circle cx="156.4" cy="902.6" r="1.1"/><circle cx="162.2" cy="901.2" r="1.3"/><circle cx="162.1" cy="901.1" r="1.6"/><circle cx="96.2" cy="929.7" r="0.9"/><circle cx="98.4" cy="929.2" r="1.1"/><circle cx="101.5" cy="928" r="1.3"/><circle cx="103.1" cy="927.2" r="1.4"/><circle cx="103.2" cy="923.7" r="1"/><circle cx="106.7" cy="925.2" r="1.1"/><circle cx="107.4" cy="925" r="1.3"/><circle cx="110.3" cy="924.5" r="1.3"/><circle cx="114.2" cy="923.5" r="1.2"/><circle cx="111.6" cy="921.5" r="1.3"/><circle cx="115" cy="922.7" r="1.1"/><circle cx="117.5" cy="922" r="1.1"/><circle cx="116.3" cy="924.4" r="1.3"/><circle cx="122.1" cy="920.2" r="1"/><circle cx="123.5" cy="919.9" r="1.1"/><circle cx="129.1" cy="916.3" r="1.3"/><circle cx="126.5" cy="914" r="1.4"/><circle cx="130" cy="916.5" r="1.2"/><circle cx="127.5" cy="915.1" r="1.7"/><circle cx="134.6" cy="916.4" r="1.4"/><circle cx="135.2" cy="915.5" r="1.3"/><circle cx="139.3" cy="914.1" r="1.1"/><circle cx="143.9" cy="912.9" r="1.2"/><circle cx="145.6" cy="913.4" r="1"/><circle cx="146.8" cy="913.1" r="1.2"/><circle cx="145.2" cy="916" r="1.1"/><circle cx="152.9" cy="910.3" r="1.1"/><circle cx="153.8" cy="909.9" r="1.1"/><circle cx="157.7" cy="909.2" r="1.2"/><circle cx="160.4" cy="908.1" r="1.3"/><circle cx="157.4" cy="909.3" r="1.7"/><circle cx="115.7" cy="921.5" r="0.9"/><circle cx="136.4" cy="916.7" r="1"/><circle cx="117.3" cy="921.5" r="0.8"/><circle cx="129.6" cy="919.2" r="1.2"/><circle cx="129.3" cy="921.8" r="1.2"/><circle cx="138.8" cy="913.5" r="1.1"/><circle cx="143.3" cy="911.6" r="1.1"/><circle cx="144.8" cy="913.7" r="1.2"/><circle cx="118.1" cy="918.7" r="1.1"/><circle cx="117.1" cy="921.1" r="1.3"/><circle cx="115.4" cy="923.1" r="0.9"/><circle cx="107.2" cy="924.5" r="1.1"/><circle cx="126.6" cy="919.3" r="1.1"/><circle cx="126.9" cy="921.8" r="1"/><circle cx="160.9" cy="902.2" r="1"/><circle cx="162.4" cy="904.3" r="1.3"/><circle cx="96.3" cy="925.8" r="1.4"/><circle cx="100.9" cy="925.2" r="1.1"/><circle cx="119.3" cy="918" r="1.1"/><circle cx="121" cy="920" r="1.4"/><circle cx="108.2" cy="921.8" r="1.4"/><circle cx="109.8" cy="923.9" r="1.2"/><circle cx="117" cy="916" r="0.9"/><circle cx="115.5" cy="913.9" r="1"/><circle cx="114.1" cy="911.7" r="1.4"/><circle cx="151.1" cy="911.5" r="1.2"/><circle cx="150.9" cy="909.9" r="0.9"/><circle cx="102.8" cy="925.3" r="1.3"/><circle cx="103.2" cy="927.9" r="1.3"/><circle cx="157.6" cy="905.8" r="1.1"/><circle cx="158.2" cy="908.3" r="1.1"/><circle cx="159.1" cy="910.8" r="1.2"/><circle cx="99" cy="930.5" r="1.4"/><circle cx="144.1" cy="908.8" r="1"/><circle cx="151.4" cy="905.2" r="1.4"/><circle cx="150.9" cy="907.8" r="0.9"/><circle cx="114.4" cy="922.4" r="1.4"/><circle cx="114.9" cy="927.5" r="0.9"/><circle cx="115.3" cy="918.9" r="1.2"/><circle cx="115" cy="921.4" r="1.3"/><circle cx="98" cy="926.3" r="0.8"/><circle cx="108.1" cy="923.4" r="0.9"/><circle cx="115.2" cy="920.5" r="1.1"/><circle cx="97.6" cy="930.4" r="1.1"/><circle cx="143.3" cy="910.9" r="1.1"/><circle cx="109.9" cy="922.4" r="1.1"/><circle cx="111.5" cy="924.4" r="1.1"/><circle cx="113.2" cy="926.4" r="1.3"/><circle cx="100" cy="928.2" r="1"/><circle cx="134.8" cy="913.1" r="1.1"/><circle cx="110.5" cy="921.5" r="1"/><circle cx="98.6" cy="927.9" r="0.9"/><circle cx="100.7" cy="929.4" r="0.9"/><circle cx="107.3" cy="922.2" r="1"/><circle cx="108" cy="924.7" r="0.9"/><circle cx="107.8" cy="927.3" r="1"/><circle cx="155.4" cy="904.6" r="0.8"/><circle cx="153.4" cy="909.4" r="1.3"/><circle cx="129.6" cy="914.6" r="0.9"/><circle cx="140.5" cy="913.7" r="1"/><circle cx="118.5" cy="920" r="1.2"/><circle cx="140.6" cy="910.5" r="0.9"/><circle cx="140.9" cy="913.1" r="1.1"/><circle cx="106.3" cy="924.4" r="1"/><circle cx="120" cy="917.3" r="1.3"/><circle cx="121.4" cy="919.5" r="1"/><circle cx="140.1" cy="918.1" r="1.3"/><circle cx="96.6" cy="926.4" r="1"/><circle cx="95.7" cy="928.8" r="1.1"/><circle cx="130.3" cy="915.5" r="1.2"/><circle cx="130" cy="918.1" r="1.1"/><circle cx="129.8" cy="920.7" r="1"/><circle cx="144.7" cy="908.6" r="1.2"/><circle cx="145.5" cy="911.1" r="1.1"/><circle cx="120.9" cy="921.4" r="1"/><circle cx="108.2" cy="925.1" r="1.2"/><circle cx="108.1" cy="927.7" r="0.8"/><circle cx="113.3" cy="917.5" r="1"/><circle cx="144.8" cy="911" r="1"/><circle cx="144.3" cy="913.6" r="1.1"/><circle cx="142.8" cy="915.7" r="1.2"/><circle cx="112.3" cy="916.2" r="1"/><circle cx="105.8" cy="919.8" r="1.4"/><circle cx="105" cy="917.3" r="1.1"/><circle cx="149.5" cy="908.2" r="1.3"/><circle cx="151.7" cy="909.6" r="1.1"/><circle cx="153.2" cy="911.6" r="1"/><circle cx="119" cy="917.4" r="1.2"/><circle cx="120.3" cy="919.6" r="0.9"/><circle cx="121.5" cy="921.9" r="1"/><circle cx="124" cy="920.4" r="1.4"/><circle cx="124.4" cy="919.6" r="1.2"/><circle cx="124.6" cy="922.1" r="1.2"/><circle cx="108.2" cy="923" r="1.2"/><circle cx="121.2" cy="917.8" r="1.4"/><circle cx="120.6" cy="920.3" r="1.1"/><circle cx="160.8" cy="904.7" r="1.3"/><circle cx="137.9" cy="914.6" r="1.3"/><circle cx="137.6" cy="917.2" r="1"/><circle cx="97.7" cy="925.5" r="0.9"/><circle cx="98.3" cy="928" r="1"/><circle cx="118.2" cy="920.2" r="1.3"/><circle cx="115.8" cy="921.3" r="1.1"/><circle cx="129.4" cy="919.6" r="1.4"/><circle cx="119.8" cy="917.5" r="1"/><circle cx="118.8" cy="919.9" r="1.3"/><circle cx="110.9" cy="927.7" r="1.3"/><circle cx="121.2" cy="918.4" r="0.9"/><circle cx="121.6" cy="921" r="1.2"/><circle cx="99.2" cy="926.5" r="0.8"/><circle cx="157.4" cy="905" r="1.1"/><circle cx="156.7" cy="907.5" r="0.9"/><circle cx="129.8" cy="917.9" r="1.4"/><circle cx="128.2" cy="918.5" r="1.1"/><circle cx="95.4" cy="927" r="1.1"/><circle cx="155.3" cy="907.5" r="1.1"/><circle cx="155.5" cy="910.1" r="1.1"/><circle cx="126.3" cy="915.4" r="1.1"/><circle cx="127.4" cy="917.8" r="1.2"/><circle cx="127.1" cy="918" r="1.2"/><circle cx="126.8" cy="920.6" r="1"/><circle cx="126.7" cy="916.6" r="1.4"/><circle cx="161.3" cy="905.4" r="0.9"/><circle cx="140.7" cy="910" r="1.3"/><circle cx="142.5" cy="911.8" r="0.8"/><circle cx="144.1" cy="913.7" r="1"/><circle cx="140.7" cy="912.2" r="1"/><circle cx="141" cy="914.7" r="1.1"/><circle cx="140.7" cy="917.3" r="1.1"/><circle cx="150.2" cy="908.4" r="1"/><circle cx="149.5" cy="910.9" r="1.3"/><circle cx="115" cy="925.8" r="1.1"/><circle cx="115" cy="926.9" r="1.1"/><circle cx="119.9" cy="951.6" r="1.6"/><circle cx="126.6" cy="930.5" r="1.6"/><circle cx="126.8" cy="933" r="1.4"/><circle cx="122.6" cy="940.3" r="1.4"/><circle cx="125.5" cy="945.4" r="1.6"/><circle cx="129.5" cy="943.8" r="1.6"/><circle cx="123.7" cy="948.5" r="1.6"/><circle cx="126.3" cy="949.6" r="1.2"/><circle cx="125.7" cy="952.7" r="1.7"/><circle cx="100.2" cy="957.3" r="1.1"/><circle cx="102.7" cy="957.3" r="1.3"/><circle cx="105.4" cy="957" r="1.2"/><circle cx="108.2" cy="955.4" r="1"/><circle cx="113.1" cy="955.4" r="1.4"/><circle cx="115.1" cy="955.4" r="1.5"/><circle cx="120.2" cy="954.8" r="1.6"/><circle cx="120.3" cy="957.8" r="1.1"/><circle cx="122" cy="953.7" r="1.3"/><circle cx="125" cy="953.3" r="1.1"/><circle cx="123.6" cy="956" r="1.1"/><circle cx="126.8" cy="953.1" r="1.5"/><circle cx="130" cy="952.7" r="1.2"/><circle cx="134.5" cy="951.6" r="1.3"/><circle cx="130.8" cy="953.9" r="1.4"/><circle cx="133.8" cy="954" r="1.5"/><circle cx="133.9" cy="954.5" r="1.1"/><circle cx="134" cy="957.6" r="1.4"/><circle cx="135.5" cy="955.3" r="1.3"/><circle cx="138.4" cy="955.1" r="1.5"/><circle cx="142.2" cy="952.5" r="1.2"/><circle cx="141.9" cy="955.5" r="1.3"/><circle cx="144.9" cy="954.4" r="1.2"/><circle cx="144.2" cy="953.3" r="1.3"/><circle cx="147.6" cy="955" r="1.3"/><circle cx="149.2" cy="954.8" r="1.2"/><circle cx="149.2" cy="954.5" r="1.9"/><circle cx="104.3" cy="960.5" r="0.9"/><circle cx="107.1" cy="960.8" r="1.3"/><circle cx="112.1" cy="959.4" r="1.6"/><circle cx="112.3" cy="959.7" r="1.4"/><circle cx="115.6" cy="958.9" r="0.9"/><circle cx="117.5" cy="957.9" r="1.3"/><circle cx="119.6" cy="958.8" r="1.1"/><circle cx="121.8" cy="961.8" r="1.5"/><circle cx="122.4" cy="957.5" r="1.1"/><circle cx="120.3" cy="955.1" r="1.6"/><circle cx="127.7" cy="958.1" r="1.2"/><circle cx="126.2" cy="957.5" r="0.9"/><circle cx="129.2" cy="957.5" r="1.1"/><circle cx="126.6" cy="956.3" r="1"/><circle cx="132" cy="957.6" r="1.3"/><circle cx="134.9" cy="958.8" r="1.6"/><circle cx="131.9" cy="959" r="1.4"/><circle cx="137.8" cy="957.6" r="1.3"/><circle cx="138.1" cy="955.4" r="1.2"/><circle cx="140.4" cy="958.8" r="1.4"/><circle cx="142.1" cy="958.7" r="1"/><circle cx="145.7" cy="958.6" r="1.3"/><circle cx="101.6" cy="956" r="0.9"/><circle cx="147.4" cy="952.4" r="1"/><circle cx="148.4" cy="950.1" r="1.3"/><circle cx="112.1" cy="955.9" r="1.3"/><circle cx="112.9" cy="958.3" r="1.1"/><circle cx="119.8" cy="959.6" r="1"/><circle cx="108.9" cy="957.2" r="1.2"/><circle cx="109.7" cy="959.7" r="1.1"/><circle cx="144.7" cy="959.8" r="1.3"/><circle cx="112.3" cy="955.8" r="1.2"/><circle cx="110.4" cy="960.7" r="1.3"/><circle cx="111" cy="958.1" r="1.4"/><circle cx="110.6" cy="955.6" r="1.4"/><circle cx="101.7" cy="958" r="1"/><circle cx="101" cy="960.5" r="1"/><circle cx="112.5" cy="957.7" r="1"/><circle cx="144" cy="955" r="1.1"/><circle cx="134.6" cy="954.5" r="1.1"/><circle cx="136.5" cy="956.3" r="1.3"/><circle cx="137.8" cy="958.5" r="1.4"/><circle cx="102.4" cy="953.7" r="0.9"/><circle cx="102.3" cy="951.1" r="1.3"/><circle cx="131.5" cy="956.2" r="0.8"/><circle cx="116.7" cy="955.3" r="0.9"/><circle cx="117.6" cy="957.8" r="0.9"/><circle cx="117.5" cy="960.4" r="1.4"/><circle cx="111.6" cy="956.8" r="0.9"/><circle cx="111.3" cy="959.4" r="1.3"/><circle cx="134.1" cy="957.2" r="1.4"/><circle cx="134.7" cy="959.7" r="1"/><circle cx="135.6" cy="962.1" r="1.2"/><circle cx="143.1" cy="957.9" r="0.9"/><circle cx="122.1" cy="951.4" r="0.9"/><circle cx="121.9" cy="948.8" r="1.3"/><circle cx="129.4" cy="952.3" r="1.1"/><circle cx="129.2" cy="949.7" r="0.9"/><circle cx="126.2" cy="955.9" r="1"/><circle cx="124" cy="957.4" r="1.4"/><circle cx="145.8" cy="959.6" r="1.3"/><circle cx="140.2" cy="948.1" r="1.1"/><circle cx="147.8" cy="956.1" r="1"/><circle cx="130.1" cy="958.5" r="1.2"/><circle cx="130.1" cy="961.1" r="1.3"/><circle cx="150.3" cy="950.3" r="0.9"/><circle cx="100.1" cy="956.9" r="0.8"/><circle cx="99.7" cy="959.5" r="0.9"/><circle cx="141.2" cy="961.1" r="0.8"/><circle cx="151.6" cy="956.1" r="1"/><circle cx="153.8" cy="957.5" r="1.2"/><circle cx="107" cy="958" r="1.3"/><circle cx="107.3" cy="960.6" r="0.9"/><circle cx="106" cy="957.7" r="0.8"/><circle cx="132" cy="955.6" r="1.4"/><circle cx="108.7" cy="958.1" r="1.1"/><circle cx="111.3" cy="955.7" r="0.9"/><circle cx="112.8" cy="957.8" r="0.9"/><circle cx="133.3" cy="956.7" r="0.9"/><circle cx="132.6" cy="959.2" r="1.2"/><circle cx="143" cy="959.2" r="1.2"/><circle cx="115" cy="955.5" r="1.1"/><circle cx="114.1" cy="958" r="1.4"/><circle cx="120.7" cy="952.3" r="1.3"/><circle cx="127.6" cy="953.9" r="1.3"/><circle cx="127.3" cy="956.5" r="1.3"/><circle cx="98.2" cy="958.6" r="1"/><circle cx="103.4" cy="957.5" r="0.9"/><circle cx="145.1" cy="954.7" r="1"/><circle cx="146.3" cy="957" r="1.2"/><circle cx="141.7" cy="955.7" r="0.9"/><circle cx="103.5" cy="951.8" r="1.1"/><circle cx="115.9" cy="958.8" r="1"/><circle cx="115.7" cy="961.4" r="1.3"/><circle cx="133.6" cy="958.3" r="1.3"/><circle cx="134.7" cy="960.6" r="0.9"/><circle cx="134.9" cy="954.8" r="1.2"/><circle cx="134.3" cy="957.3" r="1.1"/><circle cx="117.9" cy="953.6" r="0.8"/><circle cx="119" cy="951.3" r="1.3"/><circle cx="127" cy="956.4" r="1.1"/><circle cx="130.9" cy="962.4" r="0.8"/><circle cx="137.9" cy="962.8" r="1.1"/><circle cx="128.9" cy="960.5" r="1.2"/><circle cx="126.7" cy="959.8" r="1.2"/><circle cx="140.8" cy="962.1" r="1.3"/><circle cx="133.8" cy="961.1" r="0.9"/><circle cx="133.7" cy="963.7" r="1.2"/><circle cx="135" cy="964.3" r="1.3"/><circle cx="136.9" cy="964.1" r="0.8"/><circle cx="138.4" cy="961.4" r="1"/><circle cx="139.7" cy="963.6" r="1.4"/><circle cx="132.3" cy="962.2" r="1.1"/><circle cx="132.7" cy="964.7" r="0.8"/><circle cx="138.6" cy="963.2" r="0.8"/><circle cx="130.7" cy="961.3" r="1.1"/><circle cx="130.1" cy="963.8" r="0.9"/><circle cx="128.6" cy="959.6" r="1.1"/><circle cx="136.3" cy="963" r="1.3"/><circle cx="136.1" cy="965.5" r="1.3"/></g>
<g fill="#ffe9ff"><circle cx="105.7" cy="921" r="0.8"/><circle cx="117.4" cy="909.4" r="0.5"/><circle cx="119.2" cy="908.9" r="0.6"/><circle cx="126.4" cy="908.8" r="0.7"/><circle cx="155.3" cy="903.3" r="0.5"/><circle cx="156.4" cy="902.6" r="0.6"/><circle cx="162.1" cy="901.1" r="0.8"/><circle cx="101.5" cy="928" r="0.6"/><circle cx="114.2" cy="923.5" r="0.6"/><circle cx="115" cy="922.7" r="0.6"/><circle cx="127.5" cy="915.1" r="0.8"/><circle cx="160.4" cy="908.1" r="0.7"/><circle cx="136.4" cy="916.7" r="0.5"/><circle cx="126.6" cy="919.3" r="0.6"/><circle cx="160.9" cy="902.2" r="0.5"/><circle cx="119.3" cy="918" r="0.5"/><circle cx="158.2" cy="908.3" r="0.6"/><circle cx="108.1" cy="923.4" r="0.5"/><circle cx="108" cy="924.7" r="0.5"/><circle cx="118.5" cy="920" r="0.6"/><circle cx="140.9" cy="913.1" r="0.5"/><circle cx="130.3" cy="915.5" r="0.6"/><circle cx="108.2" cy="925.1" r="0.6"/><circle cx="108.1" cy="927.7" r="0.4"/><circle cx="113.3" cy="917.5" r="0.5"/><circle cx="124" cy="920.4" r="0.7"/><circle cx="137.9" cy="914.6" r="0.7"/><circle cx="129.4" cy="919.6" r="0.7"/><circle cx="119.8" cy="917.5" r="0.5"/><circle cx="121.6" cy="921" r="0.6"/><circle cx="140.7" cy="917.3" r="0.6"/><circle cx="150.2" cy="908.4" r="0.5"/><circle cx="115" cy="926.9" r="0.5"/><circle cx="130" cy="952.7" r="0.6"/><circle cx="121.8" cy="961.8" r="0.8"/><circle cx="129.2" cy="957.5" r="0.5"/><circle cx="102.4" cy="953.7" r="0.5"/><circle cx="102.3" cy="951.1" r="0.7"/><circle cx="121.9" cy="948.8" r="0.7"/><circle cx="107" cy="958" r="0.7"/><circle cx="106" cy="957.7" r="0.4"/><circle cx="120.7" cy="952.3" r="0.7"/><circle cx="134.7" cy="960.6" r="0.5"/></g>
<circle cx="119.2" cy="769.3" r="7" fill="#c020c8" opacity="0.85" filter="url(#blur1)"/>
<circle cx="119.2" cy="769.3" r="5.6" fill="#fff" stroke="#ff86ff" stroke-width="1.3"/>
<ellipse cx="118.4" cy="769.0" rx="2.6" ry="3.1" fill="#a8f0c4" filter="url(#blur1)"/>
<polygon points="108.1,863 93.1,858 97.6,863 93.1,868" fill="#fff"/>
<polygon points="130.4,943.6 145.1,937.7 138.5,936.8 138.7,930.1" fill="#fff"/>
<polygon points="116.6,866.4 131.9,861.9 131.9,870.9" fill="#1b98e0"/>
<circle cx="111.8" cy="863.8" r="1" fill="#fff"/>
<text x="55.4" y="771.4" font-size="20" font-family="Liberation Sans, sans-serif" fill="#fff">4dpf</text>
<text x="196.0" y="981.0" font-size="16.8" text-anchor="end" font-family="Liberation Sans, sans-serif" fill="#dc3ede">mKate2f</text>
<text x="196.8" y="999.6" font-size="16.8" text-anchor="end" font-family="Liberation Sans, sans-serif" fill="#38dc42">FingR(PSD95)</text>
<rect x="51.2" y="992.3" width="34.6" height="4.3" fill="#fff"/>
</g>
<clipPath id="clip1"><rect x="205.9" y="749.9" width="153.9" height="258.3"/></clipPath>
<g clip-path="url(#clip1)">
<rect x="205.9" y="749.9" width="153.9" height="258.3" fill="#040105"/>
<circle cx="337.6" cy="870" r="0.7" fill="#3a9a6a" opacity="0.49"/><circle cx="286.2" cy="895" r="0.8" fill="#3a9a6a" opacity="0.67"/><circle cx="318.8" cy="791" r="1.0" fill="#3a9a6a" opacity="0.21"/><circle cx="216.7" cy="956.8" r="0.6" fill="#3a9a6a" opacity="0.21"/><circle cx="234.9" cy="883" r="0.9" fill="#3a9a6a" opacity="0.21"/><circle cx="233.4" cy="772.8" r="0.5" fill="#3a9a6a" opacity="0.36"/><circle cx="281.5" cy="991" r="0.8" fill="#3a9a6a" opacity="0.63"/><circle cx="296.3" cy="977.7" r="0.8" fill="#3a9a6a" opacity="0.32"/><circle cx="264" cy="879.4" r="0.5" fill="#3a9a6a" opacity="0.66"/><circle cx="280.3" cy="815.6" r="0.7" fill="#3a9a6a" opacity="0.60"/><circle cx="249.3" cy="904" r="0.5" fill="#3a9a6a" opacity="0.32"/><circle cx="236.6" cy="885.3" r="0.8" fill="#3a9a6a" opacity="0.31"/><circle cx="310.8" cy="903.7" r="0.9" fill="#3a9a6a" opacity="0.70"/><circle cx="258.2" cy="997.4" r="0.7" fill="#3a9a6a" opacity="0.45"/><circle cx="235.2" cy="789.3" r="0.8" fill="#3a9a6a" opacity="0.25"/><circle cx="214" cy="789.1" r="0.7" fill="#3a9a6a" opacity="0.30"/><circle cx="247.8" cy="945" r="0.7" fill="#3a9a6a" opacity="0.27"/><circle cx="309.4" cy="997" r="0.8" fill="#3a9a6a" opacity="0.42"/><circle cx="288.5" cy="930.3" r="0.9" fill="#3a9a6a" opacity="0.59"/><circle cx="245.6" cy="948" r="0.5" fill="#3a9a6a" opacity="0.26"/><circle cx="284" cy="812" r="0.8" fill="#3a9a6a" opacity="0.34"/><circle cx="348.4" cy="868.8" r="0.9" fill="#3a9a6a" opacity="0.67"/><circle cx="275.8" cy="945.4" r="0.7" fill="#3a9a6a" opacity="0.40"/><circle cx="227.3" cy="920.3" r="1.0" fill="#3a9a6a" opacity="0.54"/><circle cx="255.8" cy="889.8" r="0.6" fill="#3a9a6a" opacity="0.40"/><circle cx="323.2" cy="771.4" r="0.7" fill="#3a9a6a" opacity="0.46"/><circle cx="230.7" cy="937.1" r="0.6" fill="#3a9a6a" opacity="0.40"/><circle cx="245.6" cy="906.3" r="0.7" fill="#3a9a6a" opacity="0.54"/><circle cx="271.8" cy="948.8" r="0.8" fill="#3a9a6a" opacity="0.25"/><circle cx="281.7" cy="827.7" r="0.6" fill="#3a9a6a" opacity="0.67"/><circle cx="279.9" cy="938.6" r="0.5" fill="#3a9a6a" opacity="0.51"/><circle cx="226.4" cy="820.5" r="0.5" fill="#3a9a6a" opacity="0.21"/><circle cx="343.1" cy="990.1" r="0.7" fill="#3a9a6a" opacity="0.21"/><circle cx="317.5" cy="921.2" r="0.5" fill="#3a9a6a" opacity="0.58"/><circle cx="218.9" cy="823.1" r="0.9" fill="#3a9a6a" opacity="0.58"/><circle cx="243.5" cy="885.9" r="0.9" fill="#3a9a6a" opacity="0.50"/><circle cx="286.6" cy="812.1" r="0.5" fill="#3a9a6a" opacity="0.29"/><circle cx="286.5" cy="906" r="0.7" fill="#3a9a6a" opacity="0.52"/><circle cx="292.3" cy="917.3" r="0.7" fill="#3a9a6a" opacity="0.62"/><circle cx="287.5" cy="970.9" r="1.0" fill="#3a9a6a" opacity="0.61"/><circle cx="323.1" cy="927.4" r="0.8" fill="#3a9a6a" opacity="0.32"/><circle cx="224" cy="920.8" r="0.6" fill="#3a9a6a" opacity="0.51"/><circle cx="290.1" cy="908.5" r="0.7" fill="#3a9a6a" opacity="0.32"/><circle cx="253.8" cy="929" r="0.9" fill="#3a9a6a" opacity="0.36"/><circle cx="255.3" cy="872.1" r="0.7" fill="#3a9a6a" opacity="0.52"/>
<polygon points="359.7,892.8 359.7,1009 239.6,1009 300.3,982.6 347.8,935.1" fill="#000" filter="url(#blur2)"/>
<g filter="url(#blur2)" opacity="0.8" fill="none" stroke="#a81cb0" stroke-linecap="round" stroke-linejoin="round"><path d="M268.1 766.6C267.7 767.3 266.6 769.1 265.8 770.4C265 771.6 264 772.7 263.4 774C262.7 775.3 262.2 776.8 261.9 778.1C261.5 779.5 261.4 780.6 261.2 782C261.1 783.3 260.9 785.1 260.9 786.4C260.9 787.7 261.2 788.6 261.3 789.9C261.4 791.2 261.4 792.8 261.5 794.2C261.6 795.6 261.8 796.9 261.8 798.3C261.8 799.6 261.7 801 261.6 802.5C261.5 803.9 261.5 805.6 261.4 807.1C261.4 808.5 261.5 809.6 261.5 811C261.5 812.3 261.6 813.5 261.7 815.1C261.7 816.8 261.8 819.1 261.9 820.9C262 822.6 262.4 824.2 262.4 825.7C262.4 827.2 262.1 828.5 262.1 830C262.1 831.5 262.2 833.2 262.3 834.8C262.4 836.3 262.7 837.7 262.8 839C263 840.4 262.9 841.7 263.2 843C263.4 844.4 264.2 845.8 264.3 847.2C264.4 848.7 263.7 850.3 263.8 851.7C263.9 853.2 264.4 854.5 264.7 855.9C265 857.3 265.2 858.6 265.4 860C265.7 861.4 265.9 862.7 266.2 864.1C266.6 865.5 266.9 866.8 267.3 868.2C267.7 869.7 268.2 871.3 268.5 872.8C268.7 874.2 268.7 875.4 269 876.8C269.3 878.2 269.8 879.7 270.1 881.1C270.4 882.6 270.6 884.1 270.9 885.5C271.2 886.9 271.7 888.2 272 889.6C272.3 891.1 272.3 892.7 272.6 894.3C272.9 895.8 273.5 897.2 273.7 898.7C273.8 900.3 273.6 902.1 273.6 903.5C273.7 904.9 273.9 905.7 274 907.2C274.1 908.6 274 910.7 274.1 912.2C274.3 913.7 274.7 914.7 274.8 916.2C274.9 917.7 274.6 919.4 274.8 921C275 922.6 275.5 924.4 275.9 926.1C276.3 927.7 276.7 929.5 277.1 931C277.5 932.5 278.1 934.4 278.3 935.1M264.9 858.5C264.7 859.2 264.3 861 263.8 862.4C263.3 863.9 262 865.5 261.9 867C261.8 868.6 262.9 870 263.2 871.5C263.4 873.1 263.3 874.9 263.6 876.3C263.9 877.8 264.3 879 264.9 880.4C265.5 881.7 266.7 882.9 267.2 884.4C267.7 885.9 267.9 887.9 267.8 889.3C267.7 890.7 266.9 891.6 266.4 892.9C265.9 894.2 265.2 895.5 264.7 896.9C264.3 898.4 264.1 900.1 263.6 901.4C263.2 902.6 262.1 903.4 261.9 904.6C261.7 905.8 262.3 907.2 262.3 908.6C262.3 910.1 262 912 262 913.3C262 914.7 262.2 915.4 262.4 916.7C262.6 917.9 262.5 919.6 263.1 921C263.7 922.4 265.1 923.9 266.3 925.3C267.4 926.6 268.6 927.8 269.9 929C271.1 930.3 273 932.1 273.7 932.7" stroke-width="3.4"/><path d="M270.1 881.1L271.9 881.3L274.1 880.1L277.3 879.3L279.1 877.9L280.7 877.6L282.8 875.9L284.5 874.4L286.1 873.4L287.7 871.7L289.5 870.4L291.8 870.6L294.8 868.2M292.4 870.6L295.9 871.7M278.3 879.9L280.7 881.5L282.2 881.8L283.8 884.3L286.1 885.5L287.7 887L289.2 888.9L291.8 889.6L294 890.6L294.8 892.8L297.5 893.5L300.3 894.7L303 895.2M266.6 889.3L262.8 888.9L260.2 889.4L258.2 889.6L256.1 890.5L253.7 890.1L251.7 889.5L249 888.7M261.9 895.2L259.7 897.1L257.2 898.2L257 899.7L254.1 900L253.5 902.4L250.2 903.4L248.2 902.4L245.1 901.6L244.3 901.7L242 899.9M259.6 904.6L258.5 905.1L255.3 906.7L253.2 906L250.4 908L249 907.4L246.4 908.7L244.3 909.3L242.6 909.5L240.2 910.1L237.6 911.5L236.8 912.3L234.9 913.4L232.6 913.9L228.7 913.4L227.4 916.6L225.6 916.3M261.9 914L259.5 915.2L257 916.3L255.3 918L252.5 918.7M285.4 930.4L288.1 928.3L290.2 929L291.7 927.1L294.2 926.1L297.1 925.7L299.5 925L302 923.4L303.9 922L307.6 919.9L308.8 919.8L312.1 920.5L313.5 918.7M305.3 921L306 918.2L305.9 916.2L308.8 914M294.8 926.3L294.7 923.8L297.1 921M276 936.2L273.2 938.6L271.7 937L269.7 940.2L266.5 939.4L264.3 942.1L262.6 943.3L261.3 945.6L259.3 947.8L257.5 949L256.1 950.3L254.5 951.7L251.5 951.8L247.3 952.8L246.7 953.8L244.2 955.7L242.8 956.3L241.5 957L238.8 958.5L235.5 960.4L235.2 961.8L232 961.8L231.3 964.6L229.1 965.6M247.8 953.8L246.8 953.5L245.2 949.4L243.4 948.5L242 946.8M264.3 933.9L261.9 933.9L260.7 933.7L257 933.9L254.9 933.9L252.5 930.4M276 937.4L275 939.1L273.1 940.1L270.8 942.7L269.3 945.7L268.5 945.1L267.3 948.7L264.9 949.8L264.7 952.2L261.9 953.8L260.4 954.4L258.2 957.4L257 958.1L255.1 958.9L252.1 961.7L251 962L250.2 964.4M277.2 937.4L275 940.7L276.1 941.6L274 943.7L273.9 946.6L272.6 949.4L271.1 950.1L270.6 953L269.7 955.5L267.8 958.4L267.8 959.7L265.8 962.1L266.1 964.5L265 965.7L263.8 967.5L262.8 970.3L261.9 972.6M278.3 937.4L278.6 939.4L277.2 943L276.4 944.4L276.3 946.6L275 949.1L274.1 952L273.7 953.8L273.5 957L273.3 957.7L273 960.7L272.3 963.8L272.4 964.6L273.1 967.8L270.6 970.1L271.3 972.6M279.5 937.4L279 940.5L278.4 942.1L279.2 944.4L280 946L280.8 949.8L280.7 951.5L280.2 954.5L281.3 956.4L281.3 959.8L281.9 962.1M280.7 937.4L282.3 939.2L282 942.2L283.3 943.3L285.1 945.3L286.4 947.8L287.7 948.9L287.7 951.5L289.4 952.8L289.9 955.5L292.1 958.1L293.5 958.9L295.5 961.4L295 963.3L297.1 965.6L298 965.3L301.4 963.5L304 962.4L305.3 962.1M283 936.2L284.8 936.7L287.5 938.1L289.7 938.1L291.6 938.5L293.9 938.7L297.1 939.8L299.1 939.4L302.1 938.7L303.9 938.9L306.1 938.1L308.8 937.4M283 937.4L284.6 939.3L286.4 941L287.4 942.3L289.9 941.8L291.4 945.5L293 946.5L294.8 948L295 950.2L294.9 952.2L295.9 955" stroke-width="4.2"/><path d="M282.2 881.8L283.7 881.3L285.3 881.5M286.1 885.5L286 887.1L285.9 888.7M289.2 888.9L290.8 888.5L291.8 887.3M291.8 889.6L290.4 890.5L289.5 891.8M294 890.6L292.4 890.4L290.8 890.3M294.8 892.8L293.2 893.1L291.8 893.9M258.2 889.6L257.5 888.2L256.8 886.8M251.7 889.5L251 888.1L250.4 886.6M249 888.7L247.5 889.1L245.9 889.6M250.2 903.4L248.7 902.9L247.4 902M248.2 902.4L247.3 901.1L246.4 899.8M242 899.9L241.4 901.4L241.1 902.9M242.6 909.5L242.8 907.9L243.5 906.4L243.9 904.9M257 916.3L258 915L259.3 914M255.3 918L253.8 918.4L252.2 918.4M252.5 918.7L252.8 920.2L253 921.8M290.2 929L290.7 930.5L291.1 932.1M312.1 920.5L313 921.8L313.6 923.3M271.7 937L273.2 937.6L274.6 938.3M262.6 943.3L261.2 944.1L259.9 945.1M259.3 947.8L258 946.9L256.7 945.9M256.1 950.3L256.4 951.9L257.1 953.3M246.7 953.8L247.9 954.8L249.2 955.7M244.2 955.7L245.8 955.9L247.4 956.2M242.8 956.3L243.5 954.9L244.3 953.5M268.5 945.1L266.9 945.3L265.3 944.9M258.2 957.4L256.7 957.3L255.2 956.5M257 958.1L256.7 959.7L256.7 961.3M272.6 949.4L273.1 950.9L273.7 952.4M271.1 950.1L269.5 950.1L267.9 950.1M270.6 953L270.9 954.6L271.3 956.1M277.2 943L278.7 943.4L280.3 943.6M276.4 944.4L277.4 945.6L278.6 946.7M273.7 953.8L274.8 952.7L274.9 951.1M273.3 957.7L274.1 959.1L275 960.4M271.3 972.6L271.8 974.1L271.7 975.7M280 946L281 947.2L282.1 948.4M289.4 952.8L290.9 952.3L292.5 952.4M295 963.3L296.5 964L298 964.4M297.1 965.6L297.4 967.2L297.3 968.8M305.3 962.1L305.5 963.6L305.7 965.2M287.4 942.3L288.4 943.6L289.4 944.8M294.8 948L294.4 946.4L294.1 944.9M273.8 931.8L274.5 930.4L275.8 929.4M274.6 933.2L273.8 931.8L272.7 930.7M278.9 935.1L277.5 934.3L275.9 934.1L274.6 933.2L273.1 932.6L271.5 932.3L269.9 932.2M278.9 935.1L280.4 934.4L282 934.2L283.5 933.9L285.1 934.2L286.6 933.7L288.2 933.3L289.3 932.1M279.8 936.4L280.4 937.9L280.4 939.5L280.5 941.1M278.9 935.1L279.8 936.4L281.1 937.3L282.4 938.3L283.1 939.7L282.7 941.3L282.6 942.9L282.4 944.5M278.8 937.9L280.4 937.4L282 937.2M278.1 936.4L278.8 937.9L279.2 939.4M277.5 937.9L275.9 938L274.4 938.4L272.9 938.9L271.3 939.3M278.1 940.9L279.2 939.7L280.2 938.5M277.3 939.5L278.1 940.9L279.1 942.1L279.9 943.5M275.3 943.9L273.8 944.3M278.9 935.1L278.1 936.4L277.5 937.9L277.3 939.5L276.7 941L275.8 942.4L275.3 943.9L274.5 945.3M282.1 927.3L283.3 928.4L284.9 928.7M278.5 930.3L279.5 929.1L280.8 928.2L282.1 927.3M279.8 925.9L281.4 925.8L283 925.5M278.4 928.7L278.8 927.2L279.8 925.9L280.8 924.7M279.9 926.7L279.7 925.1M278.4 927.1L279.9 926.7L281.4 926L282.9 925.6M278.9 935.1L278.9 933.5L278.9 931.9L278.5 930.3L278.4 928.7L278.4 927.1M282 936L282.6 934.5L283.3 933.1L283.6 931.5M288.3 937.1L289.3 938.3M278.9 935.1L280.4 935.7L282 936L283.6 936.2L285.1 936.6L286.7 936.9L288.3 937.1L289.8 937.6M274 937.9L272.4 937.8L270.8 937.3M273.2 939.3L271.7 939.9L270.2 940.4M275.7 935.3L275.1 936.7L274 937.9L273.2 939.3M272.6 935.3L271.8 933.9L270.7 932.8L269.4 931.9M270.3 933.7L270.8 932.2L270.5 930.6M269.7 930.6L268.1 930.8M271 935.2L270.3 933.7L270.2 932.1L269.7 930.6M269.4 934.9L267.8 935.3M278.9 935.1L277.3 935.3L275.7 935.3L274.2 935.5L272.6 935.3L271 935.2L269.4 934.9L267.8 934.7M277.9 938.1L276.5 938.8L274.9 939.1M275.5 941.1L274.3 942.2L273.3 943.4M272.3 941.3L271.8 939.8L271.4 938.3M277.1 941.2L275.5 941.1L273.9 941.5L272.3 941.3M277.5 944L277.6 945.6M278.1 945.5L279.7 945.4L281.3 945.4M276.6 942.7L277.5 944L278.1 945.5M278.9 935.1L278.3 936.5L277.9 938.1L277.6 939.7L277.1 941.2L276.6 942.7L276.3 944.3" stroke-width="3.7"/></g>
<g fill="none" stroke="#e030e0" opacity="1.0" stroke-linecap="round" stroke-linejoin="round"><path d="M268.1 766.6C267.7 767.3 266.6 769.1 265.8 770.4C265 771.6 264 772.7 263.4 774C262.7 775.3 262.2 776.8 261.9 778.1C261.5 779.5 261.4 780.6 261.2 782C261.1 783.3 260.9 785.1 260.9 786.4C260.9 787.7 261.2 788.6 261.3 789.9C261.4 791.2 261.4 792.8 261.5 794.2C261.6 795.6 261.8 796.9 261.8 798.3C261.8 799.6 261.7 801 261.6 802.5C261.5 803.9 261.5 805.6 261.4 807.1C261.4 808.5 261.5 809.6 261.5 811C261.5 812.3 261.6 813.5 261.7 815.1C261.7 816.8 261.8 819.1 261.9 820.9C262 822.6 262.4 824.2 262.4 825.7C262.4 827.2 262.1 828.5 262.1 830C262.1 831.5 262.2 833.2 262.3 834.8C262.4 836.3 262.7 837.7 262.8 839C263 840.4 262.9 841.7 263.2 843C263.4 844.4 264.2 845.8 264.3 847.2C264.4 848.7 263.7 850.3 263.8 851.7C263.9 853.2 264.4 854.5 264.7 855.9C265 857.3 265.2 858.6 265.4 860C265.7 861.4 265.9 862.7 266.2 864.1C266.6 865.5 266.9 866.8 267.3 868.2C267.7 869.7 268.2 871.3 268.5 872.8C268.7 874.2 268.7 875.4 269 876.8C269.3 878.2 269.8 879.7 270.1 881.1C270.4 882.6 270.6 884.1 270.9 885.5C271.2 886.9 271.7 888.2 272 889.6C272.3 891.1 272.3 892.7 272.6 894.3C272.9 895.8 273.5 897.2 273.7 898.7C273.8 900.3 273.6 902.1 273.6 903.5C273.7 904.9 273.9 905.7 274 907.2C274.1 908.6 274 910.7 274.1 912.2C274.3 913.7 274.7 914.7 274.8 916.2C274.9 917.7 274.6 919.4 274.8 921C275 922.6 275.5 924.4 275.9 926.1C276.3 927.7 276.7 929.5 277.1 931C277.5 932.5 278.1 934.4 278.3 935.1M264.9 858.5C264.7 859.2 264.3 861 263.8 862.4C263.3 863.9 262 865.5 261.9 867C261.8 868.6 262.9 870 263.2 871.5C263.4 873.1 263.3 874.9 263.6 876.3C263.9 877.8 264.3 879 264.9 880.4C265.5 881.7 266.7 882.9 267.2 884.4C267.7 885.9 267.9 887.9 267.8 889.3C267.7 890.7 266.9 891.6 266.4 892.9C265.9 894.2 265.2 895.5 264.7 896.9C264.3 898.4 264.1 900.1 263.6 901.4C263.2 902.6 262.1 903.4 261.9 904.6C261.7 905.8 262.3 907.2 262.3 908.6C262.3 910.1 262 912 262 913.3C262 914.7 262.2 915.4 262.4 916.7C262.6 917.9 262.5 919.6 263.1 921C263.7 922.4 265.1 923.9 266.3 925.3C267.4 926.6 268.6 927.8 269.9 929C271.1 930.3 273 932.1 273.7 932.7" stroke-width="1.4"/><path d="M270.1 881.1L271.9 881.3L274.1 880.1L277.3 879.3L279.1 877.9L280.7 877.6L282.8 875.9L284.5 874.4L286.1 873.4L287.7 871.7L289.5 870.4L291.8 870.6L294.8 868.2M292.4 870.6L295.9 871.7M278.3 879.9L280.7 881.5L282.2 881.8L283.8 884.3L286.1 885.5L287.7 887L289.2 888.9L291.8 889.6L294 890.6L294.8 892.8L297.5 893.5L300.3 894.7L303 895.2M266.6 889.3L262.8 888.9L260.2 889.4L258.2 889.6L256.1 890.5L253.7 890.1L251.7 889.5L249 888.7M261.9 895.2L259.7 897.1L257.2 898.2L257 899.7L254.1 900L253.5 902.4L250.2 903.4L248.2 902.4L245.1 901.6L244.3 901.7L242 899.9M259.6 904.6L258.5 905.1L255.3 906.7L253.2 906L250.4 908L249 907.4L246.4 908.7L244.3 909.3L242.6 909.5L240.2 910.1L237.6 911.5L236.8 912.3L234.9 913.4L232.6 913.9L228.7 913.4L227.4 916.6L225.6 916.3M261.9 914L259.5 915.2L257 916.3L255.3 918L252.5 918.7M285.4 930.4L288.1 928.3L290.2 929L291.7 927.1L294.2 926.1L297.1 925.7L299.5 925L302 923.4L303.9 922L307.6 919.9L308.8 919.8L312.1 920.5L313.5 918.7M305.3 921L306 918.2L305.9 916.2L308.8 914M294.8 926.3L294.7 923.8L297.1 921M276 936.2L273.2 938.6L271.7 937L269.7 940.2L266.5 939.4L264.3 942.1L262.6 943.3L261.3 945.6L259.3 947.8L257.5 949L256.1 950.3L254.5 951.7L251.5 951.8L247.3 952.8L246.7 953.8L244.2 955.7L242.8 956.3L241.5 957L238.8 958.5L235.5 960.4L235.2 961.8L232 961.8L231.3 964.6L229.1 965.6M247.8 953.8L246.8 953.5L245.2 949.4L243.4 948.5L242 946.8M264.3 933.9L261.9 933.9L260.7 933.7L257 933.9L254.9 933.9L252.5 930.4M276 937.4L275 939.1L273.1 940.1L270.8 942.7L269.3 945.7L268.5 945.1L267.3 948.7L264.9 949.8L264.7 952.2L261.9 953.8L260.4 954.4L258.2 957.4L257 958.1L255.1 958.9L252.1 961.7L251 962L250.2 964.4M277.2 937.4L275 940.7L276.1 941.6L274 943.7L273.9 946.6L272.6 949.4L271.1 950.1L270.6 953L269.7 955.5L267.8 958.4L267.8 959.7L265.8 962.1L266.1 964.5L265 965.7L263.8 967.5L262.8 970.3L261.9 972.6M278.3 937.4L278.6 939.4L277.2 943L276.4 944.4L276.3 946.6L275 949.1L274.1 952L273.7 953.8L273.5 957L273.3 957.7L273 960.7L272.3 963.8L272.4 964.6L273.1 967.8L270.6 970.1L271.3 972.6M279.5 937.4L279 940.5L278.4 942.1L279.2 944.4L280 946L280.8 949.8L280.7 951.5L280.2 954.5L281.3 956.4L281.3 959.8L281.9 962.1M280.7 937.4L282.3 939.2L282 942.2L283.3 943.3L285.1 945.3L286.4 947.8L287.7 948.9L287.7 951.5L289.4 952.8L289.9 955.5L292.1 958.1L293.5 958.9L295.5 961.4L295 963.3L297.1 965.6L298 965.3L301.4 963.5L304 962.4L305.3 962.1M283 936.2L284.8 936.7L287.5 938.1L289.7 938.1L291.6 938.5L293.9 938.7L297.1 939.8L299.1 939.4L302.1 938.7L303.9 938.9L306.1 938.1L308.8 937.4M283 937.4L284.6 939.3L286.4 941L287.4 942.3L289.9 941.8L291.4 945.5L293 946.5L294.8 948L295 950.2L294.9 952.2L295.9 955" stroke-width="1.8"/><path d="M282.2 881.8L283.7 881.3L285.3 881.5M286.1 885.5L286 887.1L285.9 888.7M289.2 888.9L290.8 888.5L291.8 887.3M291.8 889.6L290.4 890.5L289.5 891.8M294 890.6L292.4 890.4L290.8 890.3M294.8 892.8L293.2 893.1L291.8 893.9M258.2 889.6L257.5 888.2L256.8 886.8M251.7 889.5L251 888.1L250.4 886.6M249 888.7L247.5 889.1L245.9 889.6M250.2 903.4L248.7 902.9L247.4 902M248.2 902.4L247.3 901.1L246.4 899.8M242 899.9L241.4 901.4L241.1 902.9M242.6 909.5L242.8 907.9L243.5 906.4L243.9 904.9M257 916.3L258 915L259.3 914M255.3 918L253.8 918.4L252.2 918.4M252.5 918.7L252.8 920.2L253 921.8M290.2 929L290.7 930.5L291.1 932.1M312.1 920.5L313 921.8L313.6 923.3M271.7 937L273.2 937.6L274.6 938.3M262.6 943.3L261.2 944.1L259.9 945.1M259.3 947.8L258 946.9L256.7 945.9M256.1 950.3L256.4 951.9L257.1 953.3M246.7 953.8L247.9 954.8L249.2 955.7M244.2 955.7L245.8 955.9L247.4 956.2M242.8 956.3L243.5 954.9L244.3 953.5M268.5 945.1L266.9 945.3L265.3 944.9M258.2 957.4L256.7 957.3L255.2 956.5M257 958.1L256.7 959.7L256.7 961.3M272.6 949.4L273.1 950.9L273.7 952.4M271.1 950.1L269.5 950.1L267.9 950.1M270.6 953L270.9 954.6L271.3 956.1M277.2 943L278.7 943.4L280.3 943.6M276.4 944.4L277.4 945.6L278.6 946.7M273.7 953.8L274.8 952.7L274.9 951.1M273.3 957.7L274.1 959.1L275 960.4M271.3 972.6L271.8 974.1L271.7 975.7M280 946L281 947.2L282.1 948.4M289.4 952.8L290.9 952.3L292.5 952.4M295 963.3L296.5 964L298 964.4M297.1 965.6L297.4 967.2L297.3 968.8M305.3 962.1L305.5 963.6L305.7 965.2M287.4 942.3L288.4 943.6L289.4 944.8M294.8 948L294.4 946.4L294.1 944.9M273.8 931.8L274.5 930.4L275.8 929.4M274.6 933.2L273.8 931.8L272.7 930.7M278.9 935.1L277.5 934.3L275.9 934.1L274.6 933.2L273.1 932.6L271.5 932.3L269.9 932.2M278.9 935.1L280.4 934.4L282 934.2L283.5 933.9L285.1 934.2L286.6 933.7L288.2 933.3L289.3 932.1M279.8 936.4L280.4 937.9L280.4 939.5L280.5 941.1M278.9 935.1L279.8 936.4L281.1 937.3L282.4 938.3L283.1 939.7L282.7 941.3L282.6 942.9L282.4 944.5M278.8 937.9L280.4 937.4L282 937.2M278.1 936.4L278.8 937.9L279.2 939.4M277.5 937.9L275.9 938L274.4 938.4L272.9 938.9L271.3 939.3M278.1 940.9L279.2 939.7L280.2 938.5M277.3 939.5L278.1 940.9L279.1 942.1L279.9 943.5M275.3 943.9L273.8 944.3M278.9 935.1L278.1 936.4L277.5 937.9L277.3 939.5L276.7 941L275.8 942.4L275.3 943.9L274.5 945.3M282.1 927.3L283.3 928.4L284.9 928.7M278.5 930.3L279.5 929.1L280.8 928.2L282.1 927.3M279.8 925.9L281.4 925.8L283 925.5M278.4 928.7L278.8 927.2L279.8 925.9L280.8 924.7M279.9 926.7L279.7 925.1M278.4 927.1L279.9 926.7L281.4 926L282.9 925.6M278.9 935.1L278.9 933.5L278.9 931.9L278.5 930.3L278.4 928.7L278.4 927.1M282 936L282.6 934.5L283.3 933.1L283.6 931.5M288.3 937.1L289.3 938.3M278.9 935.1L280.4 935.7L282 936L283.6 936.2L285.1 936.6L286.7 936.9L288.3 937.1L289.8 937.6M274 937.9L272.4 937.8L270.8 937.3M273.2 939.3L271.7 939.9L270.2 940.4M275.7 935.3L275.1 936.7L274 937.9L273.2 939.3M272.6 935.3L271.8 933.9L270.7 932.8L269.4 931.9M270.3 933.7L270.8 932.2L270.5 930.6M269.7 930.6L268.1 930.8M271 935.2L270.3 933.7L270.2 932.1L269.7 930.6M269.4 934.9L267.8 935.3M278.9 935.1L277.3 935.3L275.7 935.3L274.2 935.5L272.6 935.3L271 935.2L269.4 934.9L267.8 934.7M277.9 938.1L276.5 938.8L274.9 939.1M275.5 941.1L274.3 942.2L273.3 943.4M272.3 941.3L271.8 939.8L271.4 938.3M277.1 941.2L275.5 941.1L273.9 941.5L272.3 941.3M277.5 944L277.6 945.6M278.1 945.5L279.7 945.4L281.3 945.4M276.6 942.7L277.5 944L278.1 945.5M278.9 935.1L278.3 936.5L277.9 938.1L277.6 939.7L277.1 941.2L276.6 942.7L276.3 944.3" stroke-width="1.3"/></g>
<g fill="#f870f8" opacity="1.0"><circle cx="279" cy="878.2" r="1.1"/><circle cx="280.8" cy="877.6" r="1.2"/><circle cx="284.4" cy="874.3" r="1.3"/><circle cx="287.5" cy="871.5" r="1.1"/><circle cx="290.2" cy="870.1" r="1"/><circle cx="294.8" cy="868.2" r="1.4"/><circle cx="295.3" cy="871.8" r="1"/><circle cx="295.9" cy="871.7" r="1.5"/><circle cx="281.9" cy="881.4" r="1"/><circle cx="285.3" cy="881.5" r="1.5"/><circle cx="286.1" cy="885.3" r="1.4"/><circle cx="285.9" cy="888.7" r="1.2"/><circle cx="288.9" cy="888.9" r="0.9"/><circle cx="291.8" cy="887.3" r="1.4"/><circle cx="289.5" cy="891.8" r="1.2"/><circle cx="290.8" cy="890.3" r="1.2"/><circle cx="291.8" cy="893.9" r="1.5"/><circle cx="300" cy="894.7" r="1.2"/><circle cx="302.9" cy="895.1" r="1.3"/><circle cx="303" cy="895.2" r="1.3"/><circle cx="262.4" cy="888.5" r="1.4"/><circle cx="259.8" cy="889.6" r="1.3"/><circle cx="258.2" cy="889.6" r="1"/><circle cx="256.8" cy="886.8" r="1.3"/><circle cx="256.8" cy="890.9" r="1.2"/><circle cx="251.5" cy="889.5" r="1.3"/><circle cx="250.4" cy="886.6" r="1.4"/><circle cx="248.6" cy="888.4" r="1"/><circle cx="245.9" cy="889.6" r="1.1"/><circle cx="249" cy="888.7" r="1.8"/><circle cx="256.6" cy="898.6" r="1.4"/><circle cx="253.8" cy="902" r="1.3"/><circle cx="249.8" cy="903.9" r="1.1"/><circle cx="247.4" cy="902" r="1.5"/><circle cx="246.4" cy="899.8" r="1.3"/><circle cx="244.5" cy="902.2" r="1.4"/><circle cx="241.1" cy="902.9" r="1.1"/><circle cx="242" cy="899.9" r="1.3"/><circle cx="258.4" cy="905" r="1"/><circle cx="255.7" cy="907.1" r="1.2"/><circle cx="250.6" cy="907.9" r="1"/><circle cx="249.1" cy="908.3" r="1.2"/><circle cx="244.4" cy="908.8" r="0.9"/><circle cx="242.7" cy="909.4" r="1"/><circle cx="243.9" cy="904.9" r="1.1"/><circle cx="235.2" cy="913.6" r="1.1"/><circle cx="232.6" cy="913.7" r="1"/><circle cx="228.3" cy="913.2" r="1.2"/><circle cx="227.3" cy="916.3" r="1.3"/><circle cx="225.3" cy="916.4" r="1.6"/><circle cx="225.6" cy="916.3" r="1.4"/><circle cx="259.6" cy="915.5" r="1.1"/><circle cx="259.3" cy="914" r="1.4"/><circle cx="255.5" cy="917.9" r="1.2"/><circle cx="252.2" cy="918.4" r="1.4"/><circle cx="253" cy="921.8" r="1.5"/><circle cx="252.5" cy="918.7" r="1.8"/><circle cx="290" cy="929.2" r="1.1"/><circle cx="291.1" cy="932.1" r="1.2"/><circle cx="294.3" cy="925.8" r="1.4"/><circle cx="297.1" cy="925.4" r="1"/><circle cx="299.5" cy="924.7" r="1.2"/><circle cx="302.4" cy="923.2" r="1.4"/><circle cx="307.4" cy="919.6" r="1.3"/><circle cx="309" cy="920.2" r="1.1"/><circle cx="313.6" cy="923.3" r="1.3"/><circle cx="313.2" cy="917.9" r="1"/><circle cx="313.5" cy="918.7" r="1.7"/><circle cx="306" cy="915.8" r="1.5"/><circle cx="308.9" cy="914.2" r="1.5"/><circle cx="308.8" cy="914" r="1.4"/><circle cx="294.1" cy="923.4" r="1.5"/><circle cx="297.4" cy="920.9" r="1.3"/><circle cx="297.1" cy="921" r="1.5"/><circle cx="273.3" cy="938.3" r="1.4"/><circle cx="271.9" cy="937.4" r="1.4"/><circle cx="274.6" cy="938.3" r="1.1"/><circle cx="269.2" cy="939.6" r="1.3"/><circle cx="266.3" cy="939.2" r="1.5"/><circle cx="259.9" cy="945.1" r="1.5"/><circle cx="261.9" cy="945.6" r="1"/><circle cx="259.8" cy="948" r="1.4"/><circle cx="256.7" cy="945.9" r="1.2"/><circle cx="257.1" cy="948.9" r="1.5"/><circle cx="256.2" cy="950.8" r="1.2"/><circle cx="257.1" cy="953.3" r="1.6"/><circle cx="254.3" cy="951.6" r="1.2"/><circle cx="251.3" cy="951.9" r="1.1"/><circle cx="247.3" cy="952.8" r="1.1"/><circle cx="246.9" cy="953.4" r="1.5"/><circle cx="249.2" cy="955.7" r="1.6"/><circle cx="247.4" cy="956.2" r="1.2"/><circle cx="243" cy="956.2" r="1.1"/><circle cx="244.3" cy="953.5" r="1.2"/><circle cx="231.7" cy="961.7" r="1.5"/><circle cx="229.1" cy="965.6" r="1.3"/><circle cx="245.2" cy="949" r="1.2"/><circle cx="242.1" cy="946.7" r="1.1"/><circle cx="242" cy="946.8" r="1.3"/><circle cx="261.9" cy="933.7" r="1"/><circle cx="260.5" cy="933.6" r="1.2"/><circle cx="256.2" cy="934.4" r="1.1"/><circle cx="255.2" cy="933.7" r="1"/><circle cx="252.5" cy="930.4" r="1.8"/><circle cx="274.8" cy="939.2" r="1.2"/><circle cx="265.3" cy="944.9" r="1.3"/><circle cx="267.6" cy="948.9" r="1.1"/><circle cx="265.2" cy="952.3" r="1.3"/><circle cx="261.4" cy="954.2" r="0.9"/><circle cx="258" cy="957.5" r="1.4"/><circle cx="255.2" cy="956.5" r="1.2"/><circle cx="256.7" cy="961.3" r="1"/><circle cx="255.2" cy="958.8" r="1"/><circle cx="252.2" cy="961.8" r="1.3"/><circle cx="250.2" cy="964.4" r="1.5"/><circle cx="275.3" cy="940.7" r="1.1"/><circle cx="272.5" cy="949.6" r="1.4"/><circle cx="273.7" cy="952.4" r="1.5"/><circle cx="267.9" cy="950.1" r="1.1"/><circle cx="270.4" cy="953.3" r="1.1"/><circle cx="271.3" cy="956.1" r="1.1"/><circle cx="269.8" cy="955.5" r="1"/><circle cx="263.2" cy="970.2" r="0.9"/><circle cx="261.9" cy="972.6" r="1.6"/><circle cx="276.9" cy="942.5" r="1.5"/><circle cx="280.3" cy="943.6" r="1.6"/><circle cx="278.6" cy="946.7" r="1.6"/><circle cx="276.6" cy="945.9" r="1"/><circle cx="275.3" cy="948.9" r="1.2"/><circle cx="274.9" cy="951.1" r="1.2"/><circle cx="273.4" cy="957.1" r="1.5"/><circle cx="275" cy="960.4" r="1"/><circle cx="272.6" cy="961.1" r="1.5"/><circle cx="272.8" cy="967.9" r="1.2"/><circle cx="271.5" cy="972.2" r="1"/><circle cx="271.7" cy="975.7" r="1.7"/><circle cx="271.3" cy="972.6" r="1.7"/><circle cx="277.7" cy="942.3" r="1.4"/><circle cx="279.5" cy="944.7" r="1"/><circle cx="279.1" cy="946.1" r="1.3"/><circle cx="282.1" cy="948.4" r="1.3"/><circle cx="280.7" cy="949.5" r="0.9"/><circle cx="280.4" cy="951.3" r="1.4"/><circle cx="281.7" cy="956.7" r="1"/><circle cx="281.2" cy="960.3" r="1.3"/><circle cx="281.6" cy="962.1" r="1.3"/><circle cx="281.9" cy="962.1" r="1.7"/><circle cx="282.3" cy="938.9" r="1.4"/><circle cx="281.6" cy="941.7" r="1.5"/><circle cx="283.2" cy="942.9" r="1"/><circle cx="285" cy="945.1" r="1.1"/><circle cx="285.8" cy="947.6" r="1.3"/><circle cx="287.6" cy="951.3" r="1.4"/><circle cx="292.5" cy="952.4" r="1.2"/><circle cx="289.6" cy="955.2" r="1.3"/><circle cx="298" cy="964.4" r="1.7"/><circle cx="296.8" cy="965.6" r="1.6"/><circle cx="297.3" cy="968.8" r="1.1"/><circle cx="301.4" cy="964.2" r="1"/><circle cx="303.7" cy="962.4" r="1.6"/><circle cx="305.7" cy="965.2" r="1.2"/><circle cx="305.3" cy="962.1" r="1.5"/><circle cx="287.1" cy="937.9" r="1"/><circle cx="289.2" cy="938" r="1.5"/><circle cx="291.2" cy="938.6" r="1.2"/><circle cx="294" cy="938.7" r="1.2"/><circle cx="302" cy="938.4" r="1"/><circle cx="306.2" cy="938" r="1.2"/><circle cx="308.6" cy="937.7" r="1.2"/><circle cx="308.8" cy="937.4" r="1.7"/><circle cx="284.9" cy="939.3" r="0.9"/><circle cx="286.5" cy="941.5" r="1.4"/><circle cx="289.4" cy="944.8" r="1.2"/><circle cx="292.4" cy="946.2" r="0.9"/><circle cx="294.7" cy="948.5" r="1.4"/><circle cx="294.1" cy="944.9" r="1.4"/><circle cx="294.6" cy="952.4" r="1.5"/><circle cx="295.9" cy="955" r="1.8"/><circle cx="274.3" cy="930.4" r="1"/><circle cx="273.7" cy="931.7" r="1.5"/><circle cx="277.3" cy="934.3" r="1.4"/><circle cx="272.1" cy="932.5" r="1.4"/><circle cx="275.8" cy="929.4" r="1.5"/><circle cx="272.7" cy="930.7" r="1.4"/><circle cx="269.9" cy="932.2" r="1.5"/><circle cx="280.8" cy="934.5" r="1.3"/><circle cx="283.1" cy="933.9" r="1.4"/><circle cx="289.3" cy="932.1" r="1.6"/><circle cx="280.4" cy="938" r="1"/><circle cx="279.9" cy="936.6" r="1.5"/><circle cx="282.2" cy="941" r="1"/><circle cx="280.5" cy="941.1" r="1.4"/><circle cx="282.4" cy="944.5" r="1.4"/><circle cx="279" cy="937.5" r="1.1"/><circle cx="275.2" cy="938.7" r="1"/><circle cx="278.1" cy="940.8" r="1.4"/><circle cx="279.8" cy="943.1" r="1.3"/><circle cx="274" cy="944.6" r="1.4"/><circle cx="277.5" cy="936.6" r="0.9"/><circle cx="277" cy="939.9" r="1.3"/><circle cx="275.3" cy="942.7" r="1.6"/><circle cx="274.3" cy="944.6" r="1"/><circle cx="282" cy="937.2" r="1.2"/><circle cx="279.2" cy="939.4" r="1.7"/><circle cx="271.3" cy="939.3" r="1.1"/><circle cx="280.2" cy="938.5" r="1.5"/><circle cx="279.9" cy="943.5" r="1.4"/><circle cx="273.8" cy="944.3" r="1.7"/><circle cx="274.5" cy="945.3" r="1.5"/><circle cx="283.7" cy="928.6" r="1.1"/><circle cx="281.8" cy="925.5" r="1.5"/><circle cx="278.4" cy="927.5" r="1.2"/><circle cx="281.1" cy="925" r="1.3"/><circle cx="279" cy="925.5" r="1.4"/><circle cx="279.4" cy="926.1" r="1.5"/><circle cx="278.2" cy="927" r="1.2"/><circle cx="284.9" cy="928.7" r="1.3"/><circle cx="282.1" cy="927.3" r="1.5"/><circle cx="283" cy="925.5" r="1.3"/><circle cx="280.8" cy="924.7" r="1.2"/><circle cx="279.7" cy="925.1" r="1.1"/><circle cx="282.9" cy="925.6" r="1.6"/><circle cx="278.4" cy="927.1" r="1.4"/><circle cx="282.4" cy="934.9" r="1"/><circle cx="283.8" cy="931.6" r="1.3"/><circle cx="286.5" cy="936.9" r="1.4"/><circle cx="289.6" cy="937.4" r="1.3"/><circle cx="283.6" cy="931.5" r="1.6"/><circle cx="289.3" cy="938.3" r="1.5"/><circle cx="289.8" cy="937.6" r="1.8"/><circle cx="275.6" cy="937" r="1.6"/><circle cx="271.5" cy="934.2" r="1.1"/><circle cx="271.4" cy="932.5" r="1.3"/><circle cx="269.6" cy="930.6" r="1.1"/><circle cx="267.8" cy="935.1" r="1"/><circle cx="274" cy="935.1" r="1.2"/><circle cx="267.5" cy="934.5" r="1.6"/><circle cx="270.8" cy="937.3" r="1.7"/><circle cx="270.2" cy="940.4" r="1.7"/><circle cx="273.2" cy="939.3" r="1.6"/><circle cx="269.4" cy="931.9" r="1.4"/><circle cx="270.5" cy="930.6" r="1.5"/><circle cx="268.1" cy="930.8" r="1.1"/><circle cx="269.7" cy="930.6" r="1.8"/><circle cx="267.8" cy="935.3" r="1.7"/><circle cx="267.8" cy="934.7" r="1.4"/><circle cx="277.2" cy="939.1" r="1.1"/><circle cx="274.2" cy="942.4" r="1"/><circle cx="271.7" cy="939.5" r="1.2"/><circle cx="275.6" cy="940.8" r="1.1"/><circle cx="277.5" cy="945.4" r="0.9"/><circle cx="279.4" cy="945.1" r="1.6"/><circle cx="277.4" cy="943.7" r="1.2"/><circle cx="278" cy="936.5" r="1.2"/><circle cx="277.4" cy="940.1" r="1.4"/><circle cx="274.9" cy="939.1" r="1.6"/><circle cx="273.3" cy="943.4" r="1.5"/><circle cx="271.4" cy="938.3" r="1.5"/><circle cx="272.3" cy="941.3" r="1.6"/><circle cx="277.6" cy="945.6" r="1.6"/><circle cx="281.3" cy="945.4" r="1.6"/><circle cx="278.1" cy="945.5" r="1.8"/><circle cx="276.3" cy="944.3" r="1.6"/></g>
<g fill="#ffe9ff"><circle cx="274.3" cy="930.4" r="0.5"/><circle cx="273.7" cy="931.7" r="0.8"/><circle cx="277.3" cy="934.3" r="0.8"/><circle cx="272.1" cy="932.5" r="0.8"/><circle cx="280.8" cy="934.5" r="0.7"/><circle cx="279.9" cy="936.6" r="0.8"/><circle cx="282.2" cy="941" r="0.6"/><circle cx="277" cy="939.9" r="0.7"/><circle cx="283.7" cy="928.6" r="0.6"/><circle cx="278.2" cy="927" r="0.6"/><circle cx="282.4" cy="934.9" r="0.6"/><circle cx="283.8" cy="931.6" r="0.7"/><circle cx="275.6" cy="937" r="0.9"/><circle cx="271.5" cy="934.2" r="0.6"/><circle cx="271.4" cy="932.5" r="0.7"/><circle cx="274.2" cy="942.4" r="0.6"/><circle cx="275.6" cy="940.8" r="0.6"/><circle cx="277.4" cy="943.7" r="0.6"/><circle cx="278" cy="936.5" r="0.7"/><circle cx="277.4" cy="940.1" r="0.7"/><circle cx="287.5" cy="871.5" r="0.6"/><circle cx="294.8" cy="868.2" r="0.7"/><circle cx="295.3" cy="871.8" r="0.6"/><circle cx="286.1" cy="885.3" r="0.8"/><circle cx="289.5" cy="891.8" r="0.7"/><circle cx="290.8" cy="890.3" r="0.6"/><circle cx="302.9" cy="895.1" r="0.7"/><circle cx="303" cy="895.2" r="0.7"/><circle cx="262.4" cy="888.5" r="0.7"/><circle cx="250.4" cy="886.6" r="0.8"/><circle cx="248.6" cy="888.4" r="0.5"/><circle cx="245.9" cy="889.6" r="0.6"/><circle cx="249" cy="888.7" r="1"/><circle cx="256.6" cy="898.6" r="0.7"/><circle cx="242" cy="899.9" r="0.7"/><circle cx="249.1" cy="908.3" r="0.6"/><circle cx="225.3" cy="916.4" r="0.9"/><circle cx="253" cy="921.8" r="0.8"/><circle cx="297.1" cy="925.4" r="0.6"/><circle cx="307.4" cy="919.6" r="0.7"/><circle cx="308.9" cy="914.2" r="0.8"/><circle cx="294.1" cy="923.4" r="0.9"/><circle cx="297.4" cy="920.9" r="0.7"/><circle cx="274.6" cy="938.3" r="0.6"/><circle cx="259.9" cy="945.1" r="0.8"/><circle cx="261.9" cy="945.6" r="0.5"/><circle cx="259.8" cy="948" r="0.8"/><circle cx="254.3" cy="951.6" r="0.7"/><circle cx="251.3" cy="951.9" r="0.6"/><circle cx="246.9" cy="953.4" r="0.8"/><circle cx="249.2" cy="955.7" r="0.9"/><circle cx="245.2" cy="949" r="0.7"/><circle cx="261.9" cy="933.7" r="0.5"/><circle cx="265.2" cy="952.3" r="0.7"/><circle cx="261.4" cy="954.2" r="0.5"/><circle cx="258" cy="957.5" r="0.8"/><circle cx="275.3" cy="940.7" r="0.6"/><circle cx="270.4" cy="953.3" r="0.6"/><circle cx="269.8" cy="955.5" r="0.6"/><circle cx="263.2" cy="970.2" r="0.5"/><circle cx="261.9" cy="972.6" r="0.9"/><circle cx="275.3" cy="948.9" r="0.7"/><circle cx="275" cy="960.4" r="0.6"/><circle cx="271.3" cy="972.6" r="0.9"/><circle cx="279.5" cy="944.7" r="0.5"/><circle cx="283.2" cy="942.9" r="0.5"/><circle cx="297.3" cy="968.8" r="0.6"/><circle cx="301.4" cy="964.2" r="0.5"/><circle cx="303.7" cy="962.4" r="0.9"/><circle cx="305.7" cy="965.2" r="0.6"/><circle cx="305.3" cy="962.1" r="0.8"/><circle cx="302" cy="938.4" r="0.5"/><circle cx="306.2" cy="938" r="0.7"/><circle cx="308.8" cy="937.4" r="0.9"/><circle cx="294.6" cy="952.4" r="0.8"/><circle cx="295.9" cy="955" r="1"/><circle cx="277.3" cy="934.3" r="0.8"/><circle cx="272.1" cy="932.5" r="0.8"/><circle cx="272.7" cy="930.7" r="0.7"/><circle cx="280.8" cy="934.5" r="0.7"/><circle cx="283.1" cy="933.9" r="0.8"/><circle cx="280.4" cy="938" r="0.5"/><circle cx="280.5" cy="941.1" r="0.8"/><circle cx="279" cy="937.5" r="0.6"/><circle cx="279.8" cy="943.1" r="0.7"/><circle cx="277.5" cy="936.6" r="0.5"/><circle cx="277" cy="939.9" r="0.7"/><circle cx="281.1" cy="925" r="0.7"/><circle cx="279.4" cy="926.1" r="0.8"/><circle cx="282.1" cy="927.3" r="0.8"/><circle cx="282.4" cy="934.9" r="0.6"/><circle cx="289.6" cy="937.4" r="0.7"/><circle cx="271.4" cy="932.5" r="0.7"/><circle cx="269.6" cy="930.6" r="0.6"/><circle cx="267.5" cy="934.5" r="0.9"/><circle cx="270.8" cy="937.3" r="1"/><circle cx="273.2" cy="939.3" r="0.9"/><circle cx="269.7" cy="930.6" r="1"/><circle cx="277.4" cy="943.7" r="0.6"/><circle cx="278" cy="936.5" r="0.7"/><circle cx="273.3" cy="943.4" r="0.8"/><circle cx="277.6" cy="945.6" r="0.9"/><circle cx="281.3" cy="945.4" r="0.9"/><circle cx="278.1" cy="945.5" r="1"/></g>
<ellipse cx="278.9" cy="935.1" rx="8" ry="6.5" fill="#ffd8ff" opacity="0.85" filter="url(#blur2)"/>
<circle cx="270.0" cy="762.2" r="4.6" fill="#d9a8e8" opacity="0.9" filter="url(#blur1)"/>
<circle cx="270.0" cy="762.2" r="3.4" fill="#5fe090" filter="url(#blur1)"/>
<polygon points="258.6,834.8 243.6,829.8 248.1,834.8 243.6,839.8" fill="#fff"/>
<polygon points="227.3,961.1 232.3,946.1 227.3,950.6 222.3,946.1" fill="#fff"/>
<polygon points="295.9,970.9 290.9,985.9 295.9,981.4 300.9,985.9" fill="#fff"/>
<polygon points="312.1,912.8 328.2,908.1 328.2,917.1" fill="#1b98e0"/>
<text x="214.2" y="772.6" font-size="20" font-family="Liberation Sans, sans-serif" fill="#fff">6dpf</text>
<text x="356.2" y="980.0" font-size="16.8" text-anchor="end" font-family="Liberation Sans, sans-serif" fill="#dc3ede">mKate2f</text>
<text x="357.0" y="998.7" font-size="16.8" text-anchor="end" font-family="Liberation Sans, sans-serif" fill="#38dc42">FingR(PSD95)</text>
</g>
<clipPath id="clip2"><rect x="365.9" y="749.9" width="152.9" height="258.3"/></clipPath>
<g clip-path="url(#clip2)">
<rect x="365.9" y="749.9" width="152.9" height="258.3" fill="#040105"/>
<polygon points="365.3,750.3 519.7,750.3 519.7,1009 402.2,1009 365.3,914" fill="#0a040d"/>
<polygon points="447.1,903.4 519.7,871.7 519.7,1009 399.6,1009 394.3,977.3" fill="#0c2c18" opacity="0.75" filter="url(#blur6)"/>
<polygon points="379.8,797.8 395.6,803.1 403.6,882.3 386.4,861.2" fill="#0c2a18" opacity="0.45" filter="url(#blur6)"/>
<polygon points="365.3,903.4 403.6,1009 365.3,1009" fill="#000" filter="url(#blur2)"/>
<polygon points="519.7,956.2 519.7,1009 426,1009 470.9,983.9" fill="#000" opacity="0.8" filter="url(#blur2)"/>
<circle cx="400.4" cy="777.7" r="0.5" fill="#2f8a5a" opacity="0.52"/><circle cx="483.7" cy="833.3" r="0.9" fill="#2f8a5a" opacity="0.27"/><circle cx="501.9" cy="928" r="1.0" fill="#2f8a5a" opacity="0.42"/><circle cx="416.9" cy="769.9" r="0.7" fill="#2f8a5a" opacity="0.33"/><circle cx="380" cy="808.3" r="0.7" fill="#2f8a5a" opacity="0.24"/><circle cx="448.5" cy="961.5" r="0.7" fill="#2f8a5a" opacity="0.34"/><circle cx="429" cy="930.6" r="0.6" fill="#2f8a5a" opacity="0.49"/><circle cx="497.1" cy="870.3" r="0.7" fill="#2f8a5a" opacity="0.51"/><circle cx="439.5" cy="903.3" r="1.0" fill="#2f8a5a" opacity="0.47"/><circle cx="395" cy="915.5" r="0.6" fill="#2f8a5a" opacity="0.21"/><circle cx="439" cy="813.4" r="0.7" fill="#2f8a5a" opacity="0.25"/><circle cx="425.8" cy="858.8" r="0.5" fill="#2f8a5a" opacity="0.33"/><circle cx="510.1" cy="995.6" r="0.6" fill="#2f8a5a" opacity="0.35"/><circle cx="421.8" cy="998" r="0.6" fill="#2f8a5a" opacity="0.59"/><circle cx="428.8" cy="789.9" r="0.8" fill="#2f8a5a" opacity="0.58"/><circle cx="450.9" cy="779.6" r="1.1" fill="#2f8a5a" opacity="0.37"/><circle cx="515.5" cy="967.3" r="0.5" fill="#2f8a5a" opacity="0.38"/><circle cx="456.3" cy="939.6" r="1.0" fill="#2f8a5a" opacity="0.58"/><circle cx="492" cy="831.6" r="0.6" fill="#2f8a5a" opacity="0.47"/><circle cx="429.8" cy="846.7" r="1.0" fill="#2f8a5a" opacity="0.36"/><circle cx="496.6" cy="825.8" r="1.0" fill="#2f8a5a" opacity="0.58"/><circle cx="374" cy="926" r="0.6" fill="#2f8a5a" opacity="0.38"/><circle cx="448.3" cy="937.1" r="1.0" fill="#2f8a5a" opacity="0.52"/><circle cx="498.5" cy="934" r="0.7" fill="#2f8a5a" opacity="0.58"/><circle cx="418.2" cy="935.3" r="0.5" fill="#2f8a5a" opacity="0.21"/><circle cx="397.1" cy="874.4" r="0.6" fill="#2f8a5a" opacity="0.32"/><circle cx="419.4" cy="921.4" r="0.5" fill="#2f8a5a" opacity="0.41"/><circle cx="464.3" cy="930.2" r="0.5" fill="#2f8a5a" opacity="0.54"/><circle cx="393.9" cy="830.8" r="1.0" fill="#2f8a5a" opacity="0.37"/><circle cx="403.8" cy="798.9" r="0.7" fill="#2f8a5a" opacity="0.52"/><circle cx="440.9" cy="865.4" r="0.8" fill="#2f8a5a" opacity="0.48"/><circle cx="505.5" cy="838.9" r="1.1" fill="#2f8a5a" opacity="0.25"/><circle cx="413" cy="827" r="0.8" fill="#2f8a5a" opacity="0.54"/><circle cx="497.6" cy="773.1" r="0.7" fill="#2f8a5a" opacity="0.34"/><circle cx="474.8" cy="808.2" r="1.1" fill="#2f8a5a" opacity="0.24"/><circle cx="492.2" cy="862.2" r="0.5" fill="#2f8a5a" opacity="0.35"/><circle cx="466.2" cy="967" r="0.7" fill="#2f8a5a" opacity="0.36"/><circle cx="463.4" cy="880" r="0.5" fill="#2f8a5a" opacity="0.47"/><circle cx="464.3" cy="915.1" r="0.5" fill="#2f8a5a" opacity="0.41"/><circle cx="391.8" cy="897.8" r="0.6" fill="#2f8a5a" opacity="0.43"/><circle cx="467.3" cy="817.6" r="1.0" fill="#2f8a5a" opacity="0.33"/><circle cx="376.5" cy="888.7" r="1.0" fill="#2f8a5a" opacity="0.36"/><circle cx="406.6" cy="886.9" r="0.8" fill="#2f8a5a" opacity="0.30"/><circle cx="406.9" cy="888.7" r="1.0" fill="#2f8a5a" opacity="0.25"/><circle cx="419.1" cy="977" r="0.5" fill="#2f8a5a" opacity="0.45"/><circle cx="461.3" cy="982.6" r="1.0" fill="#2f8a5a" opacity="0.42"/><circle cx="408.9" cy="832" r="0.6" fill="#2f8a5a" opacity="0.52"/><circle cx="370.9" cy="892.6" r="1.1" fill="#2f8a5a" opacity="0.30"/><circle cx="435.5" cy="825.6" r="0.6" fill="#2f8a5a" opacity="0.48"/><circle cx="378.7" cy="831.4" r="0.5" fill="#2f8a5a" opacity="0.31"/><circle cx="463.1" cy="803.8" r="0.6" fill="#2f8a5a" opacity="0.27"/><circle cx="501.6" cy="791.8" r="0.8" fill="#2f8a5a" opacity="0.47"/><circle cx="467.3" cy="897.4" r="0.8" fill="#2f8a5a" opacity="0.49"/><circle cx="408.7" cy="937" r="1.0" fill="#2f8a5a" opacity="0.28"/><circle cx="397.9" cy="990.2" r="0.8" fill="#2f8a5a" opacity="0.52"/><circle cx="486.9" cy="783" r="0.5" fill="#2f8a5a" opacity="0.40"/><circle cx="438.1" cy="913.1" r="0.8" fill="#2f8a5a" opacity="0.53"/><circle cx="492.5" cy="946.3" r="1.1" fill="#2f8a5a" opacity="0.25"/><circle cx="497.2" cy="996.4" r="0.6" fill="#2f8a5a" opacity="0.21"/><circle cx="485.5" cy="797.4" r="0.7" fill="#2f8a5a" opacity="0.38"/><circle cx="371.9" cy="925.6" r="0.9" fill="#2f8a5a" opacity="0.54"/><circle cx="408.9" cy="920.3" r="0.7" fill="#2f8a5a" opacity="0.31"/><circle cx="510.6" cy="891.9" r="0.9" fill="#2f8a5a" opacity="0.54"/><circle cx="462.7" cy="897" r="0.6" fill="#2f8a5a" opacity="0.43"/><circle cx="420.4" cy="929.6" r="1.0" fill="#2f8a5a" opacity="0.42"/><circle cx="420.8" cy="937" r="0.5" fill="#2f8a5a" opacity="0.31"/><circle cx="373" cy="780.9" r="1.0" fill="#2f8a5a" opacity="0.26"/><circle cx="507.2" cy="785.3" r="1.1" fill="#2f8a5a" opacity="0.59"/><circle cx="490.4" cy="955.4" r="0.9" fill="#2f8a5a" opacity="0.39"/><circle cx="378.8" cy="996.7" r="0.7" fill="#2f8a5a" opacity="0.51"/>
<polygon points="434.3,918.7 450.7,917.5 465.9,923.3 469.5,930.4 474.1,940.9 460.1,950.3 457.7,957.4 455.4,969.1 446,963.2 434.3,971.4 420.2,969.1 408.5,959.7 420.2,942.1 423.7,935.1 434.3,925.7" fill="#a01caa" opacity="0.8" filter="url(#blur2)"/>
<ellipse cx="446.0" cy="939.4" rx="17" ry="13" fill="#d63cdc" opacity="0.8" filter="url(#blur2)"/>
<g filter="url(#blur1)">
<g filter="url(#blur2)" opacity="0.8" fill="none" stroke="#9a1aa4" stroke-linecap="round" stroke-linejoin="round"><path d="M440.5 778C440.2 778.7 439.1 780.9 438.4 782.3C437.7 783.6 436.9 785 436.3 786.2C435.8 787.5 435.6 788.5 435.2 789.9C434.9 791.2 434.6 792.6 434.3 794.3C433.9 795.9 433.4 798.3 433.1 799.7C432.8 801.1 432.9 801.5 432.5 803C432.1 804.4 431.2 806.6 430.7 808.4C430.3 810.1 430.1 812 429.9 813.4C429.7 814.8 429.7 815.5 429.7 816.7C429.6 817.8 429.8 819.1 429.5 820.4C429.2 821.7 428.3 823 428.1 824.6C427.9 826.1 428.1 827.9 428.1 829.5C428.1 831.1 428.2 832.7 428.2 834.1C428.2 835.5 427.9 836.6 428 837.9C428.1 839.1 428.6 840.4 428.6 841.8C428.6 843.2 427.9 844.8 427.8 846.3C427.7 847.7 428 849.2 428.1 850.6C428.2 852 428.4 853.3 428.5 854.6C428.7 856 428.8 857.2 429 858.7C429.2 860.3 429.6 863.6 429.7 863.8C429.8 864 429.5 859.8 429.6 860C429.7 860.2 430 863.2 430.4 864.8C430.7 866.3 431.2 867.8 431.6 869.4C432.1 870.9 432.5 872.1 433.1 874.1C433.7 876 434.8 879.1 435.4 881.1C436.1 883.1 436.8 884.7 437.1 886.3C437.5 887.8 437.4 888.8 437.8 890.3C438.1 891.7 438.7 893.6 439 895.2C439.2 896.8 439 898.5 439.1 900C439.2 901.4 439.3 902.2 439.5 903.8C439.6 905.3 439.7 907.5 440.1 909.3C440.6 911 441.5 912.5 442.1 914.1C442.6 915.7 443.4 917.9 443.7 918.7M431.9 883.5C431.9 884.3 431.8 887 431.6 888.6C431.3 890.3 430.9 891.9 430.5 893.5C430.2 895.2 429.9 897.2 429.6 898.7C429.2 900.2 428.5 901.3 428.3 902.5C428.1 903.8 428.1 904.6 428.3 906C428.4 907.5 429.1 909.8 429.1 911.3C429.2 912.8 428 914 428.4 915.1C428.8 916.3 430.5 917 431.4 918.4C432.4 919.7 433.8 922.5 434.3 923.3" stroke-width="4.4"/><path d="M435.4 879.9L438.3 878.4L438.2 878L440.9 875.7L442.8 876.5L445 875.4L448.3 874.1L450.2 873.4L452.3 873.3L455.4 871.5L455 869.6L457.7 868.2L458 866.8L461.6 864.7L462.4 862.3M441.3 881.1L443.3 882.7L444.6 885.9L445.8 888.3L448.3 889.3L450.4 890.2L451.6 893.5L453.6 895.4L455.4 896.4M435.4 882.3L433.6 882.4L428.2 883.6L427.8 882.9L425.4 884.2L423.7 884.6L421.3 885L420.6 888L418.3 890.4L415.9 890.6L414.3 892.8L413.8 894.9L409.9 893.9L407.8 897.6L406.6 896.9L403.4 898.1L401.2 900.1L400.1 900.6L398.6 899.9L395.6 902.2M431.9 901.1L428.2 901.8L427 904.6L425.7 903.6L422.8 904.2L420.2 906.9L419.6 909L415.9 912.7L414.9 913.3L413.2 915.1M450.7 922.2L453.7 922.4L455.7 923.9L459.3 923.1L459.5 923.2L464.1 924.1L465.9 923.9L467.2 923.3L470.7 922.8L471.4 922.8L476.6 923L478.8 921.6M420.2 944.5L418.1 945.9L415.7 946.1L413.8 947.5L410.8 949.1L408 949.5L406.8 951.4L402.6 950.9M455.4 959.7L457.8 960.3L459.9 963.6L462.4 964.4M443.7 918.7L446.7 919L450 919.5L451.4 918.1L452.8 918.7L455.4 919.8L457.8 920.7L460.4 921.2L462.2 922L464.1 922.1L465.9 923.9M446 925.7L448.9 926.7L450.5 926.9L454.6 930.2L457.1 929L457.7 930.4L458.5 930.4L461.7 932.3L465.3 931.6L467.1 929.8L469.5 930.4M448.3 932.7L450.4 932.2L454.2 933L455.9 933.5L459.2 935.2L458.6 936L461.2 937.4L462 935.9L465.5 941L467.3 941L469.8 939.9L472.1 939.8L474.1 940.9M446 939.8L448.8 939.9L450.2 942.7L453 942L454.2 945.3L455.4 945.6L457.7 946.8L460.1 950.3M443.7 944.5L444.2 943.7L446.7 945.7L447.3 949.1L448.7 952.5L449.5 951.6L453 953.8L457 956.6L457.7 957.4L458.8 957.8L461.3 960.2L462.1 960.4L464.8 964.4M441.3 946.8L443.2 949.9L445 951.5L444.2 953.3L446 956.2L445.8 960.2L443 962L446 963.2L447.9 964.5L450.8 965.7L450.4 968.6L452.2 967.5L455.4 970.3M437.8 948L439.5 949.1L436.2 952.5L436.9 953.2L436.8 957.3L436.6 959.7L435.8 963.6L436.6 963.6L436.5 967.1L434.2 969.7L434.3 971.4M435.4 944.5L434.8 947.2L433.6 948.4L430.2 950.1L427.8 952.7L428.4 952.1L427.2 956.2L426.4 958.6L424.9 959.6L422.9 962.5L423.7 963.8L422.7 965.9L420.2 969.1M434.3 940.9L430.5 944.5L427.6 944.3L428.8 943.4L425.3 947.3L424.7 949.3L422.5 949.1L419.9 949.4L417.4 951.6L419.2 953L414.3 953.8L410.6 956.8L409.7 958.4L408.5 959.7M431.9 937.4L429.1 940.7L427.1 938.8L424.6 940.5L423 941.5L420.2 942.1L418.5 943.5L417.1 944.2L414.2 946.9L412.2 946.8L410.8 949.1M434.3 925.7L432.5 926.9L432.2 931.7L428.9 930.1L428 931.2L424.8 933.2L423.7 935.1L422.2 936.4L422.4 940.5L420.2 942.1M439 923.3L437.3 925.5L434.1 928.2L436 929.3L434.3 932.7L434.8 933.6L433.8 937.3L435.8 940L436.6 942.1M434.3 923.3L436.3 924.9L437.8 926.5L440 928.7L441.9 928.3L443.7 930.4L444.5 933.2L444.5 933.7L445.3 935.5L445.5 941L446 942.1M450.7 918.7L449.5 922.4L449.4 922.4L451.3 925.2L450.8 928.6L450.7 930.4L452.5 931.9L453.5 933.8L453.1 937.4L453.9 937.4L455.4 942.1" stroke-width="5.2"/><path d="M448.3 889.3L448.7 887.8L449 886.2M453.6 895.4L452.4 896.5L451.2 897.5M455.4 896.4L457 896.6L458.6 896.8M415.9 890.6L414.3 890.6L412.7 890.6M395.6 902.2L396.5 903.5L397.8 904.4M414.9 913.3L415.6 914.7L416.5 916M470.7 922.8L470.7 924.3L470.7 925.9M450 919.5L451.1 920.7L452.2 921.9L453.7 922.4M462.2 922L461.1 923.1L459.6 923.6L458 923.5L456.4 923.7M465.9 923.9L465.3 925.4L465.4 927M450.5 926.9L452 927.2L453.6 927.3L455.1 926.6M457.1 929L458.7 928.5L460.1 927.8M457.7 930.4L458.7 931.7L459.9 932.8M467.1 929.8L468.5 929.1L470.1 928.5M454.2 933L453.9 934.6L454.2 936.1L455.5 937.1M458.6 936L458.8 937.6L458.8 939.2L459 940.8M465.5 941L467 940.6L468.6 940.3M467.3 941L466.3 942.3L465.1 943.3M469.8 939.9L470.2 938.4L470 936.8M474.1 940.9L473.5 942.4L472.8 943.8L472.4 945.4M446.7 945.7L445.2 945.1L443.8 944.3M449.5 951.6L451 951L452.5 950.4L453.7 949.4M458.8 957.8L460.3 957.3L461.8 956.7M464.8 964.4L463.2 964.2L461.6 964.1L460 964.2M444.2 953.3L444 951.7L443.2 950.3M443 962L443.3 960.5L442.4 959.1L441.4 957.9M447.9 964.5L446.3 964.6L444.7 964.4M452.2 967.5L453.1 966.2L453.8 964.8M436.9 953.2L435.4 952.6L433.8 952.6M436.6 959.7L436.2 958.2L436.4 956.6L436.5 955M435.8 963.6L434.6 964.6L433.3 965.6L431.7 966M436.5 967.1L435.7 968.5L435.2 970M433.6 948.4L434.4 947L435.3 945.7M427.8 952.7L426.5 953.6L425.3 954.7M428.4 952.1L427.6 953.5L427.2 955M426.4 958.6L424.8 959L423.3 959.3M422.9 962.5L424.5 962.9L426.1 963.1M423.7 963.8L422.2 964L420.7 964.6M420.2 969.1L419.6 967.6L419 966.1L418.4 964.7M425.3 947.3L424.7 945.8L423.8 944.6M424.7 949.3L423.8 948L422.6 946.9M422.5 949.1L421 948.7L419.6 948L418.1 947.3L416.6 947M417.4 951.6L416.3 952.7L415.3 954M409.7 958.4L409.8 956.8L410.1 955.2L409.8 953.6M427.1 938.8L428.7 938.7L430.3 938.6L431.9 938.2M424.6 940.5L423.7 941.8L423.1 943.3L423 944.9M423 941.5L423.3 940L423.6 938.4L424.5 937M414.2 946.9L415.8 947.1L417.3 946.5M412.2 946.8L413.1 948.2L413.8 949.6M428.9 930.1L430.3 930.9L431.4 932L432.8 932.8M428 931.2L426.5 930.6L425 930L423.7 929M423.7 935.1L424 936.6L423.5 938.1M422.2 936.4L421.2 937.6L420.5 939.1L419.4 940.2M436 929.3L436.3 930.8L436.4 932.4M434.8 933.6L434.9 932L434.2 930.6L433.9 929M435.8 940L434.4 940.8L433.2 941.9M443.7 930.4L445.2 929.9L446.8 930.2M449.4 922.4L450 923.9L449.6 925.4M451.3 925.2L452.8 925.7L454.4 926L455.9 926.4M450.7 930.4L450.9 928.8L450.5 927.2M452.5 931.9L451.1 931L450 929.8M453.5 933.8L453.4 935.4L452.7 936.8M453.9 937.4L454.1 935.8L453.3 934.4L452.5 933M445 936.2L443.4 936.2L441.8 936.3L440.2 936.7M442 930.5L442.7 929.1L443 927.5L442.9 925.9L442.7 924.3M446 937.4L445 936.2L444.3 934.8L443.6 933.3L442.9 931.9L442 930.5L440.8 929.4L439.7 928.3L438.8 927M449.2 937.8L449.5 939.3L450.2 940.8L450.7 942.3L451.7 943.5M446 937.4L447.6 937.7L449.2 937.8L450.8 937.7L452.3 937.2L453.7 936.4L455 935.4L456.2 934.4L457.4 933.4L458.9 932.7M453.7 946.8L455.1 946L456.5 945.3L458.1 944.9M446 937.4L447.1 938.6L447.8 940L448.4 941.5L448.9 943L449.6 944.4L451 945.2L452.3 946.2L453.7 946.8L455.2 947.4M441.1 941.4L440.6 942.9L439.8 944.2L438.4 945.1M437.8 946.3L439.3 946.8L440.8 947.3L442.2 948M446 937.4L444.7 938.4L443.7 939.6L442.2 940.3L441.1 941.4L439.8 942.3L438.5 943.3L437.7 944.7L437.8 946.3L437 947.7L436.1 949M443.6 926.7L444.5 925.4L445.3 924M446 937.4L445.7 935.8L445.4 934.3L445 932.7L445.1 931.1L445.1 929.5L444.5 928.1L443.6 926.7L442.4 925.6M447.6 937.7L447.9 939.2L447.9 940.8L448.7 942.2L448.9 943.8L448.5 945.3L447.3 946.4M449.2 937.9L450.6 938.5L452.1 939.1L453.7 939.2L455.3 939.7M446 937.4L447.6 937.7L449.2 937.9L450.4 938.9L452 938.8L453.5 938.4L454.9 937.6L456.5 937.1L458 936.8L459.6 937L461.2 937.4M438.4 936.8L438.4 935.2L438.2 933.6L437.9 932.1L437.6 930.5L437.4 928.9M436.8 937.1L435.6 935.9L434.4 935L432.9 934.4L431.5 933.6M432.4 938.5L430.8 938.7M431.1 939.4L430 938.3M446 937.4L444.5 937.9L442.9 938.3L441.4 937.9L439.8 937.6L438.4 936.8L436.8 937.1L435.2 936.9L433.7 937.6L432.4 938.5L431.1 939.4M446.1 939L446.9 940.4L447.4 941.9L448 943.4L448.2 945L449.3 946.1M445 948.4L445.9 949.7L447.3 950.5M443.2 950.9L441.7 950.4L440.1 950.7L438.5 950.5L437.2 949.7M446 937.4L446.1 939L446.5 940.6L446.1 942.1L446.1 943.7L445.9 945.3L445.5 946.8L445 948.4L444.4 949.8L443.2 950.9L441.7 951.3" stroke-width="5.0"/></g>
<g fill="none" stroke="#d22cd6" opacity="1.0" stroke-linecap="round" stroke-linejoin="round"><path d="M440.5 778C440.2 778.7 439.1 780.9 438.4 782.3C437.7 783.6 436.9 785 436.3 786.2C435.8 787.5 435.6 788.5 435.2 789.9C434.9 791.2 434.6 792.6 434.3 794.3C433.9 795.9 433.4 798.3 433.1 799.7C432.8 801.1 432.9 801.5 432.5 803C432.1 804.4 431.2 806.6 430.7 808.4C430.3 810.1 430.1 812 429.9 813.4C429.7 814.8 429.7 815.5 429.7 816.7C429.6 817.8 429.8 819.1 429.5 820.4C429.2 821.7 428.3 823 428.1 824.6C427.9 826.1 428.1 827.9 428.1 829.5C428.1 831.1 428.2 832.7 428.2 834.1C428.2 835.5 427.9 836.6 428 837.9C428.1 839.1 428.6 840.4 428.6 841.8C428.6 843.2 427.9 844.8 427.8 846.3C427.7 847.7 428 849.2 428.1 850.6C428.2 852 428.4 853.3 428.5 854.6C428.7 856 428.8 857.2 429 858.7C429.2 860.3 429.6 863.6 429.7 863.8C429.8 864 429.5 859.8 429.6 860C429.7 860.2 430 863.2 430.4 864.8C430.7 866.3 431.2 867.8 431.6 869.4C432.1 870.9 432.5 872.1 433.1 874.1C433.7 876 434.8 879.1 435.4 881.1C436.1 883.1 436.8 884.7 437.1 886.3C437.5 887.8 437.4 888.8 437.8 890.3C438.1 891.7 438.7 893.6 439 895.2C439.2 896.8 439 898.5 439.1 900C439.2 901.4 439.3 902.2 439.5 903.8C439.6 905.3 439.7 907.5 440.1 909.3C440.6 911 441.5 912.5 442.1 914.1C442.6 915.7 443.4 917.9 443.7 918.7M431.9 883.5C431.9 884.3 431.8 887 431.6 888.6C431.3 890.3 430.9 891.9 430.5 893.5C430.2 895.2 429.9 897.2 429.6 898.7C429.2 900.2 428.5 901.3 428.3 902.5C428.1 903.8 428.1 904.6 428.3 906C428.4 907.5 429.1 909.8 429.1 911.3C429.2 912.8 428 914 428.4 915.1C428.8 916.3 430.5 917 431.4 918.4C432.4 919.7 433.8 922.5 434.3 923.3" stroke-width="2.2"/><path d="M435.4 879.9L438.3 878.4L438.2 878L440.9 875.7L442.8 876.5L445 875.4L448.3 874.1L450.2 873.4L452.3 873.3L455.4 871.5L455 869.6L457.7 868.2L458 866.8L461.6 864.7L462.4 862.3M441.3 881.1L443.3 882.7L444.6 885.9L445.8 888.3L448.3 889.3L450.4 890.2L451.6 893.5L453.6 895.4L455.4 896.4M435.4 882.3L433.6 882.4L428.2 883.6L427.8 882.9L425.4 884.2L423.7 884.6L421.3 885L420.6 888L418.3 890.4L415.9 890.6L414.3 892.8L413.8 894.9L409.9 893.9L407.8 897.6L406.6 896.9L403.4 898.1L401.2 900.1L400.1 900.6L398.6 899.9L395.6 902.2M431.9 901.1L428.2 901.8L427 904.6L425.7 903.6L422.8 904.2L420.2 906.9L419.6 909L415.9 912.7L414.9 913.3L413.2 915.1M450.7 922.2L453.7 922.4L455.7 923.9L459.3 923.1L459.5 923.2L464.1 924.1L465.9 923.9L467.2 923.3L470.7 922.8L471.4 922.8L476.6 923L478.8 921.6M420.2 944.5L418.1 945.9L415.7 946.1L413.8 947.5L410.8 949.1L408 949.5L406.8 951.4L402.6 950.9M455.4 959.7L457.8 960.3L459.9 963.6L462.4 964.4M443.7 918.7L446.7 919L450 919.5L451.4 918.1L452.8 918.7L455.4 919.8L457.8 920.7L460.4 921.2L462.2 922L464.1 922.1L465.9 923.9M446 925.7L448.9 926.7L450.5 926.9L454.6 930.2L457.1 929L457.7 930.4L458.5 930.4L461.7 932.3L465.3 931.6L467.1 929.8L469.5 930.4M448.3 932.7L450.4 932.2L454.2 933L455.9 933.5L459.2 935.2L458.6 936L461.2 937.4L462 935.9L465.5 941L467.3 941L469.8 939.9L472.1 939.8L474.1 940.9M446 939.8L448.8 939.9L450.2 942.7L453 942L454.2 945.3L455.4 945.6L457.7 946.8L460.1 950.3M443.7 944.5L444.2 943.7L446.7 945.7L447.3 949.1L448.7 952.5L449.5 951.6L453 953.8L457 956.6L457.7 957.4L458.8 957.8L461.3 960.2L462.1 960.4L464.8 964.4M441.3 946.8L443.2 949.9L445 951.5L444.2 953.3L446 956.2L445.8 960.2L443 962L446 963.2L447.9 964.5L450.8 965.7L450.4 968.6L452.2 967.5L455.4 970.3M437.8 948L439.5 949.1L436.2 952.5L436.9 953.2L436.8 957.3L436.6 959.7L435.8 963.6L436.6 963.6L436.5 967.1L434.2 969.7L434.3 971.4M435.4 944.5L434.8 947.2L433.6 948.4L430.2 950.1L427.8 952.7L428.4 952.1L427.2 956.2L426.4 958.6L424.9 959.6L422.9 962.5L423.7 963.8L422.7 965.9L420.2 969.1M434.3 940.9L430.5 944.5L427.6 944.3L428.8 943.4L425.3 947.3L424.7 949.3L422.5 949.1L419.9 949.4L417.4 951.6L419.2 953L414.3 953.8L410.6 956.8L409.7 958.4L408.5 959.7M431.9 937.4L429.1 940.7L427.1 938.8L424.6 940.5L423 941.5L420.2 942.1L418.5 943.5L417.1 944.2L414.2 946.9L412.2 946.8L410.8 949.1M434.3 925.7L432.5 926.9L432.2 931.7L428.9 930.1L428 931.2L424.8 933.2L423.7 935.1L422.2 936.4L422.4 940.5L420.2 942.1M439 923.3L437.3 925.5L434.1 928.2L436 929.3L434.3 932.7L434.8 933.6L433.8 937.3L435.8 940L436.6 942.1M434.3 923.3L436.3 924.9L437.8 926.5L440 928.7L441.9 928.3L443.7 930.4L444.5 933.2L444.5 933.7L445.3 935.5L445.5 941L446 942.1M450.7 918.7L449.5 922.4L449.4 922.4L451.3 925.2L450.8 928.6L450.7 930.4L452.5 931.9L453.5 933.8L453.1 937.4L453.9 937.4L455.4 942.1" stroke-width="2.6"/><path d="M448.3 889.3L448.7 887.8L449 886.2M453.6 895.4L452.4 896.5L451.2 897.5M455.4 896.4L457 896.6L458.6 896.8M415.9 890.6L414.3 890.6L412.7 890.6M395.6 902.2L396.5 903.5L397.8 904.4M414.9 913.3L415.6 914.7L416.5 916M470.7 922.8L470.7 924.3L470.7 925.9M450 919.5L451.1 920.7L452.2 921.9L453.7 922.4M462.2 922L461.1 923.1L459.6 923.6L458 923.5L456.4 923.7M465.9 923.9L465.3 925.4L465.4 927M450.5 926.9L452 927.2L453.6 927.3L455.1 926.6M457.1 929L458.7 928.5L460.1 927.8M457.7 930.4L458.7 931.7L459.9 932.8M467.1 929.8L468.5 929.1L470.1 928.5M454.2 933L453.9 934.6L454.2 936.1L455.5 937.1M458.6 936L458.8 937.6L458.8 939.2L459 940.8M465.5 941L467 940.6L468.6 940.3M467.3 941L466.3 942.3L465.1 943.3M469.8 939.9L470.2 938.4L470 936.8M474.1 940.9L473.5 942.4L472.8 943.8L472.4 945.4M446.7 945.7L445.2 945.1L443.8 944.3M449.5 951.6L451 951L452.5 950.4L453.7 949.4M458.8 957.8L460.3 957.3L461.8 956.7M464.8 964.4L463.2 964.2L461.6 964.1L460 964.2M444.2 953.3L444 951.7L443.2 950.3M443 962L443.3 960.5L442.4 959.1L441.4 957.9M447.9 964.5L446.3 964.6L444.7 964.4M452.2 967.5L453.1 966.2L453.8 964.8M436.9 953.2L435.4 952.6L433.8 952.6M436.6 959.7L436.2 958.2L436.4 956.6L436.5 955M435.8 963.6L434.6 964.6L433.3 965.6L431.7 966M436.5 967.1L435.7 968.5L435.2 970M433.6 948.4L434.4 947L435.3 945.7M427.8 952.7L426.5 953.6L425.3 954.7M428.4 952.1L427.6 953.5L427.2 955M426.4 958.6L424.8 959L423.3 959.3M422.9 962.5L424.5 962.9L426.1 963.1M423.7 963.8L422.2 964L420.7 964.6M420.2 969.1L419.6 967.6L419 966.1L418.4 964.7M425.3 947.3L424.7 945.8L423.8 944.6M424.7 949.3L423.8 948L422.6 946.9M422.5 949.1L421 948.7L419.6 948L418.1 947.3L416.6 947M417.4 951.6L416.3 952.7L415.3 954M409.7 958.4L409.8 956.8L410.1 955.2L409.8 953.6M427.1 938.8L428.7 938.7L430.3 938.6L431.9 938.2M424.6 940.5L423.7 941.8L423.1 943.3L423 944.9M423 941.5L423.3 940L423.6 938.4L424.5 937M414.2 946.9L415.8 947.1L417.3 946.5M412.2 946.8L413.1 948.2L413.8 949.6M428.9 930.1L430.3 930.9L431.4 932L432.8 932.8M428 931.2L426.5 930.6L425 930L423.7 929M423.7 935.1L424 936.6L423.5 938.1M422.2 936.4L421.2 937.6L420.5 939.1L419.4 940.2M436 929.3L436.3 930.8L436.4 932.4M434.8 933.6L434.9 932L434.2 930.6L433.9 929M435.8 940L434.4 940.8L433.2 941.9M443.7 930.4L445.2 929.9L446.8 930.2M449.4 922.4L450 923.9L449.6 925.4M451.3 925.2L452.8 925.7L454.4 926L455.9 926.4M450.7 930.4L450.9 928.8L450.5 927.2M452.5 931.9L451.1 931L450 929.8M453.5 933.8L453.4 935.4L452.7 936.8M453.9 937.4L454.1 935.8L453.3 934.4L452.5 933M445 936.2L443.4 936.2L441.8 936.3L440.2 936.7M442 930.5L442.7 929.1L443 927.5L442.9 925.9L442.7 924.3M446 937.4L445 936.2L444.3 934.8L443.6 933.3L442.9 931.9L442 930.5L440.8 929.4L439.7 928.3L438.8 927M449.2 937.8L449.5 939.3L450.2 940.8L450.7 942.3L451.7 943.5M446 937.4L447.6 937.7L449.2 937.8L450.8 937.7L452.3 937.2L453.7 936.4L455 935.4L456.2 934.4L457.4 933.4L458.9 932.7M453.7 946.8L455.1 946L456.5 945.3L458.1 944.9M446 937.4L447.1 938.6L447.8 940L448.4 941.5L448.9 943L449.6 944.4L451 945.2L452.3 946.2L453.7 946.8L455.2 947.4M441.1 941.4L440.6 942.9L439.8 944.2L438.4 945.1M437.8 946.3L439.3 946.8L440.8 947.3L442.2 948M446 937.4L444.7 938.4L443.7 939.6L442.2 940.3L441.1 941.4L439.8 942.3L438.5 943.3L437.7 944.7L437.8 946.3L437 947.7L436.1 949M443.6 926.7L444.5 925.4L445.3 924M446 937.4L445.7 935.8L445.4 934.3L445 932.7L445.1 931.1L445.1 929.5L444.5 928.1L443.6 926.7L442.4 925.6M447.6 937.7L447.9 939.2L447.9 940.8L448.7 942.2L448.9 943.8L448.5 945.3L447.3 946.4M449.2 937.9L450.6 938.5L452.1 939.1L453.7 939.2L455.3 939.7M446 937.4L447.6 937.7L449.2 937.9L450.4 938.9L452 938.8L453.5 938.4L454.9 937.6L456.5 937.1L458 936.8L459.6 937L461.2 937.4M438.4 936.8L438.4 935.2L438.2 933.6L437.9 932.1L437.6 930.5L437.4 928.9M436.8 937.1L435.6 935.9L434.4 935L432.9 934.4L431.5 933.6M432.4 938.5L430.8 938.7M431.1 939.4L430 938.3M446 937.4L444.5 937.9L442.9 938.3L441.4 937.9L439.8 937.6L438.4 936.8L436.8 937.1L435.2 936.9L433.7 937.6L432.4 938.5L431.1 939.4M446.1 939L446.9 940.4L447.4 941.9L448 943.4L448.2 945L449.3 946.1M445 948.4L445.9 949.7L447.3 950.5M443.2 950.9L441.7 950.4L440.1 950.7L438.5 950.5L437.2 949.7M446 937.4L446.1 939L446.5 940.6L446.1 942.1L446.1 943.7L445.9 945.3L445.5 946.8L445 948.4L444.4 949.8L443.2 950.9L441.7 951.3" stroke-width="2.4"/></g>
<g fill="#ee55f0" opacity="1.0"><circle cx="438.2" cy="878.5" r="1.3"/><circle cx="448.1" cy="874.3" r="1.8"/><circle cx="450.4" cy="873.5" r="1.5"/><circle cx="455.2" cy="871" r="1.7"/><circle cx="455.5" cy="870.1" r="1.7"/><circle cx="457.9" cy="866.6" r="1.7"/><circle cx="461.1" cy="864.2" r="1.4"/><circle cx="462.4" cy="862" r="1.6"/><circle cx="462.4" cy="862.3" r="1.6"/><circle cx="443.2" cy="882.4" r="1.3"/><circle cx="445.1" cy="885.3" r="1.8"/><circle cx="446.1" cy="888.5" r="1.9"/><circle cx="448.3" cy="889.3" r="1.8"/><circle cx="449" cy="886.2" r="1.5"/><circle cx="450.5" cy="890.4" r="1.3"/><circle cx="451.3" cy="893.5" r="1.9"/><circle cx="453.1" cy="895.2" r="1.4"/><circle cx="451.2" cy="897.5" r="1.3"/><circle cx="455.9" cy="896.2" r="1.4"/><circle cx="458.6" cy="896.8" r="1"/><circle cx="455.4" cy="896.4" r="1.6"/><circle cx="427.6" cy="883.7" r="1.9"/><circle cx="421.6" cy="884.8" r="1.7"/><circle cx="420.4" cy="887.9" r="1.4"/><circle cx="416.6" cy="889.4" r="1.9"/><circle cx="412.7" cy="890.6" r="1.5"/><circle cx="407.3" cy="897.5" r="1.8"/><circle cx="397.8" cy="904.4" r="1.4"/><circle cx="395.6" cy="902.2" r="1.5"/><circle cx="427.8" cy="902.2" r="1.3"/><circle cx="425.8" cy="903.6" r="1.8"/><circle cx="423.3" cy="903.7" r="1.5"/><circle cx="419.5" cy="909" r="1.5"/><circle cx="415.5" cy="912.6" r="1.9"/><circle cx="416.5" cy="916" r="1.5"/><circle cx="413.3" cy="915.2" r="1.6"/><circle cx="413.2" cy="915.1" r="1.6"/><circle cx="453.8" cy="922.4" r="1.2"/><circle cx="459.3" cy="923.2" r="1.8"/><circle cx="466.5" cy="923.6" r="1.5"/><circle cx="470.5" cy="922.8" r="1.3"/><circle cx="470.7" cy="925.9" r="1.4"/><circle cx="476.2" cy="923.1" r="1.7"/><circle cx="478.8" cy="921.6" r="1.4"/><circle cx="418.5" cy="946.3" r="1.9"/><circle cx="414.4" cy="947.3" r="1.8"/><circle cx="410.8" cy="949.7" r="1.2"/><circle cx="408.1" cy="949.6" r="1.9"/><circle cx="406.5" cy="951.6" r="1.5"/><circle cx="402.3" cy="951.1" r="1.9"/><circle cx="402.6" cy="950.9" r="1.8"/><circle cx="460.2" cy="963.6" r="1.7"/><circle cx="462.4" cy="964.6" r="1.7"/><circle cx="462.4" cy="964.4" r="1.9"/><circle cx="446.4" cy="918.9" r="2"/><circle cx="453.7" cy="922.4" r="1.4"/><circle cx="452.1" cy="918.2" r="1.5"/><circle cx="452.7" cy="918.7" r="1.4"/><circle cx="457.7" cy="921" r="2"/><circle cx="459.9" cy="921.2" r="1.5"/><circle cx="462.8" cy="922.2" r="2"/><circle cx="456.4" cy="923.7" r="1.4"/><circle cx="464.7" cy="922.1" r="1.4"/><circle cx="466.4" cy="924.6" r="2.1"/><circle cx="465.4" cy="927" r="1.4"/><circle cx="465.9" cy="923.9" r="1.5"/><circle cx="449.1" cy="926.9" r="1.9"/><circle cx="451.1" cy="926.3" r="2"/><circle cx="455.1" cy="926.6" r="1.6"/><circle cx="456.7" cy="929" r="1.9"/><circle cx="460.1" cy="927.8" r="1.2"/><circle cx="459.9" cy="932.8" r="1.7"/><circle cx="458.4" cy="930.2" r="1.7"/><circle cx="461.9" cy="932.2" r="2"/><circle cx="465.5" cy="931.2" r="1.9"/><circle cx="467.1" cy="929.6" r="1.6"/><circle cx="470.1" cy="928.5" r="1.3"/><circle cx="469.7" cy="930.3" r="1.4"/><circle cx="469.5" cy="930.4" r="1.6"/><circle cx="450.5" cy="932.9" r="1.9"/><circle cx="454" cy="933.1" r="2.2"/><circle cx="455.5" cy="937.1" r="1.5"/><circle cx="458.6" cy="935.9" r="1.4"/><circle cx="459" cy="940.8" r="1.2"/><circle cx="462.2" cy="935.8" r="1.6"/><circle cx="468.6" cy="940.3" r="1.1"/><circle cx="465.1" cy="943.3" r="1.4"/><circle cx="469.4" cy="940" r="1.7"/><circle cx="470" cy="936.8" r="1.7"/><circle cx="472.1" cy="939.7" r="2"/><circle cx="473.5" cy="941.5" r="2"/><circle cx="472.4" cy="945.4" r="1.5"/><circle cx="474.1" cy="940.9" r="1.8"/><circle cx="448.8" cy="939.5" r="1.7"/><circle cx="453.1" cy="941.7" r="1.8"/><circle cx="455.2" cy="945.3" r="1.9"/><circle cx="458.1" cy="946.6" r="2"/><circle cx="460.1" cy="950.3" r="1.9"/><circle cx="443.8" cy="944.3" r="1.2"/><circle cx="447.5" cy="949.5" r="1.3"/><circle cx="448.8" cy="951.9" r="2.2"/><circle cx="449.1" cy="952.1" r="1.4"/><circle cx="453.7" cy="949.4" r="1.2"/><circle cx="458.1" cy="957.7" r="1.4"/><circle cx="461.8" cy="956.7" r="1.3"/><circle cx="461.7" cy="959.6" r="2.2"/><circle cx="461.2" cy="960.3" r="1.4"/><circle cx="460" cy="964.2" r="1.3"/><circle cx="464.8" cy="964.4" r="1.8"/><circle cx="443.9" cy="949.4" r="1.6"/><circle cx="445.1" cy="951.6" r="1.3"/><circle cx="443.2" cy="950.3" r="1"/><circle cx="446.1" cy="960.3" r="1.9"/><circle cx="443.2" cy="962" r="1.8"/><circle cx="441.4" cy="957.9" r="1.4"/><circle cx="445.7" cy="963.1" r="1.9"/><circle cx="447.8" cy="964.8" r="2.1"/><circle cx="444.7" cy="964.4" r="1.1"/><circle cx="451" cy="965.8" r="1.7"/><circle cx="450.5" cy="969" r="1.6"/><circle cx="453.8" cy="964.8" r="1.3"/><circle cx="455.4" cy="970.3" r="1.6"/><circle cx="436.3" cy="952.4" r="2"/><circle cx="437.1" cy="953.2" r="2.1"/><circle cx="433.8" cy="952.6" r="1.1"/><circle cx="436.6" cy="959.3" r="2.1"/><circle cx="436.5" cy="955" r="1.5"/><circle cx="431.7" cy="966" r="1.1"/><circle cx="436.8" cy="963.6" r="1.6"/><circle cx="435.2" cy="970" r="1.2"/><circle cx="434.1" cy="969.4" r="2"/><circle cx="434.3" cy="971.4" r="1.6"/><circle cx="435.3" cy="947.4" r="1.5"/><circle cx="435.3" cy="945.7" r="1.5"/><circle cx="430.6" cy="949.9" r="1.7"/><circle cx="427.4" cy="953.3" r="1.7"/><circle cx="425.3" cy="954.7" r="1.2"/><circle cx="428.3" cy="952.4" r="1.9"/><circle cx="427.2" cy="955" r="1.3"/><circle cx="426.9" cy="955.9" r="1.6"/><circle cx="426.2" cy="958.8" r="1.7"/><circle cx="423.3" cy="959.3" r="1.4"/><circle cx="424.7" cy="959.7" r="1.7"/><circle cx="426.1" cy="963.1" r="1.4"/><circle cx="420.7" cy="964.6" r="1.1"/><circle cx="420.2" cy="968.9" r="1.7"/><circle cx="418.4" cy="964.7" r="1.4"/><circle cx="420.2" cy="969.1" r="1.7"/><circle cx="427" cy="944.6" r="1.9"/><circle cx="428.6" cy="943.1" r="1.5"/><circle cx="425" cy="947" r="1.8"/><circle cx="423.8" cy="944.6" r="1.3"/><circle cx="424.3" cy="949" r="2"/><circle cx="422.6" cy="946.9" r="1.5"/><circle cx="422.7" cy="949" r="1.4"/><circle cx="416.6" cy="947" r="1.1"/><circle cx="419.7" cy="948.9" r="1.4"/><circle cx="417.4" cy="951.2" r="1.4"/><circle cx="415.3" cy="954" r="1.4"/><circle cx="410.4" cy="957.4" r="1.8"/><circle cx="409.6" cy="958.7" r="1.8"/><circle cx="409.8" cy="953.6" r="1.1"/><circle cx="408.1" cy="959.9" r="2.1"/><circle cx="408.5" cy="959.7" r="1.5"/><circle cx="431.9" cy="938.2" r="1.1"/><circle cx="424.4" cy="940.8" r="1.6"/><circle cx="423" cy="944.9" r="1.7"/><circle cx="422.9" cy="941.2" r="2.1"/><circle cx="424.5" cy="937" r="1.6"/><circle cx="421" cy="942.1" r="1.4"/><circle cx="418.6" cy="943.1" r="2.2"/><circle cx="416.8" cy="943.9" r="2.1"/><circle cx="414.2" cy="946.8" r="1.8"/><circle cx="417.3" cy="946.5" r="1.6"/><circle cx="412.4" cy="946.5" r="1.5"/><circle cx="413.8" cy="949.6" r="1.3"/><circle cx="410.8" cy="949.1" r="1.4"/><circle cx="433" cy="926.5" r="1.5"/><circle cx="429" cy="930" r="2.1"/><circle cx="432.8" cy="932.8" r="1"/><circle cx="423.7" cy="929" r="1.5"/><circle cx="424.5" cy="933.8" r="1.8"/><circle cx="423.6" cy="935.4" r="1.8"/><circle cx="423.5" cy="938.1" r="1.6"/><circle cx="419.4" cy="940.2" r="1.1"/><circle cx="422.5" cy="940.7" r="2.2"/><circle cx="420.5" cy="942.7" r="2"/><circle cx="420.2" cy="942.1" r="1.6"/><circle cx="437.3" cy="925.4" r="1.9"/><circle cx="434.4" cy="927.7" r="2"/><circle cx="436.5" cy="929.2" r="2.1"/><circle cx="436.4" cy="932.4" r="1.7"/><circle cx="433.8" cy="932.4" r="1.9"/><circle cx="434.6" cy="933.7" r="1.6"/><circle cx="433.9" cy="929" r="1.1"/><circle cx="433.7" cy="937.2" r="2.1"/><circle cx="433.2" cy="941.9" r="1.1"/><circle cx="436.6" cy="942.1" r="1.5"/><circle cx="435.6" cy="925.1" r="2.1"/><circle cx="441.9" cy="928.6" r="1.4"/><circle cx="443.6" cy="929.8" r="1.4"/><circle cx="446.8" cy="930.2" r="1.1"/><circle cx="445.3" cy="935.3" r="1.7"/><circle cx="446" cy="942.1" r="1.3"/><circle cx="449.4" cy="923" r="1.8"/><circle cx="448.9" cy="922.7" r="1.6"/><circle cx="449.6" cy="925.4" r="1.5"/><circle cx="455.9" cy="926.4" r="1.4"/><circle cx="450.8" cy="928.1" r="2"/><circle cx="450.5" cy="930.3" r="1.6"/><circle cx="450.5" cy="927.2" r="1.1"/><circle cx="450" cy="929.8" r="1.5"/><circle cx="452.7" cy="936.8" r="1.3"/><circle cx="452.7" cy="937.1" r="1.7"/><circle cx="454.1" cy="937.4" r="1.5"/><circle cx="452.5" cy="933" r="1.1"/><circle cx="455.4" cy="942.1" r="1.3"/><circle cx="443.6" cy="936.7" r="2.2"/><circle cx="440.4" cy="936.8" r="1.4"/><circle cx="442.8" cy="928.8" r="2"/><circle cx="442.6" cy="925.6" r="2.1"/><circle cx="444.1" cy="933" r="1.9"/><circle cx="441.7" cy="930.3" r="1.5"/><circle cx="440.2" cy="936.7" r="1.2"/><circle cx="442.7" cy="924.3" r="1.6"/><circle cx="438.8" cy="927" r="1.7"/><circle cx="450.9" cy="941.7" r="1.4"/><circle cx="453.9" cy="936.3" r="1.5"/><circle cx="456.2" cy="934.2" r="1.7"/><circle cx="458.9" cy="933" r="1.8"/><circle cx="451.7" cy="943.5" r="1.3"/><circle cx="458.9" cy="932.7" r="1.4"/><circle cx="454.5" cy="945.8" r="1.8"/><circle cx="447.1" cy="938.2" r="1.7"/><circle cx="448" cy="941.4" r="1.6"/><circle cx="449.4" cy="944.7" r="2"/><circle cx="455.3" cy="947.7" r="1.6"/><circle cx="458.1" cy="944.9" r="1.5"/><circle cx="455.2" cy="947.4" r="1.7"/><circle cx="440.8" cy="943" r="1.6"/><circle cx="438.8" cy="947.4" r="1.5"/><circle cx="442.5" cy="947.9" r="1.3"/><circle cx="444.6" cy="938.5" r="1.6"/><circle cx="439.8" cy="942.5" r="1.9"/><circle cx="438.2" cy="944.5" r="1.8"/><circle cx="436.9" cy="947.9" r="1.6"/><circle cx="438.4" cy="945.1" r="1.4"/><circle cx="442.2" cy="948" r="1.8"/><circle cx="436.1" cy="949" r="1.2"/><circle cx="445.7" cy="935.8" r="1.8"/><circle cx="445.1" cy="932.7" r="1.5"/><circle cx="442.8" cy="927" r="1.4"/><circle cx="445.3" cy="924" r="1.7"/><circle cx="442.4" cy="925.6" r="1.2"/><circle cx="448.5" cy="945" r="1.6"/><circle cx="454" cy="938.8" r="1.3"/><circle cx="447.2" cy="937.6" r="2"/><circle cx="450.8" cy="939.2" r="1.3"/><circle cx="453.6" cy="938" r="2.1"/><circle cx="456.1" cy="937.8" r="2"/><circle cx="447.3" cy="946.4" r="1.4"/><circle cx="455.3" cy="939.7" r="1.8"/><circle cx="461.2" cy="937.4" r="1.5"/><circle cx="438.3" cy="935.1" r="2.1"/><circle cx="437.9" cy="931.9" r="1.8"/><circle cx="437.4" cy="929" r="1.6"/><circle cx="435.6" cy="936" r="1.4"/><circle cx="433.2" cy="934" r="1.6"/><circle cx="430.5" cy="938.4" r="2.2"/><circle cx="430.4" cy="938.1" r="1.5"/><circle cx="444" cy="937.6" r="1.9"/><circle cx="438.4" cy="937" r="1.5"/><circle cx="434.8" cy="936.4" r="2.1"/><circle cx="432.6" cy="938.2" r="2"/><circle cx="437.4" cy="928.9" r="1.1"/><circle cx="431.5" cy="933.6" r="1.6"/><circle cx="430.8" cy="938.7" r="1.5"/><circle cx="430" cy="938.3" r="1.5"/><circle cx="431.1" cy="939.4" r="1.7"/><circle cx="448.2" cy="943.3" r="1.5"/><circle cx="449.6" cy="946.3" r="1.4"/><circle cx="445.5" cy="949.8" r="1.8"/><circle cx="438.5" cy="950.6" r="1.3"/><circle cx="446.4" cy="938.7" r="1.7"/><circle cx="445.6" cy="942.6" r="1.4"/><circle cx="445.6" cy="945" r="1.5"/><circle cx="445.1" cy="948.7" r="2.2"/><circle cx="443.6" cy="950.6" r="1.5"/><circle cx="449.3" cy="946.1" r="1.4"/><circle cx="447.3" cy="950.5" r="1.3"/><circle cx="437.2" cy="949.7" r="1.2"/><circle cx="441.7" cy="951.3" r="1.3"/></g>
<g fill="#ffc8ff"><circle cx="459.3" cy="923.2" r="1.1"/><circle cx="466.5" cy="923.6" r="0.9"/><circle cx="459.9" cy="921.2" r="0.9"/><circle cx="465.4" cy="927" r="0.8"/><circle cx="465.9" cy="923.9" r="0.9"/><circle cx="451.1" cy="926.3" r="1.5"/><circle cx="455.1" cy="926.6" r="1.2"/><circle cx="460.1" cy="927.8" r="0.9"/><circle cx="461.9" cy="932.2" r="1.5"/><circle cx="465.5" cy="931.2" r="1.2"/><circle cx="467.1" cy="929.6" r="1"/><circle cx="450.5" cy="932.9" r="1.1"/><circle cx="454" cy="933.1" r="1.6"/><circle cx="459" cy="940.8" r="0.9"/><circle cx="473.5" cy="941.5" r="1.2"/><circle cx="448.8" cy="939.5" r="1.3"/><circle cx="453.1" cy="941.7" r="1.3"/><circle cx="455.2" cy="945.3" r="1.4"/><circle cx="458.1" cy="946.6" r="1.5"/><circle cx="443.8" cy="944.3" r="0.9"/><circle cx="458.1" cy="957.7" r="0.9"/><circle cx="461.2" cy="960.3" r="0.8"/><circle cx="445.1" cy="951.6" r="1"/><circle cx="443.2" cy="950.3" r="0.6"/><circle cx="443.2" cy="962" r="1.1"/><circle cx="441.4" cy="957.9" r="0.8"/><circle cx="435.3" cy="947.4" r="1.1"/><circle cx="435.3" cy="945.7" r="1.1"/><circle cx="427.4" cy="953.3" r="1"/><circle cx="426.9" cy="955.9" r="1"/><circle cx="431.9" cy="938.2" r="0.8"/><circle cx="429" cy="930" r="1.3"/><circle cx="423.7" cy="929" r="0.9"/><circle cx="422.5" cy="940.7" r="1.3"/><circle cx="437.3" cy="925.4" r="1.4"/><circle cx="434.4" cy="927.7" r="1.5"/><circle cx="436.5" cy="929.2" r="1.6"/><circle cx="436.4" cy="932.4" r="1.3"/><circle cx="433.8" cy="932.4" r="1.4"/><circle cx="434.6" cy="933.7" r="1.2"/><circle cx="433.9" cy="929" r="0.8"/><circle cx="436.6" cy="942.1" r="1.1"/><circle cx="441.9" cy="928.6" r="1.1"/><circle cx="446.8" cy="930.2" r="0.8"/><circle cx="446" cy="942.1" r="1"/><circle cx="448.9" cy="922.7" r="1.2"/><circle cx="449.6" cy="925.4" r="1.2"/><circle cx="450.8" cy="928.1" r="1.5"/><circle cx="450.5" cy="930.3" r="1.2"/><circle cx="450" cy="929.8" r="1.1"/><circle cx="452.7" cy="937.1" r="1.2"/><circle cx="452.5" cy="933" r="0.8"/><circle cx="443.6" cy="936.7" r="1.6"/><circle cx="440.4" cy="936.8" r="1"/><circle cx="440.2" cy="936.7" r="0.9"/><circle cx="442.7" cy="924.3" r="0.9"/><circle cx="438.8" cy="927" r="1.3"/><circle cx="450.9" cy="941.7" r="1"/><circle cx="453.9" cy="936.3" r="1.1"/><circle cx="456.2" cy="934.2" r="1.3"/><circle cx="458.9" cy="932.7" r="1"/><circle cx="455.3" cy="947.7" r="1.2"/><circle cx="458.1" cy="944.9" r="1.2"/><circle cx="455.2" cy="947.4" r="1.3"/><circle cx="440.8" cy="943" r="1.2"/><circle cx="438.8" cy="947.4" r="1.1"/><circle cx="444.6" cy="938.5" r="1.2"/><circle cx="438.2" cy="944.5" r="1.1"/><circle cx="442.2" cy="948" r="1.3"/><circle cx="445.1" cy="932.7" r="1.1"/><circle cx="442.8" cy="927" r="1"/><circle cx="445.3" cy="924" r="1.3"/><circle cx="442.4" cy="925.6" r="0.9"/><circle cx="448.5" cy="945" r="1.2"/><circle cx="447.2" cy="937.6" r="1.5"/><circle cx="450.8" cy="939.2" r="1"/><circle cx="453.6" cy="938" r="1.3"/><circle cx="437.9" cy="931.9" r="1.3"/><circle cx="437.4" cy="929" r="1.2"/><circle cx="435.6" cy="936" r="1"/><circle cx="430.5" cy="938.4" r="1.6"/><circle cx="430.4" cy="938.1" r="1.1"/><circle cx="444" cy="937.6" r="1.1"/><circle cx="438.4" cy="937" r="1.1"/><circle cx="434.8" cy="936.4" r="1.6"/><circle cx="437.4" cy="928.9" r="0.8"/><circle cx="431.5" cy="933.6" r="1.2"/><circle cx="448.2" cy="943.3" r="1.1"/><circle cx="445.5" cy="949.8" r="1.1"/><circle cx="438.5" cy="950.6" r="0.8"/><circle cx="445.6" cy="942.6" r="1"/><circle cx="443.6" cy="950.6" r="1.1"/><circle cx="449.3" cy="946.1" r="0.9"/><circle cx="447.3" cy="950.5" r="0.9"/><circle cx="437.2" cy="949.7" r="0.9"/></g>
</g>
<defs><linearGradient id="fade3" x1="0" x2="0" y1="0" y2="1"><stop offset="0" stop-color="#050106" stop-opacity="0.7"/><stop offset="1" stop-color="#050106" stop-opacity="0"/></linearGradient></defs>
<rect x="422" y="772" width="30" height="85" fill="url(#fade3)"/>
<circle cx="447.1" cy="770.6" r="4.8" fill="#6e5a74" opacity="0.85" filter="url(#blur2)"/>
<rect x="426.1" y="829.1" width="4.5" height="1.8" fill="#f5d8f5" filter="url(#blur1)"/>
<polygon points="422.8,830 407.8,825 412.3,830 407.8,835" fill="#fff"/>
<polygon points="402.6,944.7 407.6,929.7 402.6,934.2 397.6,929.7" fill="#fff"/>
<polygon points="454.4,970.6 449.4,985.6 454.4,981.1 459.4,985.6" fill="#fff"/>
<text x="374.6" y="772.6" font-size="20" font-family="Liberation Sans, sans-serif" fill="#fff">8dpf</text>
<text x="515.7" y="979.7" font-size="16.8" text-anchor="end" font-family="Liberation Sans, sans-serif" fill="#dc3ede">mKate2f</text>
<text x="516.6" y="998.7" font-size="16.8" text-anchor="end" font-family="Liberation Sans, sans-serif" fill="#38dc42">FingR(PSD95)</text>
</g>
<clipPath id="clip3"><rect x="525.0" y="749.9" width="153.9" height="258.3"/></clipPath>
<g clip-path="url(#clip3)">
<rect x="525.0" y="749.9" width="153.9" height="258.3" fill="#040105"/>
<polygon points="555.6,750.3 678.4,750.3 678.4,832.1 644.1,982.6 562.2,993.2 525.3,929.8 525.3,892.8" fill="#09030f" filter="url(#blur2)"/>
<polygon points="624.5,904.6 652.6,906.9 643.2,965.6 605.7,977.3 578.7,977.3 589.3,972.6 622.1,956.2" fill="#10482a" opacity="0.7" filter="url(#blur6)"/>
<polygon points="551.7,965.6 589.3,972.6 575.2,989 547,977.3" fill="#0c2c18" opacity="0.6" filter="url(#blur6)"/>
<circle cx="573.9" cy="826.2" r="0.6" fill="#3a9a6a" opacity="0.61"/><circle cx="597.4" cy="811.4" r="0.6" fill="#3a9a6a" opacity="0.30"/><circle cx="549.9" cy="992.7" r="0.5" fill="#3a9a6a" opacity="0.21"/><circle cx="558.1" cy="834.1" r="0.8" fill="#3a9a6a" opacity="0.39"/><circle cx="613" cy="838.6" r="0.7" fill="#3a9a6a" opacity="0.63"/><circle cx="647.3" cy="885.5" r="0.5" fill="#3a9a6a" opacity="0.46"/><circle cx="561.2" cy="854.2" r="0.6" fill="#3a9a6a" opacity="0.62"/><circle cx="575.6" cy="986.5" r="0.7" fill="#3a9a6a" opacity="0.59"/><circle cx="660.1" cy="896.7" r="0.7" fill="#3a9a6a" opacity="0.35"/><circle cx="641.6" cy="778.8" r="0.5" fill="#3a9a6a" opacity="0.68"/><circle cx="612.3" cy="787.6" r="0.6" fill="#3a9a6a" opacity="0.25"/><circle cx="671.8" cy="770.3" r="0.7" fill="#3a9a6a" opacity="0.23"/><circle cx="572.1" cy="855.4" r="0.6" fill="#3a9a6a" opacity="0.59"/><circle cx="545.5" cy="925.6" r="0.7" fill="#3a9a6a" opacity="0.70"/><circle cx="623.3" cy="894.7" r="0.9" fill="#3a9a6a" opacity="0.46"/><circle cx="641.8" cy="845.7" r="1.0" fill="#3a9a6a" opacity="0.37"/><circle cx="667.1" cy="904.5" r="0.5" fill="#3a9a6a" opacity="0.24"/><circle cx="565" cy="823.5" r="0.5" fill="#3a9a6a" opacity="0.42"/><circle cx="568.3" cy="838.8" r="0.5" fill="#3a9a6a" opacity="0.51"/><circle cx="561.1" cy="848.6" r="0.5" fill="#3a9a6a" opacity="0.29"/><circle cx="554.1" cy="839.6" r="1.0" fill="#3a9a6a" opacity="0.43"/><circle cx="611.2" cy="791.4" r="0.7" fill="#3a9a6a" opacity="0.65"/><circle cx="578.1" cy="894.2" r="0.8" fill="#3a9a6a" opacity="0.24"/><circle cx="615.2" cy="838.6" r="0.5" fill="#3a9a6a" opacity="0.22"/><circle cx="550.5" cy="923.8" r="1.0" fill="#3a9a6a" opacity="0.48"/><circle cx="614.2" cy="902.3" r="0.7" fill="#3a9a6a" opacity="0.56"/><circle cx="658.9" cy="861.1" r="0.6" fill="#3a9a6a" opacity="0.49"/><circle cx="532.2" cy="872.3" r="0.8" fill="#3a9a6a" opacity="0.41"/><circle cx="539.2" cy="932.5" r="0.7" fill="#3a9a6a" opacity="0.53"/><circle cx="555" cy="856.7" r="0.5" fill="#3a9a6a" opacity="0.38"/><circle cx="593.4" cy="851.2" r="0.7" fill="#3a9a6a" opacity="0.55"/><circle cx="557.2" cy="832.9" r="0.7" fill="#3a9a6a" opacity="0.26"/><circle cx="558" cy="799.4" r="0.9" fill="#3a9a6a" opacity="0.52"/><circle cx="549.1" cy="886.9" r="0.5" fill="#3a9a6a" opacity="0.35"/><circle cx="660.9" cy="932.9" r="0.5" fill="#3a9a6a" opacity="0.61"/><circle cx="588.9" cy="921.5" r="0.6" fill="#3a9a6a" opacity="0.50"/><circle cx="667" cy="856" r="0.7" fill="#3a9a6a" opacity="0.66"/><circle cx="552.6" cy="972.3" r="1.0" fill="#3a9a6a" opacity="0.42"/><circle cx="604" cy="830.1" r="1.0" fill="#3a9a6a" opacity="0.65"/><circle cx="597.7" cy="894.7" r="0.7" fill="#3a9a6a" opacity="0.25"/><circle cx="620.4" cy="792.7" r="0.9" fill="#3a9a6a" opacity="0.28"/><circle cx="533.5" cy="851.7" r="0.5" fill="#3a9a6a" opacity="0.26"/><circle cx="603.4" cy="887.1" r="0.5" fill="#3a9a6a" opacity="0.67"/><circle cx="577.6" cy="996" r="0.5" fill="#3a9a6a" opacity="0.39"/><circle cx="658.7" cy="886.5" r="1.0" fill="#3a9a6a" opacity="0.60"/>
<circle cx="619.6" cy="922.1" r="0.7" fill="#2fae62" opacity="0.31"/><circle cx="637" cy="958.2" r="0.6" fill="#2fae62" opacity="0.32"/><circle cx="649.4" cy="962" r="0.5" fill="#2fae62" opacity="0.22"/><circle cx="629.4" cy="957" r="0.8" fill="#2fae62" opacity="0.33"/><circle cx="627.1" cy="920.3" r="0.6" fill="#2fae62" opacity="0.47"/><circle cx="641.6" cy="937.8" r="0.5" fill="#2fae62" opacity="0.26"/><circle cx="648" cy="914.8" r="0.9" fill="#2fae62" opacity="0.28"/><circle cx="634.6" cy="937.5" r="0.8" fill="#2fae62" opacity="0.55"/><circle cx="625.6" cy="940.8" r="0.7" fill="#2fae62" opacity="0.51"/><circle cx="626.9" cy="922.1" r="0.6" fill="#2fae62" opacity="0.41"/><circle cx="646.6" cy="925.9" r="0.6" fill="#2fae62" opacity="0.29"/><circle cx="620.8" cy="914" r="0.6" fill="#2fae62" opacity="0.54"/><circle cx="636.5" cy="962.4" r="0.5" fill="#2fae62" opacity="0.56"/><circle cx="634.7" cy="950.8" r="0.5" fill="#2fae62" opacity="0.55"/><circle cx="646.3" cy="955.8" r="0.6" fill="#2fae62" opacity="0.33"/><circle cx="634" cy="939.5" r="0.6" fill="#2fae62" opacity="0.27"/><circle cx="637.2" cy="940.7" r="0.7" fill="#2fae62" opacity="0.27"/><circle cx="641.8" cy="943.3" r="0.9" fill="#2fae62" opacity="0.29"/><circle cx="628" cy="951.5" r="0.5" fill="#2fae62" opacity="0.42"/><circle cx="617.5" cy="917.3" r="0.9" fill="#2fae62" opacity="0.41"/><circle cx="618.2" cy="912.8" r="0.5" fill="#2fae62" opacity="0.35"/><circle cx="644.3" cy="925.9" r="0.5" fill="#2fae62" opacity="0.28"/><circle cx="642.4" cy="946.4" r="0.8" fill="#2fae62" opacity="0.47"/><circle cx="628.9" cy="952" r="0.7" fill="#2fae62" opacity="0.55"/><circle cx="648.7" cy="931.4" r="0.5" fill="#2fae62" opacity="0.47"/><circle cx="633" cy="950.3" r="0.6" fill="#2fae62" opacity="0.29"/><circle cx="644.9" cy="956.7" r="0.8" fill="#2fae62" opacity="0.48"/><circle cx="644.8" cy="958.4" r="0.5" fill="#2fae62" opacity="0.51"/><circle cx="623.3" cy="912.5" r="0.7" fill="#2fae62" opacity="0.27"/><circle cx="618" cy="965.9" r="0.7" fill="#2fae62" opacity="0.53"/><circle cx="644.1" cy="909.4" r="0.5" fill="#2fae62" opacity="0.45"/><circle cx="648.9" cy="957.3" r="0.6" fill="#2fae62" opacity="0.57"/><circle cx="632.4" cy="936.7" r="0.5" fill="#2fae62" opacity="0.48"/><circle cx="617" cy="935.1" r="0.6" fill="#2fae62" opacity="0.25"/><circle cx="634.2" cy="936.2" r="0.8" fill="#2fae62" opacity="0.59"/><circle cx="622.4" cy="936" r="0.8" fill="#2fae62" opacity="0.32"/><circle cx="630.4" cy="936.2" r="0.5" fill="#2fae62" opacity="0.32"/><circle cx="627.4" cy="914.8" r="0.5" fill="#2fae62" opacity="0.51"/><circle cx="638.1" cy="966.9" r="0.8" fill="#2fae62" opacity="0.27"/><circle cx="622.9" cy="950.3" r="0.5" fill="#2fae62" opacity="0.39"/><circle cx="622.7" cy="937.2" r="0.9" fill="#2fae62" opacity="0.27"/><circle cx="636.7" cy="924.6" r="0.8" fill="#2fae62" opacity="0.27"/><circle cx="649" cy="967.2" r="0.5" fill="#2fae62" opacity="0.59"/><circle cx="650.9" cy="918.7" r="0.7" fill="#2fae62" opacity="0.42"/><circle cx="643.9" cy="940.5" r="0.6" fill="#2fae62" opacity="0.51"/><circle cx="630.8" cy="924.8" r="0.7" fill="#2fae62" opacity="0.30"/><circle cx="623.5" cy="953.8" r="0.6" fill="#2fae62" opacity="0.54"/><circle cx="626.5" cy="943.6" r="0.8" fill="#2fae62" opacity="0.45"/><circle cx="619.7" cy="964.8" r="0.6" fill="#2fae62" opacity="0.30"/><circle cx="620.7" cy="916.2" r="0.8" fill="#2fae62" opacity="0.40"/><circle cx="645.4" cy="919.2" r="0.8" fill="#2fae62" opacity="0.47"/><circle cx="649" cy="935.2" r="0.7" fill="#2fae62" opacity="0.25"/><circle cx="626.8" cy="926.3" r="0.7" fill="#2fae62" opacity="0.46"/><circle cx="622.6" cy="955.5" r="0.8" fill="#2fae62" opacity="0.52"/><circle cx="622" cy="970.2" r="0.9" fill="#2fae62" opacity="0.25"/><circle cx="627.1" cy="937.4" r="0.5" fill="#2fae62" opacity="0.42"/><circle cx="634.6" cy="944.9" r="0.9" fill="#2fae62" opacity="0.41"/><circle cx="625.9" cy="922.8" r="0.8" fill="#2fae62" opacity="0.47"/><circle cx="645.1" cy="971.1" r="0.7" fill="#2fae62" opacity="0.28"/><circle cx="618" cy="944.9" r="0.6" fill="#2fae62" opacity="0.39"/><circle cx="630" cy="948.3" r="0.8" fill="#2fae62" opacity="0.29"/><circle cx="616.6" cy="961.1" r="0.8" fill="#2fae62" opacity="0.45"/><circle cx="616.4" cy="935.6" r="0.6" fill="#2fae62" opacity="0.21"/><circle cx="634.4" cy="957.6" r="0.6" fill="#2fae62" opacity="0.58"/><circle cx="650.2" cy="970" r="0.8" fill="#2fae62" opacity="0.58"/><circle cx="634.7" cy="945.3" r="0.5" fill="#2fae62" opacity="0.32"/><circle cx="625.2" cy="925.2" r="0.8" fill="#2fae62" opacity="0.33"/><circle cx="621.3" cy="968.2" r="0.8" fill="#2fae62" opacity="0.42"/><circle cx="619.9" cy="916.7" r="0.9" fill="#2fae62" opacity="0.43"/><circle cx="626" cy="909.5" r="0.8" fill="#2fae62" opacity="0.47"/>
<g filter="url(#blur2)" opacity="0.8" fill="none" stroke="#a81cb0" stroke-linecap="round" stroke-linejoin="round"><path d="M582.8 773.5C582.3 774.1 580.9 775.8 579.9 777C578.9 778.2 577.8 779.7 576.9 780.7C575.9 781.8 574.7 782 574.1 783.3C573.6 784.6 573.7 786.6 573.5 788.4C573.3 790.1 573.1 792 572.9 793.6C572.7 795.2 572.3 796.4 572.3 797.8C572.2 799.2 572.5 800.5 572.5 801.8C572.4 803.2 572.1 804.7 572.1 806C572 807.3 572.2 808.1 572.2 809.5C572.3 810.9 572.4 813 572.4 814.4C572.4 815.8 572.1 816.5 572.1 817.9C572.1 819.2 572.4 821.1 572.4 822.5C572.5 823.8 572.7 824.7 572.6 826.1C572.5 827.4 571.8 829.1 571.7 830.6C571.7 832 572.1 833.3 572.3 834.8C572.4 836.2 572.6 838.1 572.6 839.4C572.7 840.8 572.3 841.7 572.5 843C572.7 844.3 573.6 845.8 573.8 847.2C574.1 848.6 573.8 850 573.8 851.4C573.9 852.8 574.3 854.4 574.1 855.9C574 857.3 572.7 858.6 572.8 860C573 861.4 574.4 862.8 575.2 864.1C576 865.4 576.9 866.5 577.7 867.8C578.5 869 579.1 870.5 579.9 871.7C580.7 873 581.7 874.1 582.5 875.4C583.3 876.7 583.9 878.2 584.7 879.6C585.4 880.9 586.4 881.9 586.9 883.5C587.5 885 587.4 887.3 587.9 889C588.4 890.7 589.3 892.1 589.9 893.7C590.5 895.3 591.1 897.2 591.6 898.7C592.2 900.2 592.7 901.3 593.2 902.9C593.7 904.5 594 906.6 594.5 908.3C595 909.9 596 911.4 596.3 912.8C596.6 914.2 596.2 915.4 596.4 916.9C596.5 918.3 597.1 920 597.3 921.4C597.5 922.9 597.1 924.2 597.5 925.7C597.8 927.2 598.9 928.9 599.5 930.5C600.1 932.1 600.7 934.3 601 935.1M585.7 895.2C585.6 895.9 585.1 898.2 585.1 899.7C585.1 901.3 585.8 903 585.7 904.5C585.6 906.1 584.7 907.9 584.6 909.3C584.5 910.6 584.9 911.4 584.9 912.8C585 914.1 585 915.7 585 917.2C585.1 918.7 585.1 920.3 585.2 921.7C585.3 923.1 585.3 924.2 585.7 925.7C586.2 927.2 587.2 929.4 588 931C588.8 932.5 590 934.4 590.4 935.1" stroke-width="3.2"/><path d="M586.9 883.5L589.8 882.6L593.2 880.7L595.1 881.1L597.6 880.2L598.7 878.1L600.9 878.3L603.3 875.2L604.8 872.8L606.9 871.5L608.1 869.6L610.1 867.4L611.6 865.9M594 883.5L594.8 885.2L598.5 885.4L599.8 887.1L599.9 888.7L603.3 889.3L605.5 891.8L609.3 890.5L611.6 891.7M586.9 888.2L585.4 889.9L582.8 891.9L583.4 894L581.1 896.4M584.6 896.4L581.1 897.9L580.5 898.2L578.6 899.1L575.2 899.9L573 901.1L569.7 901.2L568.2 902.8L565.4 904.4L563.5 905.7L562.2 905.7L560.2 907.9L558.6 910.1L555.4 910.8L554.8 911.7L551.7 912.8L549.6 912.8L547.9 915.1L545.9 916.3M575.2 899.9L575.8 897.8L574.6 894.6M563.5 905.2L562.7 901.8L562.9 899.9M575.2 914.5L573.1 915.8L570.5 918.7M605.7 930.4L607.9 929.8L610.4 929L613.2 928.6L614.7 928.7L618.8 927.2L619.8 926.9L621.7 925.7L624.3 924.7L627.6 922.8L627.9 922.4L630.4 920.6L632.7 920.1M597.5 936.2L596.8 938L593.8 939.3L591.4 940.2L589.1 941.4L587.7 941.9L586.4 944.8L584.1 946.4L582.9 947L580.9 949L577.8 950.2L576.4 951.3L574.9 953.3L573.5 954.5L571.4 957.3L569.3 958.5L567.2 959.4L565.8 961.5L564.1 963.4L562.4 964.6L561.1 966.7M597.5 936.2L596 938.2L595.2 939.7L593.4 941.7L591.7 943.6L590.3 945.8L589 947.7L586.6 947.8L586.8 949.7L584.6 951.7L583.6 952.6L582.3 955.7L582.1 957.7L579.7 958.9L577.7 960.7L576.7 963.1L574.9 964.2L574.4 966.5L572.6 967L571.7 970.3M597.5 936.2L596.8 937.9L594.7 939.9L594.7 943L592.5 944.5L591.9 946.1L591.2 948.7L590.7 950.9L588.6 952.6L587.6 954.9L586 956.3L583.4 957.3L583 959.6L582.1 962.7L580.5 963.4L578.7 965.6M597.5 936.2L596.7 938.3L597.5 940L596.2 943.5L595.2 945.5L595.4 946.8L594.9 951.2L596 953.2L593.1 954.9L593.6 957L592.8 958.4L591.2 961.4L590.3 963.9L589.5 965.4L588.6 968.3L588.4 970.6L586.9 972.6M597.5 936.2L597.3 938L597.3 941L596.1 943L598 945.4L596.6 947.6L596.3 949.6L595.8 952.1L595.2 953.9L595.3 955.5L595.5 958.6L595 962.5L594.3 962.8L594.5 965L593.5 968.1L594 970.3M597.5 936.2L598.7 938.4L598.2 940.6L599.5 942.9L599.9 946.4L600.8 947.6L600.4 949.6L601.6 951.1L601.2 954.6L603.1 955.7L602.1 957.9L603.9 962L603.3 963.2M597.5 936.2L599.6 938L601.3 940.7L602 941.9L603.6 944.2L604.7 944.9L607.2 946.5L608.5 949.2L608.4 951.1L609 954L611.7 956.1L612.4 957.2L613.2 960.5L613.7 961.6L616.8 963.1L616.2 965.6M597.5 936.2L598.5 937.2L601.3 940L602.9 941.3L604.2 943.4L605.5 944.9L607.6 946.2L609.2 949L610.4 950.2L613 952.3L614.8 953.1L617.5 954.7L618.8 956.1L620.2 957.5L621.7 959L624.5 960.9M597.5 936.2L600.4 937.8L600.9 939.7L603.2 941.1L604.4 942.3L607.1 944.8L608.1 945.9L610.1 948.5L611.1 949.9L613.9 951.9L615.1 953.8M597.5 936.2L599.3 936.4L601.8 936.5L604.2 934.9L606.7 936.1L607.4 935.5L611 935L613.1 934.3L614.9 936L618 935.6L620.3 935.6L621.8 934.6L625.9 936.7L627.4 936.8L629.1 936.2M597.5 936.2L600.3 936.1L602.1 938.1L604.1 938.9L606.7 939.6L609.4 939.9L611.7 940.7L614.5 940.6L616.8 940.4L619.5 940.9L622.1 942.1M597.5 936.2L601.1 934.8L603.9 933.1L605.9 934.1L607.7 932.3L608 931.4L610.4 929.2M597.5 936.2L596.6 937.3L593.7 940.8L593.1 943.7L591.5 945.2L590.7 947L589.3 949.1M597.5 936.2L600.2 938.6L601.8 940.7L603.8 943.4L604.9 944.6L605.7 946.8" stroke-width="3.9"/><path d="M599.9 888.7L598.5 889.6L597 889.9M582.8 891.9L581.2 892L579.7 891.4M583.4 894L582.5 895.3L581.2 896.3M581.1 896.4L582 897.7L583.3 898.6M575.2 899.9L575.7 901.4L576.6 902.8M563.5 905.7L564.9 906.5L566.2 907.3M570.5 918.7L569.7 917.3L568.9 915.9L568.6 914.3M593.8 939.3L594.1 940.9L593.9 942.5M591.4 940.2L592.7 941.2L594.1 941.9L595.6 942.5M589.1 941.4L587.6 940.7L586.2 940.1M586.4 944.8L587.8 943.9L589 942.9M567.2 959.4L565.6 959.3L564 959.3M565.8 961.5L564.5 962.4L563 963M562.4 964.6L562.1 963L561.9 961.4M595.2 939.7L595.6 941.3L596.2 942.8M589 947.7L588.6 946.1L588.1 944.6M594.7 939.9L593.3 940.8L591.8 941.3L590.5 942.1M594.7 943L593.8 944.3L593.2 945.8M591.2 948.7L592.1 947.4L592.3 945.8M590.7 950.9L589.3 950.1L588 949.3M588.6 952.6L590.2 952.4L591.7 952L593.3 952.1M582.1 962.7L580.6 962.8L579 962.7M580.5 963.4L581 961.9L582 960.6M596.2 943.5L595.4 944.9L594.5 946.3L593.7 947.7M595.2 945.5L595.4 943.9L595.9 942.4M595.4 946.8L596.9 947.5L598 948.6M594.9 951.2L593.5 952L591.9 952.4L590.4 952.9M592.8 958.4L594.2 957.5L595.2 956.3L596 955M590.3 963.9L589.7 965.4L588.8 966.8M588.4 970.6L589.1 972L589.9 973.5L590.1 975M597.3 941L595.7 940.8L594.1 940.5M596.3 949.6L597.9 949.4L599.5 949.3M595.8 952.1L595.4 950.6L595.1 949M595.2 953.9L595 955.5L594.6 957L594.1 958.6M595.3 955.5L596.8 956.1L598 957.2L599.2 958.2M595.5 958.6L596.5 957.3L597.8 956.5L599.1 955.5M594 970.3L592.4 970.5L590.9 971M600.4 949.6L599.9 948.1L599.6 946.6L599.4 945M601.6 951.1L602.9 950.1L603.9 948.9M601.2 954.6L600.1 953.4L599 952.2M602.1 957.9L601.3 956.6L600.8 955L599.9 953.7M603.9 962L602.5 962.7L601 963.4L599.9 964.6M603.6 944.2L604.1 942.7L603.6 941.1M607.2 946.5L607.1 944.9L606.7 943.3M608.5 949.2L609.4 947.9L610.3 946.6M611.7 956.1L611.3 957.6L610.7 959.1L610.3 960.7M616.2 965.6L617.2 964.3L618.6 963.5M601.3 940L601.5 938.5L602.1 937M605.5 944.9L605.1 943.4L604.4 942M607.6 946.2L607.9 947.7L607.4 949.3L607.4 950.9M613 952.3L613.2 953.8L612.4 955.2M617.5 954.7L617.5 953.1L617.6 951.5M618.8 956.1L620.3 956.4L621.6 957.3M603.2 941.1L601.6 940.8L600.1 941.2L598.5 941.3M610.1 948.5L610.5 950L610.7 951.6M611.1 949.9L612.6 950.6L614.2 950.5M601.8 936.5L600.2 936.2L598.8 935.5M604.2 934.9L605.8 935.4L607.3 935.7L608.9 935.7M611 935L610.6 933.4L610.5 931.8M613.1 934.3L611.9 933.3L611.1 931.9M614.9 936L613.4 936.6L612 937.5M618 935.6L617.9 937.2L617.6 938.8L617.2 940.3M620.3 935.6L619.9 937.2L620 938.8M627.4 936.8L625.9 936.5L624.7 935.4M602.1 938.1L600.7 938.7L599.2 939.5M604.1 938.9L605 937.6L606.5 937.1L607.9 936.3M619.5 940.9L619.7 942.5L619.3 944M605.9 934.1L605.9 932.5L605.3 931M591.5 945.2L590.3 944.1L589.4 942.9M589.3 949.1L588.9 947.6L588.9 946" stroke-width="3.6"/></g>
<g fill="none" stroke="#e030e0" opacity="1.0" stroke-linecap="round" stroke-linejoin="round"><path d="M582.8 773.5C582.3 774.1 580.9 775.8 579.9 777C578.9 778.2 577.8 779.7 576.9 780.7C575.9 781.8 574.7 782 574.1 783.3C573.6 784.6 573.7 786.6 573.5 788.4C573.3 790.1 573.1 792 572.9 793.6C572.7 795.2 572.3 796.4 572.3 797.8C572.2 799.2 572.5 800.5 572.5 801.8C572.4 803.2 572.1 804.7 572.1 806C572 807.3 572.2 808.1 572.2 809.5C572.3 810.9 572.4 813 572.4 814.4C572.4 815.8 572.1 816.5 572.1 817.9C572.1 819.2 572.4 821.1 572.4 822.5C572.5 823.8 572.7 824.7 572.6 826.1C572.5 827.4 571.8 829.1 571.7 830.6C571.7 832 572.1 833.3 572.3 834.8C572.4 836.2 572.6 838.1 572.6 839.4C572.7 840.8 572.3 841.7 572.5 843C572.7 844.3 573.6 845.8 573.8 847.2C574.1 848.6 573.8 850 573.8 851.4C573.9 852.8 574.3 854.4 574.1 855.9C574 857.3 572.7 858.6 572.8 860C573 861.4 574.4 862.8 575.2 864.1C576 865.4 576.9 866.5 577.7 867.8C578.5 869 579.1 870.5 579.9 871.7C580.7 873 581.7 874.1 582.5 875.4C583.3 876.7 583.9 878.2 584.7 879.6C585.4 880.9 586.4 881.9 586.9 883.5C587.5 885 587.4 887.3 587.9 889C588.4 890.7 589.3 892.1 589.9 893.7C590.5 895.3 591.1 897.2 591.6 898.7C592.2 900.2 592.7 901.3 593.2 902.9C593.7 904.5 594 906.6 594.5 908.3C595 909.9 596 911.4 596.3 912.8C596.6 914.2 596.2 915.4 596.4 916.9C596.5 918.3 597.1 920 597.3 921.4C597.5 922.9 597.1 924.2 597.5 925.7C597.8 927.2 598.9 928.9 599.5 930.5C600.1 932.1 600.7 934.3 601 935.1M585.7 895.2C585.6 895.9 585.1 898.2 585.1 899.7C585.1 901.3 585.8 903 585.7 904.5C585.6 906.1 584.7 907.9 584.6 909.3C584.5 910.6 584.9 911.4 584.9 912.8C585 914.1 585 915.7 585 917.2C585.1 918.7 585.1 920.3 585.2 921.7C585.3 923.1 585.3 924.2 585.7 925.7C586.2 927.2 587.2 929.4 588 931C588.8 932.5 590 934.4 590.4 935.1" stroke-width="1.2"/><path d="M586.9 883.5L589.8 882.6L593.2 880.7L595.1 881.1L597.6 880.2L598.7 878.1L600.9 878.3L603.3 875.2L604.8 872.8L606.9 871.5L608.1 869.6L610.1 867.4L611.6 865.9M594 883.5L594.8 885.2L598.5 885.4L599.8 887.1L599.9 888.7L603.3 889.3L605.5 891.8L609.3 890.5L611.6 891.7M586.9 888.2L585.4 889.9L582.8 891.9L583.4 894L581.1 896.4M584.6 896.4L581.1 897.9L580.5 898.2L578.6 899.1L575.2 899.9L573 901.1L569.7 901.2L568.2 902.8L565.4 904.4L563.5 905.7L562.2 905.7L560.2 907.9L558.6 910.1L555.4 910.8L554.8 911.7L551.7 912.8L549.6 912.8L547.9 915.1L545.9 916.3M575.2 899.9L575.8 897.8L574.6 894.6M563.5 905.2L562.7 901.8L562.9 899.9M575.2 914.5L573.1 915.8L570.5 918.7M605.7 930.4L607.9 929.8L610.4 929L613.2 928.6L614.7 928.7L618.8 927.2L619.8 926.9L621.7 925.7L624.3 924.7L627.6 922.8L627.9 922.4L630.4 920.6L632.7 920.1M597.5 936.2L596.8 938L593.8 939.3L591.4 940.2L589.1 941.4L587.7 941.9L586.4 944.8L584.1 946.4L582.9 947L580.9 949L577.8 950.2L576.4 951.3L574.9 953.3L573.5 954.5L571.4 957.3L569.3 958.5L567.2 959.4L565.8 961.5L564.1 963.4L562.4 964.6L561.1 966.7M597.5 936.2L596 938.2L595.2 939.7L593.4 941.7L591.7 943.6L590.3 945.8L589 947.7L586.6 947.8L586.8 949.7L584.6 951.7L583.6 952.6L582.3 955.7L582.1 957.7L579.7 958.9L577.7 960.7L576.7 963.1L574.9 964.2L574.4 966.5L572.6 967L571.7 970.3M597.5 936.2L596.8 937.9L594.7 939.9L594.7 943L592.5 944.5L591.9 946.1L591.2 948.7L590.7 950.9L588.6 952.6L587.6 954.9L586 956.3L583.4 957.3L583 959.6L582.1 962.7L580.5 963.4L578.7 965.6M597.5 936.2L596.7 938.3L597.5 940L596.2 943.5L595.2 945.5L595.4 946.8L594.9 951.2L596 953.2L593.1 954.9L593.6 957L592.8 958.4L591.2 961.4L590.3 963.9L589.5 965.4L588.6 968.3L588.4 970.6L586.9 972.6M597.5 936.2L597.3 938L597.3 941L596.1 943L598 945.4L596.6 947.6L596.3 949.6L595.8 952.1L595.2 953.9L595.3 955.5L595.5 958.6L595 962.5L594.3 962.8L594.5 965L593.5 968.1L594 970.3M597.5 936.2L598.7 938.4L598.2 940.6L599.5 942.9L599.9 946.4L600.8 947.6L600.4 949.6L601.6 951.1L601.2 954.6L603.1 955.7L602.1 957.9L603.9 962L603.3 963.2M597.5 936.2L599.6 938L601.3 940.7L602 941.9L603.6 944.2L604.7 944.9L607.2 946.5L608.5 949.2L608.4 951.1L609 954L611.7 956.1L612.4 957.2L613.2 960.5L613.7 961.6L616.8 963.1L616.2 965.6M597.5 936.2L598.5 937.2L601.3 940L602.9 941.3L604.2 943.4L605.5 944.9L607.6 946.2L609.2 949L610.4 950.2L613 952.3L614.8 953.1L617.5 954.7L618.8 956.1L620.2 957.5L621.7 959L624.5 960.9M597.5 936.2L600.4 937.8L600.9 939.7L603.2 941.1L604.4 942.3L607.1 944.8L608.1 945.9L610.1 948.5L611.1 949.9L613.9 951.9L615.1 953.8M597.5 936.2L599.3 936.4L601.8 936.5L604.2 934.9L606.7 936.1L607.4 935.5L611 935L613.1 934.3L614.9 936L618 935.6L620.3 935.6L621.8 934.6L625.9 936.7L627.4 936.8L629.1 936.2M597.5 936.2L600.3 936.1L602.1 938.1L604.1 938.9L606.7 939.6L609.4 939.9L611.7 940.7L614.5 940.6L616.8 940.4L619.5 940.9L622.1 942.1M597.5 936.2L601.1 934.8L603.9 933.1L605.9 934.1L607.7 932.3L608 931.4L610.4 929.2M597.5 936.2L596.6 937.3L593.7 940.8L593.1 943.7L591.5 945.2L590.7 947L589.3 949.1M597.5 936.2L600.2 938.6L601.8 940.7L603.8 943.4L604.9 944.6L605.7 946.8" stroke-width="1.5"/><path d="M599.9 888.7L598.5 889.6L597 889.9M582.8 891.9L581.2 892L579.7 891.4M583.4 894L582.5 895.3L581.2 896.3M581.1 896.4L582 897.7L583.3 898.6M575.2 899.9L575.7 901.4L576.6 902.8M563.5 905.7L564.9 906.5L566.2 907.3M570.5 918.7L569.7 917.3L568.9 915.9L568.6 914.3M593.8 939.3L594.1 940.9L593.9 942.5M591.4 940.2L592.7 941.2L594.1 941.9L595.6 942.5M589.1 941.4L587.6 940.7L586.2 940.1M586.4 944.8L587.8 943.9L589 942.9M567.2 959.4L565.6 959.3L564 959.3M565.8 961.5L564.5 962.4L563 963M562.4 964.6L562.1 963L561.9 961.4M595.2 939.7L595.6 941.3L596.2 942.8M589 947.7L588.6 946.1L588.1 944.6M594.7 939.9L593.3 940.8L591.8 941.3L590.5 942.1M594.7 943L593.8 944.3L593.2 945.8M591.2 948.7L592.1 947.4L592.3 945.8M590.7 950.9L589.3 950.1L588 949.3M588.6 952.6L590.2 952.4L591.7 952L593.3 952.1M582.1 962.7L580.6 962.8L579 962.7M580.5 963.4L581 961.9L582 960.6M596.2 943.5L595.4 944.9L594.5 946.3L593.7 947.7M595.2 945.5L595.4 943.9L595.9 942.4M595.4 946.8L596.9 947.5L598 948.6M594.9 951.2L593.5 952L591.9 952.4L590.4 952.9M592.8 958.4L594.2 957.5L595.2 956.3L596 955M590.3 963.9L589.7 965.4L588.8 966.8M588.4 970.6L589.1 972L589.9 973.5L590.1 975M597.3 941L595.7 940.8L594.1 940.5M596.3 949.6L597.9 949.4L599.5 949.3M595.8 952.1L595.4 950.6L595.1 949M595.2 953.9L595 955.5L594.6 957L594.1 958.6M595.3 955.5L596.8 956.1L598 957.2L599.2 958.2M595.5 958.6L596.5 957.3L597.8 956.5L599.1 955.5M594 970.3L592.4 970.5L590.9 971M600.4 949.6L599.9 948.1L599.6 946.6L599.4 945M601.6 951.1L602.9 950.1L603.9 948.9M601.2 954.6L600.1 953.4L599 952.2M602.1 957.9L601.3 956.6L600.8 955L599.9 953.7M603.9 962L602.5 962.7L601 963.4L599.9 964.6M603.6 944.2L604.1 942.7L603.6 941.1M607.2 946.5L607.1 944.9L606.7 943.3M608.5 949.2L609.4 947.9L610.3 946.6M611.7 956.1L611.3 957.6L610.7 959.1L610.3 960.7M616.2 965.6L617.2 964.3L618.6 963.5M601.3 940L601.5 938.5L602.1 937M605.5 944.9L605.1 943.4L604.4 942M607.6 946.2L607.9 947.7L607.4 949.3L607.4 950.9M613 952.3L613.2 953.8L612.4 955.2M617.5 954.7L617.5 953.1L617.6 951.5M618.8 956.1L620.3 956.4L621.6 957.3M603.2 941.1L601.6 940.8L600.1 941.2L598.5 941.3M610.1 948.5L610.5 950L610.7 951.6M611.1 949.9L612.6 950.6L614.2 950.5M601.8 936.5L600.2 936.2L598.8 935.5M604.2 934.9L605.8 935.4L607.3 935.7L608.9 935.7M611 935L610.6 933.4L610.5 931.8M613.1 934.3L611.9 933.3L611.1 931.9M614.9 936L613.4 936.6L612 937.5M618 935.6L617.9 937.2L617.6 938.8L617.2 940.3M620.3 935.6L619.9 937.2L620 938.8M627.4 936.8L625.9 936.5L624.7 935.4M602.1 938.1L600.7 938.7L599.2 939.5M604.1 938.9L605 937.6L606.5 937.1L607.9 936.3M619.5 940.9L619.7 942.5L619.3 944M605.9 934.1L605.9 932.5L605.3 931M591.5 945.2L590.3 944.1L589.4 942.9M589.3 949.1L588.9 947.6L588.9 946" stroke-width="1.2"/></g>
<g fill="#f870f8" opacity="1.0"><circle cx="590.3" cy="882.6" r="0.9"/><circle cx="595" cy="881" r="1.5"/><circle cx="597.2" cy="880.3" r="0.9"/><circle cx="598.8" cy="878.1" r="1.3"/><circle cx="601" cy="878.6" r="1.4"/><circle cx="603.5" cy="875.4" r="1.5"/><circle cx="607" cy="871" r="1.4"/><circle cx="611.6" cy="865.9" r="1.9"/><circle cx="594.9" cy="885.2" r="1"/><circle cx="598.5" cy="885.9" r="1"/><circle cx="600" cy="887.3" r="1.2"/><circle cx="597" cy="889.9" r="1.2"/><circle cx="611.6" cy="891.7" r="1.7"/><circle cx="585.5" cy="890.1" r="1"/><circle cx="582.5" cy="892.1" r="1.5"/><circle cx="579.7" cy="891.4" r="1"/><circle cx="583.4" cy="893.7" r="1.1"/><circle cx="581.2" cy="896.3" r="1.5"/><circle cx="580.8" cy="896" r="1.4"/><circle cx="583.3" cy="898.6" r="1.4"/><circle cx="581.1" cy="896.4" r="1.3"/><circle cx="580.7" cy="898" r="1.2"/><circle cx="580.2" cy="898.3" r="1.5"/><circle cx="578.6" cy="899.5" r="1"/><circle cx="576.6" cy="902.8" r="1.6"/><circle cx="569.4" cy="901.4" r="1"/><circle cx="568.3" cy="902.6" r="1.5"/><circle cx="565.4" cy="904.5" r="1"/><circle cx="566.2" cy="907.3" r="1.5"/><circle cx="562.2" cy="905.9" r="1"/><circle cx="560.1" cy="908.1" r="1.5"/><circle cx="558.4" cy="910.2" r="1.1"/><circle cx="555.8" cy="910.8" r="1"/><circle cx="555" cy="911.9" r="1.1"/><circle cx="550.1" cy="912.4" r="1.5"/><circle cx="547.2" cy="915.4" r="1.3"/><circle cx="545.6" cy="916.3" r="0.9"/><circle cx="545.9" cy="916.3" r="1.7"/><circle cx="575" cy="894.9" r="1"/><circle cx="574.6" cy="894.6" r="1.4"/><circle cx="562.8" cy="902" r="1"/><circle cx="562.8" cy="900" r="1.6"/><circle cx="562.9" cy="899.9" r="1.6"/><circle cx="573.2" cy="916.5" r="1.1"/><circle cx="570.5" cy="918.5" r="1.3"/><circle cx="568.6" cy="914.3" r="1.2"/><circle cx="570.5" cy="918.7" r="1.7"/><circle cx="608" cy="929.8" r="1.4"/><circle cx="614.8" cy="928.8" r="1.4"/><circle cx="619.9" cy="926.7" r="1.3"/><circle cx="621.8" cy="925.9" r="1.5"/><circle cx="624.3" cy="925.4" r="1.4"/><circle cx="627.8" cy="922.1" r="0.9"/><circle cx="630.7" cy="920.7" r="1.5"/><circle cx="632.7" cy="920.1" r="1.5"/><circle cx="596.8" cy="938.6" r="1.2"/><circle cx="593.9" cy="942.5" r="1.7"/><circle cx="595.6" cy="942.5" r="1.5"/><circle cx="586.2" cy="940.1" r="1.6"/><circle cx="587.3" cy="941.9" r="1.5"/><circle cx="586" cy="944.7" r="1"/><circle cx="589" cy="942.9" r="1.2"/><circle cx="583.8" cy="946.2" r="1.3"/><circle cx="582.6" cy="947.3" r="1.4"/><circle cx="581" cy="949.2" r="1"/><circle cx="578.1" cy="950.5" r="1.1"/><circle cx="576.2" cy="950.9" r="1.3"/><circle cx="574.9" cy="953.1" r="1.2"/><circle cx="574.1" cy="954.8" r="1"/><circle cx="571.7" cy="957" r="1.5"/><circle cx="567" cy="959.7" r="1.2"/><circle cx="564" cy="959.3" r="1.1"/><circle cx="565.9" cy="961.9" r="1.2"/><circle cx="563" cy="963" r="1.1"/><circle cx="564.7" cy="963.3" r="1.1"/><circle cx="562.2" cy="964.3" r="1"/><circle cx="561.9" cy="961.4" r="1.6"/><circle cx="561" cy="967" r="1"/><circle cx="561.1" cy="966.7" r="1.9"/><circle cx="595.4" cy="939.2" r="1"/><circle cx="596.2" cy="942.8" r="1.7"/><circle cx="593.4" cy="941.4" r="1.3"/><circle cx="591.3" cy="943.3" r="1.1"/><circle cx="588.8" cy="947.6" r="1.4"/><circle cx="588.1" cy="944.6" r="1.3"/><circle cx="586.7" cy="947.8" r="1.2"/><circle cx="587.5" cy="949.9" r="1.4"/><circle cx="584.4" cy="951.2" r="1.2"/><circle cx="583.2" cy="951.9" r="1.5"/><circle cx="581.8" cy="955.6" r="1.2"/><circle cx="582.6" cy="957.9" r="1"/><circle cx="580" cy="958.7" r="1"/><circle cx="577.6" cy="960.5" r="1"/><circle cx="576.7" cy="963.3" r="1.1"/><circle cx="575.2" cy="964.5" r="1.4"/><circle cx="574.7" cy="966" r="1.2"/><circle cx="572.3" cy="966.6" r="1.5"/><circle cx="572.5" cy="970.8" r="0.9"/><circle cx="571.7" cy="970.3" r="1.9"/><circle cx="597.1" cy="937.9" r="1.4"/><circle cx="594.3" cy="940" r="1.5"/><circle cx="590.5" cy="942.1" r="1.1"/><circle cx="593.2" cy="945.8" r="1.1"/><circle cx="592.7" cy="944.2" r="1"/><circle cx="591.5" cy="946.1" r="1.1"/><circle cx="591.2" cy="949" r="1"/><circle cx="592.3" cy="945.8" r="1.5"/><circle cx="588" cy="949.3" r="1.4"/><circle cx="588.4" cy="952.7" r="1"/><circle cx="593.3" cy="952.1" r="1.6"/><circle cx="585.7" cy="956.3" r="1.4"/><circle cx="582.5" cy="959.6" r="1.3"/><circle cx="582.3" cy="962.4" r="1.5"/><circle cx="579" cy="962.7" r="1.3"/><circle cx="582" cy="960.6" r="1.4"/><circle cx="578.7" cy="965.6" r="1.4"/><circle cx="597" cy="940.4" r="1.2"/><circle cx="596.2" cy="943.3" r="1.5"/><circle cx="593.7" cy="947.7" r="1.3"/><circle cx="595" cy="945.7" r="1.2"/><circle cx="595.9" cy="942.4" r="1"/><circle cx="595.1" cy="946.5" r="1.2"/><circle cx="598" cy="948.6" r="1.1"/><circle cx="595" cy="951.2" r="1.5"/><circle cx="590.4" cy="952.9" r="1.4"/><circle cx="596.6" cy="953" r="1.5"/><circle cx="593.5" cy="957.2" r="1.5"/><circle cx="592.6" cy="958.6" r="1.5"/><circle cx="596" cy="955" r="1.1"/><circle cx="589.8" cy="963.9" r="1.3"/><circle cx="588.8" cy="966.8" r="1.5"/><circle cx="588.2" cy="971.1" r="1"/><circle cx="590.1" cy="975" r="1.2"/><circle cx="586.9" cy="972.6" r="1.6"/><circle cx="596.8" cy="937.6" r="1.4"/><circle cx="597.7" cy="940.8" r="0.9"/><circle cx="594.1" cy="940.5" r="1.1"/><circle cx="596.5" cy="943.1" r="1.2"/><circle cx="598.2" cy="945.1" r="1"/><circle cx="597.3" cy="947.3" r="0.9"/><circle cx="596.2" cy="950" r="1.2"/><circle cx="599.5" cy="949.3" r="1"/><circle cx="595.9" cy="952.2" r="0.9"/><circle cx="595.1" cy="949" r="1.7"/><circle cx="594.1" cy="958.6" r="1.7"/><circle cx="595.2" cy="955.5" r="1.1"/><circle cx="599.2" cy="958.2" r="1.1"/><circle cx="594.9" cy="958.6" r="1.1"/><circle cx="599.1" cy="955.5" r="1.5"/><circle cx="594.2" cy="962.6" r="1.4"/><circle cx="593.7" cy="970.3" r="1"/><circle cx="590.9" cy="971" r="1.6"/><circle cx="594" cy="970.3" r="1.6"/><circle cx="598.7" cy="938.6" r="1.2"/><circle cx="598.3" cy="940.9" r="1.3"/><circle cx="599.9" cy="946.2" r="1.4"/><circle cx="600.6" cy="947.5" r="1.2"/><circle cx="599.4" cy="945" r="1.3"/><circle cx="601.2" cy="950.9" r="1.6"/><circle cx="603.9" cy="948.9" r="1.2"/><circle cx="601" cy="954.7" r="1.2"/><circle cx="599" cy="952.2" r="1.4"/><circle cx="603" cy="955" r="1"/><circle cx="599.9" cy="953.7" r="1"/><circle cx="604.1" cy="961.2" r="1.1"/><circle cx="599.9" cy="964.6" r="1.2"/><circle cx="603.3" cy="963.2" r="1.6"/><circle cx="601.3" cy="940.6" r="1.1"/><circle cx="601.8" cy="941.6" r="1.5"/><circle cx="604.1" cy="944.2" r="1.2"/><circle cx="603.6" cy="941.1" r="1.6"/><circle cx="605.3" cy="945.3" r="1.2"/><circle cx="607.5" cy="946.7" r="1.3"/><circle cx="606.7" cy="943.3" r="1.7"/><circle cx="608.7" cy="948.8" r="1.3"/><circle cx="610.3" cy="946.6" r="1.5"/><circle cx="607.6" cy="951" r="1.6"/><circle cx="609.2" cy="954.1" r="1"/><circle cx="610.3" cy="960.7" r="1.4"/><circle cx="612.6" cy="956.8" r="1"/><circle cx="614.1" cy="960.3" r="1.1"/><circle cx="613.7" cy="961.8" r="0.9"/><circle cx="616.1" cy="965.5" r="1.1"/><circle cx="618.6" cy="963.5" r="1.7"/><circle cx="616.2" cy="965.6" r="1.3"/><circle cx="598.5" cy="936.7" r="1.6"/><circle cx="602.1" cy="937" r="1.4"/><circle cx="605.1" cy="945.2" r="0.9"/><circle cx="604.4" cy="942" r="1.6"/><circle cx="608.1" cy="946.1" r="1.2"/><circle cx="607.4" cy="950.9" r="1.3"/><circle cx="610" cy="950.2" r="1.3"/><circle cx="613.2" cy="952.4" r="1.5"/><circle cx="612.4" cy="955.2" r="1"/><circle cx="615" cy="953.2" r="1.1"/><circle cx="617.4" cy="954.4" r="1.5"/><circle cx="617.6" cy="951.5" r="1.6"/><circle cx="618.7" cy="955.7" r="1.1"/><circle cx="621.6" cy="957.3" r="1.6"/><circle cx="621.9" cy="959.1" r="1.1"/><circle cx="624.4" cy="960.6" r="1.3"/><circle cx="624.5" cy="960.9" r="1.7"/><circle cx="599.7" cy="938" r="1.4"/><circle cx="600.7" cy="940.1" r="1.4"/><circle cx="603.1" cy="941.1" r="1.3"/><circle cx="598.5" cy="941.3" r="1.4"/><circle cx="606.9" cy="945.1" r="1.5"/><circle cx="608.3" cy="946" r="1.1"/><circle cx="610.7" cy="951.6" r="1.2"/><circle cx="611.4" cy="950.1" r="0.9"/><circle cx="614.2" cy="950.5" r="1.5"/><circle cx="615.1" cy="953.8" r="1.5"/><circle cx="601.3" cy="936.3" r="1.3"/><circle cx="598.8" cy="935.5" r="1.2"/><circle cx="604.5" cy="935" r="1.3"/><circle cx="608.9" cy="935.7" r="1.2"/><circle cx="606.2" cy="936.6" r="1.4"/><circle cx="607.7" cy="935.5" r="1.1"/><circle cx="610.5" cy="931.8" r="1.4"/><circle cx="611.1" cy="931.9" r="1.1"/><circle cx="612" cy="937.5" r="1.4"/><circle cx="617.2" cy="940.3" r="1.7"/><circle cx="620" cy="938.8" r="1"/><circle cx="621.9" cy="934.4" r="1.3"/><circle cx="626.2" cy="936.5" r="1.6"/><circle cx="628" cy="936.5" r="1.1"/><circle cx="624.7" cy="935.4" r="1.1"/><circle cx="629.1" cy="936.2" r="1.5"/><circle cx="600.2" cy="936" r="1.5"/><circle cx="602" cy="938.5" r="1.3"/><circle cx="599.2" cy="939.5" r="1.7"/><circle cx="607.9" cy="936.3" r="1.6"/><circle cx="606.8" cy="940.1" r="1.4"/><circle cx="609.6" cy="940.4" r="1.4"/><circle cx="611.6" cy="940.3" r="0.9"/><circle cx="615" cy="940.6" r="1.4"/><circle cx="616.3" cy="940.3" r="1.6"/><circle cx="619.2" cy="940.6" r="1.3"/><circle cx="619.3" cy="944" r="1.3"/><circle cx="622.3" cy="942.2" r="1.1"/><circle cx="622.1" cy="942.1" r="1.8"/><circle cx="604.3" cy="932.9" r="1.5"/><circle cx="605.7" cy="933.9" r="1.2"/><circle cx="605.3" cy="931" r="1.5"/><circle cx="607.4" cy="931.2" r="1.2"/><circle cx="610.2" cy="929" r="1.5"/><circle cx="610.4" cy="929.2" r="1.5"/><circle cx="596.6" cy="937.3" r="1.5"/><circle cx="593.4" cy="940.6" r="1.2"/><circle cx="593.4" cy="943.6" r="1.4"/><circle cx="591.5" cy="944.8" r="1.4"/><circle cx="589.4" cy="942.9" r="1.4"/><circle cx="590.4" cy="947.1" r="1.4"/><circle cx="589.1" cy="948.7" r="1.5"/><circle cx="588.9" cy="946" r="1.5"/><circle cx="589.3" cy="949.1" r="1.4"/><circle cx="600.4" cy="938.5" r="1.5"/><circle cx="601.9" cy="940.2" r="1.1"/><circle cx="603.2" cy="943.3" r="1.4"/><circle cx="604.6" cy="944.8" r="1.5"/><circle cx="605.9" cy="946.7" r="1.2"/><circle cx="605.7" cy="946.8" r="1.9"/></g>
<g fill="#ffe9ff"><circle cx="608" cy="929.8" r="0.8"/><circle cx="619.9" cy="926.7" r="0.8"/><circle cx="621.8" cy="925.9" r="0.9"/><circle cx="593.9" cy="942.5" r="1"/><circle cx="587.3" cy="941.9" r="0.9"/><circle cx="586" cy="944.7" r="0.6"/><circle cx="589" cy="942.9" r="0.7"/><circle cx="578.1" cy="950.5" r="0.7"/><circle cx="576.2" cy="950.9" r="0.8"/><circle cx="574.9" cy="953.1" r="0.7"/><circle cx="567" cy="959.7" r="0.7"/><circle cx="563" cy="963" r="0.7"/><circle cx="561.9" cy="961.4" r="1"/><circle cx="561" cy="967" r="0.6"/><circle cx="591.3" cy="943.3" r="0.7"/><circle cx="588.8" cy="947.6" r="0.8"/><circle cx="588.1" cy="944.6" r="0.8"/><circle cx="587.5" cy="949.9" r="0.8"/><circle cx="584.4" cy="951.2" r="0.7"/><circle cx="577.6" cy="960.5" r="0.6"/><circle cx="576.7" cy="963.3" r="0.7"/><circle cx="575.2" cy="964.5" r="0.9"/><circle cx="571.7" cy="970.3" r="1.1"/><circle cx="594.3" cy="940" r="0.9"/><circle cx="593.2" cy="945.8" r="0.6"/><circle cx="591.5" cy="946.1" r="0.7"/><circle cx="588.4" cy="952.7" r="0.6"/><circle cx="582.5" cy="959.6" r="0.8"/><circle cx="593.7" cy="947.7" r="0.8"/><circle cx="598" cy="948.6" r="0.7"/><circle cx="596.6" cy="953" r="0.9"/><circle cx="589.8" cy="963.9" r="0.8"/><circle cx="590.1" cy="975" r="0.7"/><circle cx="597.3" cy="947.3" r="0.6"/><circle cx="596.2" cy="950" r="0.7"/><circle cx="599.5" cy="949.3" r="0.6"/><circle cx="595.1" cy="949" r="1"/><circle cx="599.2" cy="958.2" r="0.6"/><circle cx="593.7" cy="970.3" r="0.6"/><circle cx="600.6" cy="947.5" r="0.7"/><circle cx="603" cy="955" r="0.6"/><circle cx="601.8" cy="941.6" r="0.9"/><circle cx="604.1" cy="944.2" r="0.7"/><circle cx="603.6" cy="941.1" r="0.9"/><circle cx="607.6" cy="951" r="1"/><circle cx="614.1" cy="960.3" r="0.6"/><circle cx="605.1" cy="945.2" r="0.6"/><circle cx="608.1" cy="946.1" r="0.7"/><circle cx="617.4" cy="954.4" r="0.9"/><circle cx="617.6" cy="951.5" r="1"/><circle cx="621.9" cy="959.1" r="0.6"/><circle cx="624.4" cy="960.6" r="0.8"/><circle cx="598.5" cy="941.3" r="0.8"/><circle cx="606.9" cy="945.1" r="0.9"/><circle cx="608.3" cy="946" r="0.7"/><circle cx="611.4" cy="950.1" r="0.6"/><circle cx="606.2" cy="936.6" r="0.8"/><circle cx="610.5" cy="931.8" r="0.9"/><circle cx="617.2" cy="940.3" r="1"/><circle cx="628" cy="936.5" r="0.7"/><circle cx="629.1" cy="936.2" r="0.9"/><circle cx="600.2" cy="936" r="0.9"/><circle cx="611.6" cy="940.3" r="0.6"/><circle cx="619.2" cy="940.6" r="0.8"/><circle cx="622.3" cy="942.2" r="0.6"/><circle cx="604.3" cy="932.9" r="0.9"/><circle cx="605.7" cy="933.9" r="0.7"/><circle cx="605.3" cy="931" r="0.9"/><circle cx="607.4" cy="931.2" r="0.7"/><circle cx="610.2" cy="929" r="0.9"/><circle cx="596.6" cy="937.3" r="0.9"/><circle cx="593.4" cy="940.6" r="0.7"/><circle cx="593.4" cy="943.6" r="0.8"/><circle cx="589.4" cy="942.9" r="0.8"/><circle cx="590.4" cy="947.1" r="0.9"/><circle cx="601.9" cy="940.2" r="0.7"/><circle cx="604.6" cy="944.8" r="0.9"/><circle cx="605.9" cy="946.7" r="0.7"/></g>
<circle cx="632.7" cy="920.3" r="2.2" fill="#ff7cff"/>
<circle cx="585.5" cy="768.8" r="5.2" fill="#bfa0d8" opacity="0.9" filter="url(#blur1)"/>
<circle cx="585.5" cy="768.8" r="4" fill="#5ee48e" filter="url(#blur1)"/>
<polygon points="568.8,831.6 553.8,826.6 558.3,831.6 553.8,836.6" fill="#fff"/>
<polygon points="561.1,960.9 566.1,945.9 561.1,950.4 556.1,945.9" fill="#fff"/>
<polygon points="615.4,970.6 610.4,985.6 615.4,981.1 620.4,985.6" fill="#fff"/>
<polygon points="578.6,842.7 594.7,837.9 594.7,846.9" fill="#1b98e0"/>
<text x="530.6" y="773.2" font-size="20" font-family="Liberation Sans, sans-serif" fill="#fff">10dpf</text>
<text x="674.7" y="979.7" font-size="16.8" text-anchor="end" font-family="Liberation Sans, sans-serif" fill="#dc3ede">mKate2f</text>
<text x="675.5" y="998.7" font-size="16.8" text-anchor="end" font-family="Liberation Sans, sans-serif" fill="#38dc42">FingR(PSD95)</text>
</g>
<text x="2.6" y="773.1" font-size="40" font-family="Liberation Sans, sans-serif" fill="#000">b</text>
<polygon points="804.1,881.4 843.5,816.2 882.8,835.6 922.2,827.7 961.6,792.8 1001.0,789.2 1040.3,814.9 1040.3,889.6 1001.0,850.1 961.6,841.5 922.2,877.4 882.8,883.7 843.5,856.7 804.1,953.2" fill="#d3e3f0" stroke="#b4cde2" stroke-width="1"/>
<polyline points="804.1,917.0 843.5,837.3 882.8,860.6 922.2,852.7 961.6,816.5 1001.0,820.8 1040.3,852.1" fill="none" stroke="#1f6fa8" stroke-width="2.1" stroke-linejoin="round"/>
<path d="M792.5 780.6V961.4H1052.5M804.1 961.4V966.8M843.5 961.4V966.8M882.8 961.4V966.8M922.2 961.4V966.8M961.6 961.4V966.8M1001.0 961.4V966.8M1040.3 961.4V966.8M786.9 948.7H792.5M786.9 892.6H792.5M786.9 836.3H792.5" stroke="#111" stroke-width="1.5" fill="none"/>
<text x="804.1" y="984.5" font-size="14.9" text-anchor="middle" font-family="DejaVu Sans, Liberation Sans, sans-serif" fill="#111">4</text>
<text x="843.5" y="984.5" font-size="14.9" text-anchor="middle" font-family="DejaVu Sans, Liberation Sans, sans-serif" fill="#111">5</text>
<text x="882.8" y="984.5" font-size="14.9" text-anchor="middle" font-family="DejaVu Sans, Liberation Sans, sans-serif" fill="#111">6</text>
<text x="922.2" y="984.5" font-size="14.9" text-anchor="middle" font-family="DejaVu Sans, Liberation Sans, sans-serif" fill="#111">7</text>
<text x="961.6" y="984.5" font-size="14.9" text-anchor="middle" font-family="DejaVu Sans, Liberation Sans, sans-serif" fill="#111">8</text>
<text x="1001.0" y="984.5" font-size="14.9" text-anchor="middle" font-family="DejaVu Sans, Liberation Sans, sans-serif" fill="#111">9</text>
<text x="1040.3" y="984.5" font-size="14.9" text-anchor="middle" font-family="DejaVu Sans, Liberation Sans, sans-serif" fill="#111">10</text>
<text x="781.9" y="954.1" font-size="14.9" text-anchor="end" font-family="DejaVu Sans, Liberation Sans, sans-serif" fill="#111">100</text>
<text x="781.9" y="898.0" font-size="14.9" text-anchor="end" font-family="DejaVu Sans, Liberation Sans, sans-serif" fill="#111">120</text>
<text x="781.9" y="841.7" font-size="14.9" text-anchor="end" font-family="DejaVu Sans, Liberation Sans, sans-serif" fill="#111">140</text>
<text x="925.5" y="1016" font-size="19" text-anchor="middle" font-family="Liberation Sans, sans-serif" fill="#111">Days Post Fertilization (dpf)</text>
<text transform="translate(735.2 873.0) rotate(-90)" font-size="19" text-anchor="middle" font-family="Liberation Sans, sans-serif" fill="#111">Synapse Count</text>
<polyline points="1133.4,907.6 1172.8,834.6 1212.2,841.2 1251.7,832.2 1291.1,839.4 1330.5,839.9 1369.9,843.8" fill="none" stroke="#e98a62" stroke-width="2.25" stroke-linejoin="round"/>
<polyline points="1133.4,826.1 1172.8,832.2 1212.2,910.1 1251.7,886.0 1291.1,863.6 1330.5,866.4 1369.9,816.8" fill="none" stroke="#da574f" stroke-width="2.25" stroke-linejoin="round"/>
<polyline points="1133.4,890.6 1172.8,898.3 1212.2,902.2 1251.7,907.0 1291.1,896.5 1330.5,900.9 1369.9,923.0" fill="none" stroke="#b93262" stroke-width="2.25" stroke-linejoin="round"/>
<polyline points="1133.4,953.3 1172.8,878.5 1212.2,848.4 1251.7,841.2 1291.1,804.2 1330.5,789.0 1369.9,880.6" fill="none" stroke="#8b2568" stroke-width="2.25" stroke-linejoin="round"/>
<polyline points="1133.4,924.8 1172.8,848.4 1212.2,851.0 1251.7,866.2 1291.1,833.8 1330.5,853.1" fill="none" stroke="#561a5c" stroke-width="2.25" stroke-linejoin="round"/>
<path d="M1121.9 780.6V961.2H1382.3M1133.4 961.2V966.6M1172.8 961.2V966.6M1212.2 961.2V966.6M1251.7 961.2V966.6M1291.1 961.2V966.6M1330.5 961.2V966.6M1369.9 961.2V966.6M1116.3 954.6H1121.9M1116.3 917.3H1121.9M1116.3 880.1H1121.9M1116.3 842.8H1121.9M1116.3 805.5H1121.9" stroke="#111" stroke-width="1.5" fill="none"/>
<text x="1133.4" y="984.3" font-size="14.9" text-anchor="middle" font-family="DejaVu Sans, Liberation Sans, sans-serif" fill="#111">4</text>
<text x="1172.8" y="984.3" font-size="14.9" text-anchor="middle" font-family="DejaVu Sans, Liberation Sans, sans-serif" fill="#111">5</text>
<text x="1212.2" y="984.3" font-size="14.9" text-anchor="middle" font-family="DejaVu Sans, Liberation Sans, sans-serif" fill="#111">6</text>
<text x="1251.7" y="984.3" font-size="14.9" text-anchor="middle" font-family="DejaVu Sans, Liberation Sans, sans-serif" fill="#111">7</text>
<text x="1291.1" y="984.3" font-size="14.9" text-anchor="middle" font-family="DejaVu Sans, Liberation Sans, sans-serif" fill="#111">8</text>
<text x="1330.5" y="984.3" font-size="14.9" text-anchor="middle" font-family="DejaVu Sans, Liberation Sans, sans-serif" fill="#111">9</text>
<text x="1369.9" y="984.3" font-size="14.9" text-anchor="middle" font-family="DejaVu Sans, Liberation Sans, sans-serif" fill="#111">10</text>
<text x="1111.3" y="960.0" font-size="14.9" text-anchor="end" font-family="DejaVu Sans, Liberation Sans, sans-serif" fill="#111">75</text>
<text x="1111.3" y="922.7" font-size="14.9" text-anchor="end" font-family="DejaVu Sans, Liberation Sans, sans-serif" fill="#111">100</text>
<text x="1111.3" y="885.5" font-size="14.9" text-anchor="end" font-family="DejaVu Sans, Liberation Sans, sans-serif" fill="#111">125</text>
<text x="1111.3" y="848.2" font-size="14.9" text-anchor="end" font-family="DejaVu Sans, Liberation Sans, sans-serif" fill="#111">150</text>
<text x="1111.3" y="810.9" font-size="14.9" text-anchor="end" font-family="DejaVu Sans, Liberation Sans, sans-serif" fill="#111">175</text>
<text x="1251.6" y="1016" font-size="19" text-anchor="middle" font-family="Liberation Sans, sans-serif" fill="#111">Days Post Fertilization (dpf)</text>
<polygon points="1547.8,789.0 1592.2,901.5 1636.6,891.5 1680.9,874.3 1725.3,906.5 1769.7,892.9 1769.7,953.6 1725.3,915.8 1680.9,890.2 1636.6,910.1 1592.2,937.0 1547.8,861.0" fill="#d3e3f0" stroke="#b4cde2" stroke-width="1"/>
<path d="M1532.1 907.8H1792.3" stroke="#a3a3a3" stroke-width="2.1" stroke-dasharray="8.5 3.8" fill="none"/>
<polyline points="1547.8,824.5 1592.2,920.4 1636.6,900.8 1680.9,881.9 1725.3,911.4 1769.7,923.1" fill="none" stroke="#1f6fa8" stroke-width="2.1" stroke-linejoin="round"/>
<path d="M1532.1 781V961.4H1792.3M1547.8 961.4V966.8M1592.2 961.4V966.8M1636.6 961.4V966.8M1680.9 961.4V966.8M1725.3 961.4V966.8M1769.7 961.4V966.8M1526.5 960.5H1532.1M1526.5 908.0H1532.1M1526.5 855.6H1532.1M1526.5 803.1H1532.1" stroke="#111" stroke-width="1.5" fill="none"/>
<text x="1547.8" y="981.2" font-size="14.9" text-anchor="middle" font-family="DejaVu Sans, Liberation Sans, sans-serif" fill="#111">4-5</text>
<text x="1592.2" y="981.2" font-size="14.9" text-anchor="middle" font-family="DejaVu Sans, Liberation Sans, sans-serif" fill="#111">5-6</text>
<text x="1636.6" y="981.2" font-size="14.9" text-anchor="middle" font-family="DejaVu Sans, Liberation Sans, sans-serif" fill="#111">6-7</text>
<text x="1680.9" y="981.2" font-size="14.9" text-anchor="middle" font-family="DejaVu Sans, Liberation Sans, sans-serif" fill="#111">7-8</text>
<text x="1725.3" y="981.2" font-size="14.9" text-anchor="middle" font-family="DejaVu Sans, Liberation Sans, sans-serif" fill="#111">8-9</text>
<text x="1769.7" y="981.2" font-size="14.9" text-anchor="middle" font-family="DejaVu Sans, Liberation Sans, sans-serif" fill="#111">9-10</text>
<text x="1521.5" y="965.9" font-size="14.9" text-anchor="end" font-family="DejaVu Sans, Liberation Sans, sans-serif" fill="#111">−20</text>
<text x="1521.5" y="913.4" font-size="14.9" text-anchor="end" font-family="DejaVu Sans, Liberation Sans, sans-serif" fill="#111">0</text>
<text x="1521.5" y="861.0" font-size="14.9" text-anchor="end" font-family="DejaVu Sans, Liberation Sans, sans-serif" fill="#111">20</text>
<text x="1521.5" y="808.5" font-size="14.9" text-anchor="end" font-family="DejaVu Sans, Liberation Sans, sans-serif" fill="#111">40</text>
<text x="1659.5" y="1016" font-size="19" text-anchor="middle" font-family="Liberation Sans, sans-serif" fill="#111">Days Post Fertilization (dpf)</text>
<text transform="translate(1480.8 869.4) rotate(-90)" font-size="19" text-anchor="middle" font-family="Liberation Sans, sans-serif" fill="#111">Δ Synapse No (%)</text>
<path d="M1861.5 898.6H2121.4" stroke="#a3a3a3" stroke-width="2.1" stroke-dasharray="8.5 3.8" fill="none"/>
<polyline points="1876.4,823.5 1921.0,900.9 1965.6,892.2 2010.1,904.0 2054.7,898.9 2099.3,902.2" fill="none" stroke="#e98a62" stroke-width="2.25" stroke-linejoin="round"/>
<polyline points="1876.4,901.9 1921.0,953.9 1965.6,873.1 2010.1,877.3 2054.7,901.2 2099.3,856.9" fill="none" stroke="#da574f" stroke-width="2.25" stroke-linejoin="round"/>
<polyline points="1876.4,905.8 1921.0,903.2 1965.6,903.2 2010.1,887.3 2054.7,902.2 2099.3,921.2" fill="none" stroke="#b93262" stroke-width="2.25" stroke-linejoin="round"/>
<polyline points="1876.4,788.8 1921.0,872.4 1965.6,892.9 2010.1,870.8 2054.7,888.8 2099.3,953.4" fill="none" stroke="#8b2568" stroke-width="2.25" stroke-linejoin="round"/>
<polyline points="1876.4,808.9 1921.0,900.4 1965.6,910.4 2010.1,871.3 2054.7,913.3" fill="none" stroke="#561a5c" stroke-width="2.25" stroke-linejoin="round"/>
<path d="M1861.5 781.5V961.3H2121.4M1876.4 961.3V966.6999999999999M1921.0 961.3V966.6999999999999M1965.6 961.3V966.6999999999999M2010.1 961.3V966.6999999999999M2054.7 961.3V966.6999999999999M2099.3 961.3V966.6999999999999M1855.9 940.0H1861.5M1855.9 898.6H1861.5M1855.9 857.2H1861.5M1855.9 815.8H1861.5" stroke="#111" stroke-width="1.5" fill="none"/>
<text x="1876.4" y="981.1" font-size="14.9" text-anchor="middle" font-family="DejaVu Sans, Liberation Sans, sans-serif" fill="#111">4-5</text>
<text x="1921.0" y="981.1" font-size="14.9" text-anchor="middle" font-family="DejaVu Sans, Liberation Sans, sans-serif" fill="#111">5-6</text>
<text x="1965.6" y="981.1" font-size="14.9" text-anchor="middle" font-family="DejaVu Sans, Liberation Sans, sans-serif" fill="#111">6-7</text>
<text x="2010.1" y="981.1" font-size="14.9" text-anchor="middle" font-family="DejaVu Sans, Liberation Sans, sans-serif" fill="#111">7-8</text>
<text x="2054.7" y="981.1" font-size="14.9" text-anchor="middle" font-family="DejaVu Sans, Liberation Sans, sans-serif" fill="#111">8-9</text>
<text x="2099.3" y="981.1" font-size="14.9" text-anchor="middle" font-family="DejaVu Sans, Liberation Sans, sans-serif" fill="#111">9-10</text>
<text x="1850.9" y="945.4" font-size="14.9" text-anchor="end" font-family="DejaVu Sans, Liberation Sans, sans-serif" fill="#111">−25</text>
<text x="1850.9" y="904.0" font-size="14.9" text-anchor="end" font-family="DejaVu Sans, Liberation Sans, sans-serif" fill="#111">0</text>
<text x="1850.9" y="862.6" font-size="14.9" text-anchor="end" font-family="DejaVu Sans, Liberation Sans, sans-serif" fill="#111">25</text>
<text x="1850.9" y="821.2" font-size="14.9" text-anchor="end" font-family="DejaVu Sans, Liberation Sans, sans-serif" fill="#111">50</text>
<text x="1994.5" y="1016" font-size="19" text-anchor="middle" font-family="Liberation Sans, sans-serif" fill="#111">Days Post Fertilization (dpf)</text>
<text x="710.5" y="772.8" font-size="40" font-weight="bold" font-family="Liberation Sans, sans-serif" fill="#000">c</text>
<text x="1422.5" y="773" font-size="40" font-family="Liberation Sans, sans-serif" fill="#000">d</text>
</svg>
</body></html>
